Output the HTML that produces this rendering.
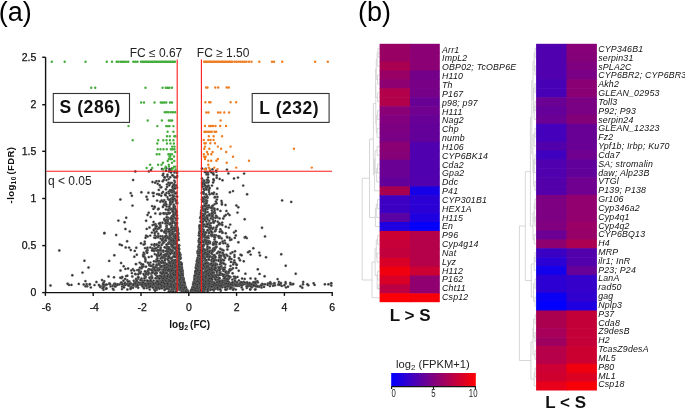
<!DOCTYPE html>
<html><head><meta charset="utf-8"><style>
html,body{margin:0;padding:0;background:#fff;}
body{width:685px;height:411px;overflow:hidden;position:relative;}
.dk circle{fill:#303030;stroke:#8a8a8a;stroke-width:0.32}
svg{position:absolute;left:0;top:0;font-family:"Liberation Sans",sans-serif;will-change:transform;filter:blur(0.3px);}
</style></head><body>
<svg width="685" height="411" viewBox="0 0 685 411">
<g stroke="#cdcdcd" stroke-width="0.8" fill="none"><path d="M379.6 48.3H378.0V57.2H379.6 M378.0 52.7H377.1V66.1H379.6 M379.6 75.0H377.6V83.9H379.6 M377.1 59.4H376.3V79.4H377.6 M379.6 92.8H377.6V101.7H379.6 M376.3 69.0H375.6V97.3H377.6 M379.6 110.6H377.6V119.5H379.6 M379.6 128.4H377.1V137.4H379.6 M377.6 115.1H376.3V132.9H377.1 M375.6 83.4H375.8V123.8H376.3 M379.6 146.3H377.1V155.2H379.6 M379.6 164.1H377.6V173.0H379.6 M377.6 168.5H376.6V181.9H379.6 M377.1 150.7H375.1V172.6H376.6 M375.1 158.7H374.6V190.8H379.6 M375.8 103.6H373.4V174.7H374.6 M379.6 199.7H377.5V208.6H379.6 M377.5 204.2H376.3V217.5H379.6 M376.3 208.5H375.4V226.5H379.6 M373.4 139.0H369.5V217.4H375.4 M379.6 235.4H377.6V244.3H379.6 M379.6 253.2H377.1V262.1H379.6 M377.6 239.8H376.3V257.6H377.1 M379.6 271.0H377.6V279.9H379.6 M376.3 248.6H375.1V275.5H377.6 M379.6 288.8H378.0V284.4H378.0 M375.1 275.3H377.2V288.8H379.6 M375.1 262.0H372.0V297.7H379.6 M369.5 178.2H362.2V280.0H372.0 "/><path d="M536.1 48.2H535.0V57.1H536.1 M536.1 66.0H535.0V74.9H536.1 M535.0 52.7H534.2V70.5H535.0 M536.1 83.8H535.0V92.7H536.1 M536.1 101.6H535.0V110.5H536.1 M535.0 106.0H534.2V119.3H536.1 M535.0 88.2H533.6V112.7H534.2 M534.2 61.5H533.0V100.0H533.6 M536.1 128.2H535.0V137.1H536.1 M535.0 132.7H534.2V146.0H536.1 M536.1 154.9H535.0V163.8H536.1 M535.0 159.3H534.2V172.7H536.1 M536.1 181.5H535.0V190.4H536.1 M534.2 160.0H533.6V186.0H535.0 M534.2 135.0H533.0V173.0H533.6 M533.0 80.8H531.8V154.0H533.0 M536.1 199.3H535.0V208.2H536.1 M536.1 217.1H535.0V226.0H536.1 M535.0 203.8H534.2V221.5H535.0 M536.1 234.9H534.2V243.8H536.1 M534.2 212.8H533.0V239.5H534.2 M531.8 117.4H530.4V226.0H533.0 M536.1 252.6H535.0V261.5H536.1 M535.0 257.1H534.2V270.4H536.1 M536.1 279.3H535.0V288.2H536.1 M536.1 297.1H535.0V306.0H536.1 M535.0 283.7H533.6V301.5H535.0 M534.2 264.0H531.3V297.0H533.6 M530.4 171.7H525.3V280.5H531.3 M536.1 314.9H535.0V323.7H536.1 M536.1 332.6H535.0V341.5H536.1 M535.0 319.3H533.6V337.1H535.0 M536.1 350.4H535.0V359.3H536.1 M533.6 328.0H533.0V354.8H535.0 M536.1 368.2H535.0V377.1H536.1 M535.0 372.6H534.2V385.9H536.1 M533.0 342.0H530.9V379.0H534.2 M525.3 226.0H519.4V360.5H530.9 "/></g>
<g font-style="italic" font-size="8.8" fill="#111" letter-spacing="0.2">
<rect x="379.60" y="43.80" width="30.90" height="9.51" fill="#990063"/>
<rect x="409.90" y="43.80" width="29.90" height="9.51" fill="#8b0074"/>
<rect x="379.60" y="52.71" width="30.90" height="9.51" fill="#990063"/>
<rect x="409.90" y="52.71" width="29.90" height="9.51" fill="#8b0074"/>
<rect x="379.60" y="61.62" width="30.90" height="9.51" fill="#aa0050"/>
<rect x="409.90" y="61.62" width="29.90" height="9.51" fill="#8b0074"/>
<rect x="379.60" y="70.53" width="30.90" height="9.51" fill="#990066"/>
<rect x="409.90" y="70.53" width="29.90" height="9.51" fill="#740089"/>
<rect x="379.60" y="79.44" width="30.90" height="9.51" fill="#8e0072"/>
<rect x="409.90" y="79.44" width="29.90" height="9.51" fill="#780086"/>
<rect x="379.60" y="88.35" width="30.90" height="9.51" fill="#b3004a"/>
<rect x="409.90" y="88.35" width="29.90" height="9.51" fill="#760088"/>
<rect x="379.60" y="97.26" width="30.90" height="9.51" fill="#b3004a"/>
<rect x="409.90" y="97.26" width="29.90" height="9.51" fill="#680096"/>
<rect x="379.60" y="106.17" width="30.90" height="9.51" fill="#8a0076"/>
<rect x="409.90" y="106.17" width="29.90" height="9.51" fill="#700090"/>
<rect x="379.60" y="115.08" width="30.90" height="9.51" fill="#820080"/>
<rect x="409.90" y="115.08" width="29.90" height="9.51" fill="#680097"/>
<rect x="379.60" y="123.99" width="30.90" height="9.51" fill="#7e0082"/>
<rect x="409.90" y="123.99" width="29.90" height="9.51" fill="#640099"/>
<rect x="379.60" y="132.90" width="30.90" height="9.51" fill="#7a0086"/>
<rect x="409.90" y="132.90" width="29.90" height="9.51" fill="#64009a"/>
<rect x="379.60" y="141.81" width="30.90" height="9.51" fill="#8a0074"/>
<rect x="409.90" y="141.81" width="29.90" height="9.51" fill="#5000ae"/>
<rect x="379.60" y="150.72" width="30.90" height="9.51" fill="#860078"/>
<rect x="409.90" y="150.72" width="29.90" height="9.51" fill="#5000ae"/>
<rect x="379.60" y="159.63" width="30.90" height="9.51" fill="#6a0094"/>
<rect x="409.90" y="159.63" width="29.90" height="9.51" fill="#5000ae"/>
<rect x="379.60" y="168.54" width="30.90" height="9.51" fill="#6a0094"/>
<rect x="409.90" y="168.54" width="29.90" height="9.51" fill="#5000ae"/>
<rect x="379.60" y="177.46" width="30.90" height="9.51" fill="#64009a"/>
<rect x="409.90" y="177.46" width="29.90" height="9.51" fill="#5200ad"/>
<rect x="379.60" y="186.37" width="30.90" height="9.51" fill="#a8004f"/>
<rect x="409.90" y="186.37" width="29.90" height="9.51" fill="#1800e6"/>
<rect x="379.60" y="195.28" width="30.90" height="9.51" fill="#3c00c2"/>
<rect x="409.90" y="195.28" width="29.90" height="9.51" fill="#2a00d4"/>
<rect x="379.60" y="204.19" width="30.90" height="9.51" fill="#3c00c2"/>
<rect x="409.90" y="204.19" width="29.90" height="9.51" fill="#2a00d4"/>
<rect x="379.60" y="213.10" width="30.90" height="9.51" fill="#5a00a4"/>
<rect x="409.90" y="213.10" width="29.90" height="9.51" fill="#1e00e0"/>
<rect x="379.60" y="222.01" width="30.90" height="9.51" fill="#1e00e0"/>
<rect x="409.90" y="222.01" width="29.90" height="9.51" fill="#0400fa"/>
<rect x="379.60" y="230.92" width="30.90" height="9.51" fill="#cc0033"/>
<rect x="409.90" y="230.92" width="29.90" height="9.51" fill="#b5004a"/>
<rect x="379.60" y="239.83" width="30.90" height="9.51" fill="#c8003a"/>
<rect x="409.90" y="239.83" width="29.90" height="9.51" fill="#b5004a"/>
<rect x="379.60" y="248.74" width="30.90" height="9.51" fill="#c2003e"/>
<rect x="409.90" y="248.74" width="29.90" height="9.51" fill="#b5004a"/>
<rect x="379.60" y="257.65" width="30.90" height="9.51" fill="#d80026"/>
<rect x="409.90" y="257.65" width="29.90" height="9.51" fill="#b5004a"/>
<rect x="379.60" y="266.56" width="30.90" height="9.51" fill="#f0000f"/>
<rect x="409.90" y="266.56" width="29.90" height="9.51" fill="#cc0032"/>
<rect x="379.60" y="275.47" width="30.90" height="9.51" fill="#d80026"/>
<rect x="409.90" y="275.47" width="29.90" height="9.51" fill="#900070"/>
<rect x="379.60" y="284.38" width="30.90" height="9.51" fill="#bc0044"/>
<rect x="409.90" y="284.38" width="29.90" height="9.51" fill="#900070"/>
<rect x="379.60" y="293.29" width="30.90" height="8.91" fill="#fb0004"/>
<rect x="409.90" y="293.29" width="29.90" height="8.91" fill="#f8000a"/>
<text x="442.0" y="52.65">Arr1</text>
<text x="442.0" y="61.49">ImpL2</text>
<text x="442.0" y="70.33">OBP02; TcOBP6E</text>
<text x="442.0" y="79.17">H110</text>
<text x="442.0" y="88.01">Th</text>
<text x="442.0" y="96.85">P167</text>
<text x="442.0" y="105.69">p98; p97</text>
<text x="442.0" y="114.53">H111</text>
<text x="442.0" y="123.37">Nag2</text>
<text x="442.0" y="132.21">Chp</text>
<text x="442.0" y="141.05">numb</text>
<text x="442.0" y="149.89">H106</text>
<text x="442.0" y="158.73">CYP6BK14</text>
<text x="442.0" y="167.57">Cda2</text>
<text x="442.0" y="176.41">Gpa2</text>
<text x="442.0" y="185.25">Ddc</text>
<text x="442.0" y="194.09">P41</text>
<text x="442.0" y="202.93">CYP301B1</text>
<text x="442.0" y="211.77">HEX1A</text>
<text x="442.0" y="220.61">H115</text>
<text x="442.0" y="229.45">En</text>
<text x="442.0" y="238.29">P96</text>
<text x="442.0" y="247.13">Cyp4g14</text>
<text x="442.0" y="255.97">Nat</text>
<text x="442.0" y="264.81">Lyz</text>
<text x="442.0" y="273.65">H112</text>
<text x="442.0" y="282.49">P162</text>
<text x="442.0" y="291.33">Cht11</text>
<text x="442.0" y="300.17">Csp12</text>
<rect x="536.10" y="43.80" width="31.00" height="9.49" fill="#5000ae"/>
<rect x="566.50" y="43.80" width="30.40" height="9.49" fill="#880078"/>
<rect x="536.10" y="52.69" width="31.00" height="9.49" fill="#5000ae"/>
<rect x="566.50" y="52.69" width="30.40" height="9.49" fill="#840079"/>
<rect x="536.10" y="61.58" width="31.00" height="9.49" fill="#5000ae"/>
<rect x="566.50" y="61.58" width="30.40" height="9.49" fill="#7e0081"/>
<rect x="536.10" y="70.47" width="31.00" height="9.49" fill="#5000ae"/>
<rect x="566.50" y="70.47" width="30.40" height="9.49" fill="#7a0086"/>
<rect x="536.10" y="79.36" width="31.00" height="9.49" fill="#4800b7"/>
<rect x="566.50" y="79.36" width="30.40" height="9.49" fill="#8a0074"/>
<rect x="536.10" y="88.25" width="31.00" height="9.49" fill="#4800b7"/>
<rect x="566.50" y="88.25" width="30.40" height="9.49" fill="#8a0074"/>
<rect x="536.10" y="97.14" width="31.00" height="9.49" fill="#6a0094"/>
<rect x="566.50" y="97.14" width="30.40" height="9.49" fill="#7c0082"/>
<rect x="536.10" y="106.03" width="31.00" height="9.49" fill="#640099"/>
<rect x="566.50" y="106.03" width="30.40" height="9.49" fill="#7a0084"/>
<rect x="536.10" y="114.92" width="31.00" height="9.49" fill="#6a0094"/>
<rect x="566.50" y="114.92" width="30.40" height="9.49" fill="#820078"/>
<rect x="536.10" y="123.81" width="31.00" height="9.49" fill="#4400ba"/>
<rect x="566.50" y="123.81" width="30.40" height="9.49" fill="#680096"/>
<rect x="536.10" y="132.70" width="31.00" height="9.49" fill="#4400ba"/>
<rect x="566.50" y="132.70" width="30.40" height="9.49" fill="#680096"/>
<rect x="536.10" y="141.59" width="31.00" height="9.49" fill="#5200ac"/>
<rect x="566.50" y="141.59" width="30.40" height="9.49" fill="#680096"/>
<rect x="536.10" y="150.48" width="31.00" height="9.49" fill="#4000bf"/>
<rect x="566.50" y="150.48" width="30.40" height="9.49" fill="#700090"/>
<rect x="536.10" y="159.37" width="31.00" height="9.49" fill="#5000ae"/>
<rect x="566.50" y="159.37" width="30.40" height="9.49" fill="#62009c"/>
<rect x="536.10" y="168.26" width="31.00" height="9.49" fill="#5000ae"/>
<rect x="566.50" y="168.26" width="30.40" height="9.49" fill="#62009c"/>
<rect x="536.10" y="177.15" width="31.00" height="9.49" fill="#5400aa"/>
<rect x="566.50" y="177.15" width="30.40" height="9.49" fill="#700090"/>
<rect x="536.10" y="186.04" width="31.00" height="9.49" fill="#5400aa"/>
<rect x="566.50" y="186.04" width="30.40" height="9.49" fill="#700090"/>
<rect x="536.10" y="194.93" width="31.00" height="9.49" fill="#7e0082"/>
<rect x="566.50" y="194.93" width="30.40" height="9.49" fill="#920070"/>
<rect x="536.10" y="203.82" width="31.00" height="9.49" fill="#7e0082"/>
<rect x="566.50" y="203.82" width="30.40" height="9.49" fill="#920070"/>
<rect x="536.10" y="212.71" width="31.00" height="9.49" fill="#7e0082"/>
<rect x="566.50" y="212.71" width="30.40" height="9.49" fill="#920070"/>
<rect x="536.10" y="221.59" width="31.00" height="9.49" fill="#800080"/>
<rect x="566.50" y="221.59" width="30.40" height="9.49" fill="#9a0066"/>
<rect x="536.10" y="230.48" width="31.00" height="9.49" fill="#6c0094"/>
<rect x="566.50" y="230.48" width="30.40" height="9.49" fill="#960068"/>
<rect x="536.10" y="239.37" width="31.00" height="9.49" fill="#8e0070"/>
<rect x="566.50" y="239.37" width="30.40" height="9.49" fill="#ac0052"/>
<rect x="536.10" y="248.26" width="31.00" height="9.49" fill="#3a00c4"/>
<rect x="566.50" y="248.26" width="30.40" height="9.49" fill="#5200ac"/>
<rect x="536.10" y="257.15" width="31.00" height="9.49" fill="#2a00d4"/>
<rect x="566.50" y="257.15" width="30.40" height="9.49" fill="#5200ac"/>
<rect x="536.10" y="266.04" width="31.00" height="9.49" fill="#1400ea"/>
<rect x="566.50" y="266.04" width="30.40" height="9.49" fill="#660098"/>
<rect x="536.10" y="274.93" width="31.00" height="9.49" fill="#2c00d2"/>
<rect x="566.50" y="274.93" width="30.40" height="9.49" fill="#3400ca"/>
<rect x="536.10" y="283.82" width="31.00" height="9.49" fill="#2c00d2"/>
<rect x="566.50" y="283.82" width="30.40" height="9.49" fill="#3400ca"/>
<rect x="536.10" y="292.71" width="31.00" height="9.49" fill="#0a00f4"/>
<rect x="566.50" y="292.71" width="30.40" height="9.49" fill="#3000ce"/>
<rect x="536.10" y="301.60" width="31.00" height="9.49" fill="#0000ff"/>
<rect x="566.50" y="301.60" width="30.40" height="9.49" fill="#1e00e0"/>
<rect x="536.10" y="310.49" width="31.00" height="9.49" fill="#aa004f"/>
<rect x="566.50" y="310.49" width="30.40" height="9.49" fill="#c40038"/>
<rect x="536.10" y="319.38" width="31.00" height="9.49" fill="#aa004f"/>
<rect x="566.50" y="319.38" width="30.40" height="9.49" fill="#c40038"/>
<rect x="536.10" y="328.27" width="31.00" height="9.49" fill="#a8005a"/>
<rect x="566.50" y="328.27" width="30.40" height="9.49" fill="#c40038"/>
<rect x="536.10" y="337.16" width="31.00" height="9.49" fill="#9e0060"/>
<rect x="566.50" y="337.16" width="30.40" height="9.49" fill="#c40038"/>
<rect x="536.10" y="346.05" width="31.00" height="9.49" fill="#b6004a"/>
<rect x="566.50" y="346.05" width="30.40" height="9.49" fill="#cc0030"/>
<rect x="536.10" y="354.94" width="31.00" height="9.49" fill="#b6004a"/>
<rect x="566.50" y="354.94" width="30.40" height="9.49" fill="#cc0030"/>
<rect x="536.10" y="363.83" width="31.00" height="9.49" fill="#cc0034"/>
<rect x="566.50" y="363.83" width="30.40" height="9.49" fill="#f0000e"/>
<rect x="536.10" y="372.72" width="31.00" height="9.49" fill="#d0002e"/>
<rect x="566.50" y="372.72" width="30.40" height="9.49" fill="#dc0022"/>
<rect x="536.10" y="381.61" width="31.00" height="8.89" fill="#e8001a"/>
<rect x="566.50" y="381.61" width="30.40" height="8.89" fill="#f80008"/>
<text x="598.2" y="52.00">CYP346B1</text>
<text x="598.2" y="60.83">serpin31</text>
<text x="598.2" y="69.65">sPLA2C</text>
<text x="598.2" y="78.48">CYP6BR2; CYP6BR3</text>
<text x="598.2" y="87.30">Akh2</text>
<text x="598.2" y="96.13">GLEAN_02953</text>
<text x="598.2" y="104.96">Toll3</text>
<text x="598.2" y="113.78">P92; P93</text>
<text x="598.2" y="122.61">serpin24</text>
<text x="598.2" y="131.43">GLEAN_12323</text>
<text x="598.2" y="140.26">Fz2</text>
<text x="598.2" y="149.09">Ypf1b; Irbp; Ku70</text>
<text x="598.2" y="157.91">Cda7</text>
<text x="598.2" y="166.74">SA; stromalin</text>
<text x="598.2" y="175.56">daw; Alp23B</text>
<text x="598.2" y="184.39">VTGl</text>
<text x="598.2" y="193.22">P139; P138</text>
<text x="598.2" y="202.04">Gr106</text>
<text x="598.2" y="210.87">Cyp346a2</text>
<text x="598.2" y="219.69">Cyp4q1</text>
<text x="598.2" y="228.52">Cyp4q2</text>
<text x="598.2" y="237.35">CYP6BQ13</text>
<text x="598.2" y="246.17">H4</text>
<text x="598.2" y="255.00">MRP</text>
<text x="598.2" y="263.82">ilr1; InR</text>
<text x="598.2" y="272.65">P23; P24</text>
<text x="598.2" y="281.48">LanA</text>
<text x="598.2" y="290.30">rad50</text>
<text x="598.2" y="299.13">gag</text>
<text x="598.2" y="307.95">Nplp3</text>
<text x="598.2" y="316.78">P37</text>
<text x="598.2" y="325.61">Cda8</text>
<text x="598.2" y="334.43">Z9desB</text>
<text x="598.2" y="343.26">H2</text>
<text x="598.2" y="352.08">TcasZ9desA</text>
<text x="598.2" y="360.91">ML5</text>
<text x="598.2" y="369.74">P80</text>
<text x="598.2" y="378.56">ML1</text>
<text x="598.2" y="387.39">Csp18</text>
</g>
<defs><linearGradient id="cb" x1="0" x2="1" y1="0" y2="0">
<stop offset="0" stop-color="#0000ff"/><stop offset="0.5" stop-color="#800080"/><stop offset="1" stop-color="#ff0000"/></linearGradient></defs>
<rect x="391.2" y="373" width="84.6" height="13.4" fill="url(#cb)"/>
<path d="M391.2 386.6H475.8 M391.6 386.6v2.5 M433.5 386.6v2.5 M475.4 386.6v2.5" stroke="#111" stroke-width="1.1" fill="none"/>
<g font-size="10" fill="#222" text-anchor="middle"><text transform="translate(393.6 397.4) scale(0.78 1)">0</text><text transform="translate(433.3 397.4) scale(0.78 1)">5</text><text transform="translate(473.2 397.4) scale(0.78 1)">10</text></g>

<g class="dk"><circle cx="202.1" cy="275.2" r="1.2"/><circle cx="160.5" cy="284.7" r="1.2"/><circle cx="203.2" cy="273.6" r="1.2"/><circle cx="168.9" cy="262.2" r="1.2"/><circle cx="218.2" cy="269.9" r="1.2"/><circle cx="180.4" cy="275.0" r="1.2"/><circle cx="87.2" cy="286.2" r="1.2"/><circle cx="224.3" cy="216.3" r="1.2"/><circle cx="163.8" cy="286.7" r="1.2"/><circle cx="159.7" cy="185.3" r="1.2"/><circle cx="180.3" cy="282.6" r="1.2"/><circle cx="234.9" cy="281.2" r="1.2"/><circle cx="165.5" cy="279.2" r="1.2"/><circle cx="208.1" cy="243.6" r="1.2"/><circle cx="179.4" cy="272.7" r="1.2"/><circle cx="170.3" cy="218.5" r="1.2"/><circle cx="220.8" cy="281.8" r="1.2"/><circle cx="179.0" cy="283.7" r="1.2"/><circle cx="170.3" cy="182.9" r="1.2"/><circle cx="152.2" cy="285.1" r="1.2"/><circle cx="175.3" cy="263.0" r="1.2"/><circle cx="144.1" cy="286.3" r="1.2"/><circle cx="225.1" cy="279.0" r="1.2"/><circle cx="199.0" cy="278.6" r="1.2"/><circle cx="182.7" cy="276.6" r="1.2"/><circle cx="141.5" cy="278.4" r="1.2"/><circle cx="198.9" cy="283.3" r="1.2"/><circle cx="247.1" cy="282.3" r="1.2"/><circle cx="171.7" cy="220.5" r="1.2"/><circle cx="211.9" cy="210.5" r="1.2"/><circle cx="193.8" cy="285.3" r="1.2"/><circle cx="225.3" cy="284.4" r="1.2"/><circle cx="196.2" cy="285.4" r="1.2"/><circle cx="156.3" cy="288.4" r="1.2"/><circle cx="303.2" cy="281.9" r="1.2"/><circle cx="169.0" cy="193.4" r="1.2"/><circle cx="163.1" cy="239.8" r="1.2"/><circle cx="208.6" cy="284.5" r="1.2"/><circle cx="195.6" cy="274.2" r="1.2"/><circle cx="158.3" cy="254.9" r="1.2"/><circle cx="197.3" cy="284.9" r="1.2"/><circle cx="176.7" cy="276.7" r="1.2"/><circle cx="205.2" cy="211.4" r="1.2"/><circle cx="220.1" cy="237.1" r="1.2"/><circle cx="162.4" cy="236.1" r="1.2"/><circle cx="201.5" cy="238.4" r="1.2"/><circle cx="184.9" cy="286.4" r="1.2"/><circle cx="200.9" cy="285.7" r="1.2"/><circle cx="179.6" cy="271.8" r="1.2"/><circle cx="216.6" cy="246.8" r="1.2"/><circle cx="167.4" cy="266.9" r="1.2"/><circle cx="203.0" cy="260.6" r="1.2"/><circle cx="169.3" cy="248.7" r="1.2"/><circle cx="198.9" cy="261.8" r="1.2"/><circle cx="172.5" cy="287.8" r="1.2"/><circle cx="177.1" cy="226.7" r="1.2"/><circle cx="175.4" cy="284.8" r="1.2"/><circle cx="207.0" cy="285.2" r="1.2"/><circle cx="163.1" cy="262.7" r="1.2"/><circle cx="170.9" cy="281.7" r="1.2"/><circle cx="197.7" cy="266.1" r="1.2"/><circle cx="205.2" cy="268.3" r="1.2"/><circle cx="186.3" cy="291.5" r="1.2"/><circle cx="221.1" cy="224.1" r="1.2"/><circle cx="167.3" cy="213.3" r="1.2"/><circle cx="201.6" cy="281.0" r="1.2"/><circle cx="181.6" cy="284.7" r="1.2"/><circle cx="221.7" cy="238.4" r="1.2"/><circle cx="204.3" cy="213.7" r="1.2"/><circle cx="203.1" cy="210.0" r="1.2"/><circle cx="162.2" cy="269.8" r="1.2"/><circle cx="216.4" cy="227.3" r="1.2"/><circle cx="198.3" cy="272.3" r="1.2"/><circle cx="136.7" cy="284.4" r="1.2"/><circle cx="203.0" cy="263.4" r="1.2"/><circle cx="177.7" cy="255.2" r="1.2"/><circle cx="167.0" cy="265.2" r="1.2"/><circle cx="152.8" cy="282.7" r="1.2"/><circle cx="140.2" cy="284.2" r="1.2"/><circle cx="192.4" cy="290.5" r="1.2"/><circle cx="174.1" cy="266.4" r="1.2"/><circle cx="204.5" cy="283.9" r="1.2"/><circle cx="197.7" cy="278.4" r="1.2"/><circle cx="166.1" cy="278.6" r="1.2"/><circle cx="171.3" cy="262.4" r="1.2"/><circle cx="196.7" cy="265.6" r="1.2"/><circle cx="203.3" cy="249.8" r="1.2"/><circle cx="209.7" cy="264.6" r="1.2"/><circle cx="137.2" cy="270.1" r="1.2"/><circle cx="214.6" cy="197.4" r="1.2"/><circle cx="203.0" cy="265.8" r="1.2"/><circle cx="195.9" cy="283.7" r="1.2"/><circle cx="214.4" cy="283.4" r="1.2"/><circle cx="198.1" cy="285.5" r="1.2"/><circle cx="215.4" cy="230.7" r="1.2"/><circle cx="202.8" cy="264.9" r="1.2"/><circle cx="256.2" cy="284.9" r="1.2"/><circle cx="176.6" cy="260.9" r="1.2"/><circle cx="85.5" cy="286.3" r="1.2"/><circle cx="164.0" cy="237.5" r="1.2"/><circle cx="197.8" cy="274.1" r="1.2"/><circle cx="176.5" cy="247.2" r="1.2"/><circle cx="162.5" cy="261.6" r="1.2"/><circle cx="149.3" cy="265.2" r="1.2"/><circle cx="192.4" cy="288.0" r="1.2"/><circle cx="209.5" cy="269.8" r="1.2"/><circle cx="158.4" cy="262.1" r="1.2"/><circle cx="164.4" cy="220.1" r="1.2"/><circle cx="220.3" cy="274.7" r="1.2"/><circle cx="229.6" cy="215.1" r="1.2"/><circle cx="175.2" cy="285.2" r="1.2"/><circle cx="207.9" cy="255.8" r="1.2"/><circle cx="207.0" cy="201.1" r="1.2"/><circle cx="206.0" cy="182.6" r="1.2"/><circle cx="152.5" cy="182.0" r="1.2"/><circle cx="146.1" cy="284.3" r="1.2"/><circle cx="157.1" cy="250.4" r="1.2"/><circle cx="177.5" cy="272.3" r="1.2"/><circle cx="204.4" cy="217.1" r="1.2"/><circle cx="208.7" cy="247.5" r="1.2"/><circle cx="153.3" cy="287.5" r="1.2"/><circle cx="280.4" cy="284.9" r="1.2"/><circle cx="195.6" cy="272.1" r="1.2"/><circle cx="200.0" cy="270.6" r="1.2"/><circle cx="184.8" cy="284.3" r="1.2"/><circle cx="203.3" cy="279.3" r="1.2"/><circle cx="206.4" cy="232.7" r="1.2"/><circle cx="206.6" cy="240.6" r="1.2"/><circle cx="224.4" cy="269.3" r="1.2"/><circle cx="168.7" cy="191.6" r="1.2"/><circle cx="197.4" cy="282.6" r="1.2"/><circle cx="234.8" cy="237.9" r="1.2"/><circle cx="206.1" cy="226.2" r="1.2"/><circle cx="179.3" cy="285.8" r="1.2"/><circle cx="168.1" cy="282.0" r="1.2"/><circle cx="229.7" cy="257.0" r="1.2"/><circle cx="163.3" cy="273.4" r="1.2"/><circle cx="237.5" cy="212.6" r="1.2"/><circle cx="50.5" cy="285.5" r="1.2"/><circle cx="240.5" cy="254.7" r="1.2"/><circle cx="215.1" cy="197.0" r="1.2"/><circle cx="162.4" cy="280.1" r="1.2"/><circle cx="161.9" cy="285.0" r="1.2"/><circle cx="181.9" cy="275.0" r="1.2"/><circle cx="176.2" cy="285.9" r="1.2"/><circle cx="155.7" cy="274.7" r="1.2"/><circle cx="202.2" cy="273.3" r="1.2"/><circle cx="213.1" cy="286.4" r="1.2"/><circle cx="139.2" cy="272.0" r="1.2"/><circle cx="178.8" cy="245.5" r="1.2"/><circle cx="171.1" cy="280.5" r="1.2"/><circle cx="151.4" cy="273.7" r="1.2"/><circle cx="235.2" cy="281.7" r="1.2"/><circle cx="172.9" cy="187.3" r="1.2"/><circle cx="169.6" cy="229.8" r="1.2"/><circle cx="183.9" cy="285.0" r="1.2"/><circle cx="231.4" cy="269.6" r="1.2"/><circle cx="198.2" cy="255.8" r="1.2"/><circle cx="197.6" cy="282.5" r="1.2"/><circle cx="152.6" cy="225.1" r="1.2"/><circle cx="226.2" cy="254.6" r="1.2"/><circle cx="202.8" cy="223.9" r="1.2"/><circle cx="197.4" cy="284.9" r="1.2"/><circle cx="154.8" cy="254.1" r="1.2"/><circle cx="193.9" cy="285.3" r="1.2"/><circle cx="198.5" cy="287.1" r="1.2"/><circle cx="136.7" cy="283.0" r="1.2"/><circle cx="206.2" cy="284.4" r="1.2"/><circle cx="194.1" cy="281.1" r="1.2"/><circle cx="220.3" cy="248.8" r="1.2"/><circle cx="174.1" cy="261.7" r="1.2"/><circle cx="151.8" cy="272.8" r="1.2"/><circle cx="183.3" cy="283.4" r="1.2"/><circle cx="171.6" cy="202.7" r="1.2"/><circle cx="171.7" cy="263.3" r="1.2"/><circle cx="207.3" cy="274.7" r="1.2"/><circle cx="154.0" cy="261.3" r="1.2"/><circle cx="206.3" cy="266.7" r="1.2"/><circle cx="192.4" cy="291.6" r="1.2"/><circle cx="158.7" cy="282.0" r="1.2"/><circle cx="220.3" cy="243.0" r="1.2"/><circle cx="203.7" cy="286.7" r="1.2"/><circle cx="173.6" cy="267.4" r="1.2"/><circle cx="179.1" cy="276.2" r="1.2"/><circle cx="197.1" cy="275.2" r="1.2"/><circle cx="235.5" cy="284.2" r="1.2"/><circle cx="155.6" cy="224.2" r="1.2"/><circle cx="178.5" cy="251.3" r="1.2"/><circle cx="184.1" cy="289.3" r="1.2"/><circle cx="117.6" cy="284.3" r="1.2"/><circle cx="201.7" cy="216.5" r="1.2"/><circle cx="172.7" cy="289.3" r="1.2"/><circle cx="220.6" cy="282.9" r="1.2"/><circle cx="164.8" cy="177.4" r="1.2"/><circle cx="179.6" cy="269.6" r="1.2"/><circle cx="234.0" cy="178.5" r="1.2"/><circle cx="215.9" cy="235.2" r="1.2"/><circle cx="183.5" cy="279.8" r="1.2"/><circle cx="204.9" cy="237.8" r="1.2"/><circle cx="204.0" cy="284.5" r="1.2"/><circle cx="249.0" cy="284.3" r="1.2"/><circle cx="207.6" cy="216.0" r="1.2"/><circle cx="203.2" cy="288.8" r="1.2"/><circle cx="170.1" cy="234.6" r="1.2"/><circle cx="155.0" cy="283.7" r="1.2"/><circle cx="175.6" cy="265.4" r="1.2"/><circle cx="169.2" cy="285.1" r="1.2"/><circle cx="125.1" cy="278.9" r="1.2"/><circle cx="158.5" cy="284.4" r="1.2"/><circle cx="199.9" cy="287.9" r="1.2"/><circle cx="214.7" cy="204.1" r="1.2"/><circle cx="168.6" cy="267.9" r="1.2"/><circle cx="165.9" cy="284.1" r="1.2"/><circle cx="169.0" cy="263.9" r="1.2"/><circle cx="152.8" cy="248.8" r="1.2"/><circle cx="213.8" cy="180.5" r="1.2"/><circle cx="175.0" cy="284.0" r="1.2"/><circle cx="197.1" cy="264.5" r="1.2"/><circle cx="144.5" cy="283.6" r="1.2"/><circle cx="212.7" cy="251.7" r="1.2"/><circle cx="181.4" cy="274.6" r="1.2"/><circle cx="159.3" cy="223.8" r="1.2"/><circle cx="215.7" cy="263.4" r="1.2"/><circle cx="170.2" cy="277.3" r="1.2"/><circle cx="181.9" cy="267.5" r="1.2"/><circle cx="172.7" cy="264.2" r="1.2"/><circle cx="166.6" cy="236.7" r="1.2"/><circle cx="223.0" cy="253.0" r="1.2"/><circle cx="161.3" cy="287.0" r="1.2"/><circle cx="204.8" cy="253.4" r="1.2"/><circle cx="184.5" cy="285.2" r="1.2"/><circle cx="178.8" cy="287.1" r="1.2"/><circle cx="222.1" cy="274.5" r="1.2"/><circle cx="212.8" cy="219.5" r="1.2"/><circle cx="182.6" cy="277.0" r="1.2"/><circle cx="176.2" cy="265.0" r="1.2"/><circle cx="235.8" cy="235.5" r="1.2"/><circle cx="176.2" cy="220.2" r="1.2"/><circle cx="169.0" cy="289.0" r="1.2"/><circle cx="149.5" cy="227.5" r="1.2"/><circle cx="237.6" cy="283.7" r="1.2"/><circle cx="178.0" cy="266.2" r="1.2"/><circle cx="174.7" cy="193.2" r="1.2"/><circle cx="157.1" cy="276.9" r="1.2"/><circle cx="199.2" cy="269.7" r="1.2"/><circle cx="215.4" cy="217.8" r="1.2"/><circle cx="199.1" cy="253.5" r="1.2"/><circle cx="198.5" cy="254.8" r="1.2"/><circle cx="176.3" cy="227.8" r="1.2"/><circle cx="210.1" cy="276.3" r="1.2"/><circle cx="176.7" cy="282.8" r="1.2"/><circle cx="151.7" cy="285.4" r="1.2"/><circle cx="216.7" cy="177.8" r="1.2"/><circle cx="215.0" cy="278.5" r="1.2"/><circle cx="184.7" cy="286.7" r="1.2"/><circle cx="207.4" cy="244.8" r="1.2"/><circle cx="202.6" cy="222.0" r="1.2"/><circle cx="180.5" cy="265.8" r="1.2"/><circle cx="115.0" cy="283.6" r="1.2"/><circle cx="179.7" cy="284.4" r="1.2"/><circle cx="202.2" cy="266.3" r="1.2"/><circle cx="170.2" cy="284.5" r="1.2"/><circle cx="205.3" cy="289.5" r="1.2"/><circle cx="213.1" cy="264.2" r="1.2"/><circle cx="211.2" cy="282.1" r="1.2"/><circle cx="182.0" cy="287.0" r="1.2"/><circle cx="195.8" cy="286.5" r="1.2"/><circle cx="165.9" cy="278.0" r="1.2"/><circle cx="230.1" cy="269.3" r="1.2"/><circle cx="179.8" cy="277.2" r="1.2"/><circle cx="205.9" cy="278.6" r="1.2"/><circle cx="201.9" cy="282.3" r="1.2"/><circle cx="168.0" cy="271.0" r="1.2"/><circle cx="158.4" cy="283.3" r="1.2"/><circle cx="203.7" cy="286.2" r="1.2"/><circle cx="211.8" cy="278.5" r="1.2"/><circle cx="201.8" cy="273.3" r="1.2"/><circle cx="163.4" cy="262.9" r="1.2"/><circle cx="183.1" cy="285.5" r="1.2"/><circle cx="195.2" cy="285.8" r="1.2"/><circle cx="166.5" cy="266.0" r="1.2"/><circle cx="105.1" cy="285.2" r="1.2"/><circle cx="165.3" cy="267.0" r="1.2"/><circle cx="170.2" cy="229.7" r="1.2"/><circle cx="175.1" cy="269.4" r="1.2"/><circle cx="174.8" cy="208.2" r="1.2"/><circle cx="196.5" cy="278.5" r="1.2"/><circle cx="166.0" cy="240.5" r="1.2"/><circle cx="170.8" cy="202.3" r="1.2"/><circle cx="180.7" cy="268.3" r="1.2"/><circle cx="145.2" cy="258.2" r="1.2"/><circle cx="199.9" cy="234.4" r="1.2"/><circle cx="145.6" cy="237.7" r="1.2"/><circle cx="206.8" cy="276.0" r="1.2"/><circle cx="177.2" cy="272.0" r="1.2"/><circle cx="207.5" cy="219.2" r="1.2"/><circle cx="200.1" cy="256.2" r="1.2"/><circle cx="223.8" cy="284.9" r="1.2"/><circle cx="169.2" cy="239.5" r="1.2"/><circle cx="182.0" cy="283.2" r="1.2"/><circle cx="237.3" cy="283.6" r="1.2"/><circle cx="148.8" cy="284.8" r="1.2"/><circle cx="197.7" cy="284.3" r="1.2"/><circle cx="157.0" cy="282.4" r="1.2"/><circle cx="148.6" cy="273.4" r="1.2"/><circle cx="171.6" cy="272.3" r="1.2"/><circle cx="207.1" cy="256.9" r="1.2"/><circle cx="281.8" cy="285.9" r="1.2"/><circle cx="204.1" cy="268.3" r="1.2"/><circle cx="176.4" cy="270.4" r="1.2"/><circle cx="175.8" cy="274.1" r="1.2"/><circle cx="204.2" cy="291.2" r="1.2"/><circle cx="204.9" cy="232.4" r="1.2"/><circle cx="215.3" cy="277.7" r="1.2"/><circle cx="135.3" cy="171.5" r="1.2"/><circle cx="210.4" cy="287.9" r="1.2"/><circle cx="177.4" cy="277.4" r="1.2"/><circle cx="196.5" cy="264.5" r="1.2"/><circle cx="175.2" cy="259.9" r="1.2"/><circle cx="163.1" cy="276.2" r="1.2"/><circle cx="153.5" cy="196.1" r="1.2"/><circle cx="228.2" cy="275.7" r="1.2"/><circle cx="208.3" cy="284.8" r="1.2"/><circle cx="204.6" cy="204.0" r="1.2"/><circle cx="203.0" cy="183.7" r="1.2"/><circle cx="218.0" cy="281.5" r="1.2"/><circle cx="59.3" cy="250.5" r="1.2"/><circle cx="199.1" cy="273.3" r="1.2"/><circle cx="202.6" cy="231.5" r="1.2"/><circle cx="137.0" cy="282.6" r="1.2"/><circle cx="145.7" cy="276.2" r="1.2"/><circle cx="163.4" cy="255.1" r="1.2"/><circle cx="150.2" cy="235.6" r="1.2"/><circle cx="169.3" cy="283.7" r="1.2"/><circle cx="181.6" cy="284.8" r="1.2"/><circle cx="171.0" cy="237.7" r="1.2"/><circle cx="163.5" cy="287.3" r="1.2"/><circle cx="169.9" cy="284.4" r="1.2"/><circle cx="176.5" cy="234.2" r="1.2"/><circle cx="163.5" cy="257.5" r="1.2"/><circle cx="220.5" cy="267.7" r="1.2"/><circle cx="216.2" cy="288.1" r="1.2"/><circle cx="177.2" cy="237.2" r="1.2"/><circle cx="214.3" cy="269.7" r="1.2"/><circle cx="131.9" cy="195.8" r="1.2"/><circle cx="270.8" cy="283.9" r="1.2"/><circle cx="168.2" cy="256.4" r="1.2"/><circle cx="175.7" cy="213.3" r="1.2"/><circle cx="199.2" cy="253.8" r="1.2"/><circle cx="172.4" cy="284.4" r="1.2"/><circle cx="170.5" cy="241.7" r="1.2"/><circle cx="166.4" cy="226.7" r="1.2"/><circle cx="230.4" cy="277.0" r="1.2"/><circle cx="174.9" cy="288.0" r="1.2"/><circle cx="165.2" cy="283.4" r="1.2"/><circle cx="179.6" cy="266.3" r="1.2"/><circle cx="211.0" cy="273.6" r="1.2"/><circle cx="198.7" cy="283.8" r="1.2"/><circle cx="240.4" cy="282.9" r="1.2"/><circle cx="162.9" cy="207.0" r="1.2"/><circle cx="195.1" cy="284.4" r="1.2"/><circle cx="180.2" cy="283.5" r="1.2"/><circle cx="194.2" cy="281.4" r="1.2"/><circle cx="200.4" cy="262.9" r="1.2"/><circle cx="184.2" cy="284.2" r="1.2"/><circle cx="98.9" cy="284.9" r="1.2"/><circle cx="181.4" cy="288.6" r="1.2"/><circle cx="183.3" cy="280.9" r="1.2"/><circle cx="215.1" cy="266.3" r="1.2"/><circle cx="249.3" cy="285.9" r="1.2"/><circle cx="203.8" cy="282.5" r="1.2"/><circle cx="175.5" cy="247.2" r="1.2"/><circle cx="141.6" cy="268.3" r="1.2"/><circle cx="211.7" cy="285.6" r="1.2"/><circle cx="204.1" cy="288.2" r="1.2"/><circle cx="164.0" cy="284.4" r="1.2"/><circle cx="168.3" cy="284.7" r="1.2"/><circle cx="200.4" cy="291.3" r="1.2"/><circle cx="148.5" cy="284.5" r="1.2"/><circle cx="197.3" cy="278.5" r="1.2"/><circle cx="175.6" cy="277.5" r="1.2"/><circle cx="205.8" cy="271.7" r="1.2"/><circle cx="235.8" cy="289.6" r="1.2"/><circle cx="202.2" cy="283.2" r="1.2"/><circle cx="143.2" cy="283.1" r="1.2"/><circle cx="196.4" cy="284.8" r="1.2"/><circle cx="166.7" cy="276.6" r="1.2"/><circle cx="209.0" cy="232.1" r="1.2"/><circle cx="168.0" cy="219.7" r="1.2"/><circle cx="257.9" cy="282.4" r="1.2"/><circle cx="196.4" cy="282.7" r="1.2"/><circle cx="185.5" cy="288.0" r="1.2"/><circle cx="172.7" cy="244.1" r="1.2"/><circle cx="171.2" cy="271.8" r="1.2"/><circle cx="165.4" cy="220.4" r="1.2"/><circle cx="270.1" cy="282.7" r="1.2"/><circle cx="181.1" cy="273.3" r="1.2"/><circle cx="220.4" cy="285.2" r="1.2"/><circle cx="195.7" cy="283.4" r="1.2"/><circle cx="146.7" cy="228.9" r="1.2"/><circle cx="230.5" cy="266.0" r="1.2"/><circle cx="147.9" cy="270.6" r="1.2"/><circle cx="227.0" cy="236.7" r="1.2"/><circle cx="215.0" cy="269.8" r="1.2"/><circle cx="197.0" cy="268.2" r="1.2"/><circle cx="171.7" cy="289.9" r="1.2"/><circle cx="184.6" cy="285.7" r="1.2"/><circle cx="220.5" cy="285.3" r="1.2"/><circle cx="182.4" cy="277.2" r="1.2"/><circle cx="197.4" cy="283.2" r="1.2"/><circle cx="263.0" cy="284.4" r="1.2"/><circle cx="208.0" cy="285.9" r="1.2"/><circle cx="199.2" cy="241.5" r="1.2"/><circle cx="182.5" cy="273.1" r="1.2"/><circle cx="194.8" cy="284.8" r="1.2"/><circle cx="138.0" cy="278.8" r="1.2"/><circle cx="197.3" cy="276.5" r="1.2"/><circle cx="195.5" cy="275.7" r="1.2"/><circle cx="170.2" cy="277.1" r="1.2"/><circle cx="182.9" cy="284.1" r="1.2"/><circle cx="161.7" cy="256.9" r="1.2"/><circle cx="206.8" cy="271.9" r="1.2"/><circle cx="181.4" cy="265.9" r="1.2"/><circle cx="169.7" cy="204.9" r="1.2"/><circle cx="212.2" cy="275.3" r="1.2"/><circle cx="195.2" cy="278.4" r="1.2"/><circle cx="177.5" cy="253.9" r="1.2"/><circle cx="171.8" cy="221.1" r="1.2"/><circle cx="180.6" cy="279.2" r="1.2"/><circle cx="194.6" cy="289.7" r="1.2"/><circle cx="168.9" cy="242.1" r="1.2"/><circle cx="195.8" cy="274.6" r="1.2"/><circle cx="166.9" cy="246.3" r="1.2"/><circle cx="213.9" cy="242.5" r="1.2"/><circle cx="179.1" cy="275.4" r="1.2"/><circle cx="157.7" cy="183.7" r="1.2"/><circle cx="182.0" cy="284.8" r="1.2"/><circle cx="207.7" cy="230.5" r="1.2"/><circle cx="174.4" cy="227.5" r="1.2"/><circle cx="194.8" cy="279.0" r="1.2"/><circle cx="177.3" cy="230.0" r="1.2"/><circle cx="250.3" cy="289.2" r="1.2"/><circle cx="206.8" cy="279.8" r="1.2"/><circle cx="213.1" cy="235.1" r="1.2"/><circle cx="200.8" cy="221.3" r="1.2"/><circle cx="211.3" cy="268.6" r="1.2"/><circle cx="211.7" cy="276.9" r="1.2"/><circle cx="183.4" cy="279.7" r="1.2"/><circle cx="182.3" cy="278.0" r="1.2"/><circle cx="172.7" cy="282.6" r="1.2"/><circle cx="195.8" cy="272.4" r="1.2"/><circle cx="197.6" cy="274.9" r="1.2"/><circle cx="175.6" cy="177.2" r="1.2"/><circle cx="196.5" cy="279.0" r="1.2"/><circle cx="172.5" cy="199.3" r="1.2"/><circle cx="177.3" cy="203.1" r="1.2"/><circle cx="160.5" cy="255.0" r="1.2"/><circle cx="196.1" cy="266.8" r="1.2"/><circle cx="167.4" cy="258.5" r="1.2"/><circle cx="214.3" cy="283.9" r="1.2"/><circle cx="178.5" cy="278.4" r="1.2"/><circle cx="161.9" cy="281.4" r="1.2"/><circle cx="173.4" cy="260.5" r="1.2"/><circle cx="180.2" cy="273.3" r="1.2"/><circle cx="151.9" cy="285.1" r="1.2"/><circle cx="148.7" cy="269.1" r="1.2"/><circle cx="220.2" cy="287.7" r="1.2"/><circle cx="172.0" cy="284.1" r="1.2"/><circle cx="206.6" cy="256.0" r="1.2"/><circle cx="197.9" cy="284.2" r="1.2"/><circle cx="292.2" cy="284.2" r="1.2"/><circle cx="181.6" cy="268.9" r="1.2"/><circle cx="173.9" cy="240.5" r="1.2"/><circle cx="197.7" cy="270.2" r="1.2"/><circle cx="252.5" cy="284.4" r="1.2"/><circle cx="165.5" cy="272.2" r="1.2"/><circle cx="200.6" cy="284.4" r="1.2"/><circle cx="166.1" cy="282.3" r="1.2"/><circle cx="152.1" cy="206.1" r="1.2"/><circle cx="177.2" cy="283.3" r="1.2"/><circle cx="204.4" cy="285.9" r="1.2"/><circle cx="199.6" cy="264.8" r="1.2"/><circle cx="208.1" cy="174.5" r="1.2"/><circle cx="166.7" cy="225.7" r="1.2"/><circle cx="211.3" cy="272.7" r="1.2"/><circle cx="201.5" cy="286.9" r="1.2"/><circle cx="143.6" cy="266.5" r="1.2"/><circle cx="103.5" cy="289.8" r="1.2"/><circle cx="203.7" cy="267.6" r="1.2"/><circle cx="140.8" cy="271.7" r="1.2"/><circle cx="178.9" cy="281.0" r="1.2"/><circle cx="149.2" cy="286.2" r="1.2"/><circle cx="163.3" cy="270.8" r="1.2"/><circle cx="331.3" cy="285.6" r="1.2"/><circle cx="200.8" cy="280.7" r="1.2"/><circle cx="176.4" cy="288.9" r="1.2"/><circle cx="182.6" cy="278.8" r="1.2"/><circle cx="202.4" cy="247.0" r="1.2"/><circle cx="143.7" cy="287.2" r="1.2"/><circle cx="223.8" cy="270.9" r="1.2"/><circle cx="200.1" cy="274.4" r="1.2"/><circle cx="177.3" cy="218.5" r="1.2"/><circle cx="225.9" cy="282.4" r="1.2"/><circle cx="199.9" cy="281.1" r="1.2"/><circle cx="199.5" cy="286.0" r="1.2"/><circle cx="199.2" cy="291.2" r="1.2"/><circle cx="178.3" cy="284.7" r="1.2"/><circle cx="157.6" cy="283.9" r="1.2"/><circle cx="149.8" cy="285.3" r="1.2"/><circle cx="141.6" cy="282.8" r="1.2"/><circle cx="175.2" cy="284.2" r="1.2"/><circle cx="215.4" cy="270.1" r="1.2"/><circle cx="179.6" cy="254.8" r="1.2"/><circle cx="109.3" cy="283.4" r="1.2"/><circle cx="208.7" cy="281.7" r="1.2"/><circle cx="207.2" cy="238.1" r="1.2"/><circle cx="204.3" cy="284.1" r="1.2"/><circle cx="228.1" cy="213.8" r="1.2"/><circle cx="207.1" cy="284.0" r="1.2"/><circle cx="171.5" cy="191.8" r="1.2"/><circle cx="148.1" cy="282.9" r="1.2"/><circle cx="213.5" cy="276.8" r="1.2"/><circle cx="178.0" cy="259.4" r="1.2"/><circle cx="194.2" cy="289.3" r="1.2"/><circle cx="178.4" cy="285.7" r="1.2"/><circle cx="213.8" cy="290.6" r="1.2"/><circle cx="200.9" cy="278.9" r="1.2"/><circle cx="195.8" cy="275.9" r="1.2"/><circle cx="206.1" cy="277.4" r="1.2"/><circle cx="202.0" cy="168.5" r="1.2"/><circle cx="163.4" cy="265.8" r="1.2"/><circle cx="171.4" cy="284.7" r="1.2"/><circle cx="164.5" cy="263.2" r="1.2"/><circle cx="234.0" cy="232.4" r="1.2"/><circle cx="159.5" cy="283.9" r="1.2"/><circle cx="172.6" cy="284.7" r="1.2"/><circle cx="193.9" cy="285.6" r="1.2"/><circle cx="208.9" cy="252.3" r="1.2"/><circle cx="200.5" cy="280.2" r="1.2"/><circle cx="205.5" cy="261.2" r="1.2"/><circle cx="183.1" cy="284.8" r="1.2"/><circle cx="200.9" cy="285.8" r="1.2"/><circle cx="210.7" cy="282.3" r="1.2"/><circle cx="155.6" cy="269.6" r="1.2"/><circle cx="182.7" cy="284.4" r="1.2"/><circle cx="204.2" cy="281.3" r="1.2"/><circle cx="155.8" cy="272.1" r="1.2"/><circle cx="160.2" cy="236.2" r="1.2"/><circle cx="195.6" cy="280.4" r="1.2"/><circle cx="180.6" cy="267.7" r="1.2"/><circle cx="222.2" cy="222.6" r="1.2"/><circle cx="174.7" cy="286.3" r="1.2"/><circle cx="171.5" cy="202.1" r="1.2"/><circle cx="262.0" cy="227.8" r="1.2"/><circle cx="200.9" cy="285.0" r="1.2"/><circle cx="215.1" cy="284.2" r="1.2"/><circle cx="179.3" cy="270.0" r="1.2"/><circle cx="202.5" cy="284.9" r="1.2"/><circle cx="182.1" cy="275.4" r="1.2"/><circle cx="200.3" cy="243.4" r="1.2"/><circle cx="106.0" cy="288.9" r="1.2"/><circle cx="206.1" cy="284.1" r="1.2"/><circle cx="229.9" cy="192.2" r="1.2"/><circle cx="195.2" cy="290.7" r="1.2"/><circle cx="182.8" cy="283.8" r="1.2"/><circle cx="217.5" cy="284.4" r="1.2"/><circle cx="223.0" cy="275.8" r="1.2"/><circle cx="203.3" cy="221.5" r="1.2"/><circle cx="219.9" cy="285.8" r="1.2"/><circle cx="172.3" cy="285.2" r="1.2"/><circle cx="205.7" cy="265.6" r="1.2"/><circle cx="175.1" cy="263.3" r="1.2"/><circle cx="187.5" cy="290.5" r="1.2"/><circle cx="165.4" cy="267.1" r="1.2"/><circle cx="170.2" cy="285.3" r="1.2"/><circle cx="193.6" cy="285.2" r="1.2"/><circle cx="175.9" cy="284.1" r="1.2"/><circle cx="176.9" cy="275.8" r="1.2"/><circle cx="130.6" cy="287.4" r="1.2"/><circle cx="199.9" cy="287.4" r="1.2"/><circle cx="197.6" cy="284.5" r="1.2"/><circle cx="207.0" cy="200.7" r="1.2"/><circle cx="209.9" cy="264.1" r="1.2"/><circle cx="175.7" cy="270.5" r="1.2"/><circle cx="170.0" cy="234.2" r="1.2"/><circle cx="197.1" cy="261.6" r="1.2"/><circle cx="204.3" cy="205.4" r="1.2"/><circle cx="208.1" cy="268.4" r="1.2"/><circle cx="152.7" cy="266.2" r="1.2"/><circle cx="150.6" cy="281.9" r="1.2"/><circle cx="150.7" cy="283.0" r="1.2"/><circle cx="153.6" cy="221.9" r="1.2"/><circle cx="199.7" cy="258.9" r="1.2"/><circle cx="204.8" cy="171.9" r="1.2"/><circle cx="203.9" cy="275.5" r="1.2"/><circle cx="197.8" cy="287.3" r="1.2"/><circle cx="207.6" cy="197.7" r="1.2"/><circle cx="200.0" cy="284.2" r="1.2"/><circle cx="217.1" cy="264.4" r="1.2"/><circle cx="203.9" cy="285.1" r="1.2"/><circle cx="180.2" cy="283.0" r="1.2"/><circle cx="204.2" cy="232.1" r="1.2"/><circle cx="191.2" cy="291.1" r="1.2"/><circle cx="273.0" cy="285.7" r="1.2"/><circle cx="180.2" cy="266.8" r="1.2"/><circle cx="201.6" cy="237.4" r="1.2"/><circle cx="221.9" cy="203.0" r="1.2"/><circle cx="213.6" cy="274.5" r="1.2"/><circle cx="157.2" cy="250.7" r="1.2"/><circle cx="228.4" cy="173.4" r="1.2"/><circle cx="171.7" cy="284.8" r="1.2"/><circle cx="183.6" cy="285.3" r="1.2"/><circle cx="255.5" cy="289.3" r="1.2"/><circle cx="157.1" cy="256.1" r="1.2"/><circle cx="198.0" cy="269.5" r="1.2"/><circle cx="155.6" cy="282.8" r="1.2"/><circle cx="182.4" cy="279.7" r="1.2"/><circle cx="222.7" cy="259.8" r="1.2"/><circle cx="182.8" cy="286.2" r="1.2"/><circle cx="167.0" cy="187.0" r="1.2"/><circle cx="199.0" cy="282.6" r="1.2"/><circle cx="200.8" cy="283.1" r="1.2"/><circle cx="150.4" cy="285.9" r="1.2"/><circle cx="237.7" cy="285.4" r="1.2"/><circle cx="224.6" cy="274.7" r="1.2"/><circle cx="203.7" cy="285.4" r="1.2"/><circle cx="141.2" cy="264.0" r="1.2"/><circle cx="199.7" cy="225.3" r="1.2"/><circle cx="181.3" cy="272.9" r="1.2"/><circle cx="235.6" cy="284.7" r="1.2"/><circle cx="178.1" cy="274.8" r="1.2"/><circle cx="171.9" cy="261.8" r="1.2"/><circle cx="213.9" cy="192.6" r="1.2"/><circle cx="215.2" cy="288.7" r="1.2"/><circle cx="185.3" cy="287.0" r="1.2"/><circle cx="133.8" cy="280.8" r="1.2"/><circle cx="181.3" cy="276.7" r="1.2"/><circle cx="163.0" cy="241.5" r="1.2"/><circle cx="208.9" cy="272.3" r="1.2"/><circle cx="170.8" cy="238.9" r="1.2"/><circle cx="204.4" cy="239.8" r="1.2"/><circle cx="253.3" cy="285.9" r="1.2"/><circle cx="230.1" cy="240.0" r="1.2"/><circle cx="169.0" cy="266.9" r="1.2"/><circle cx="201.7" cy="253.2" r="1.2"/><circle cx="131.3" cy="270.4" r="1.2"/><circle cx="202.1" cy="241.6" r="1.2"/><circle cx="147.5" cy="215.0" r="1.2"/><circle cx="223.6" cy="268.2" r="1.2"/><circle cx="225.0" cy="283.9" r="1.2"/><circle cx="167.8" cy="259.7" r="1.2"/><circle cx="154.8" cy="284.2" r="1.2"/><circle cx="196.5" cy="279.6" r="1.2"/><circle cx="211.6" cy="216.5" r="1.2"/><circle cx="173.1" cy="280.0" r="1.2"/><circle cx="200.0" cy="291.0" r="1.2"/><circle cx="208.0" cy="172.6" r="1.2"/><circle cx="159.2" cy="261.0" r="1.2"/><circle cx="184.4" cy="287.0" r="1.2"/><circle cx="183.1" cy="279.6" r="1.2"/><circle cx="177.0" cy="284.2" r="1.2"/><circle cx="195.7" cy="286.9" r="1.2"/><circle cx="223.4" cy="243.2" r="1.2"/><circle cx="207.9" cy="286.3" r="1.2"/><circle cx="165.4" cy="277.6" r="1.2"/><circle cx="199.0" cy="274.4" r="1.2"/><circle cx="173.9" cy="191.2" r="1.2"/><circle cx="157.1" cy="277.1" r="1.2"/><circle cx="174.2" cy="272.5" r="1.2"/><circle cx="200.9" cy="228.7" r="1.2"/><circle cx="234.5" cy="278.6" r="1.2"/><circle cx="224.9" cy="281.9" r="1.2"/><circle cx="202.0" cy="244.9" r="1.2"/><circle cx="155.8" cy="227.4" r="1.2"/><circle cx="174.6" cy="261.4" r="1.2"/><circle cx="194.8" cy="283.9" r="1.2"/><circle cx="159.6" cy="264.4" r="1.2"/><circle cx="200.3" cy="260.7" r="1.2"/><circle cx="241.9" cy="285.0" r="1.2"/><circle cx="179.6" cy="283.7" r="1.2"/><circle cx="202.2" cy="240.8" r="1.2"/><circle cx="143.8" cy="284.3" r="1.2"/><circle cx="178.1" cy="274.2" r="1.2"/><circle cx="180.7" cy="274.3" r="1.2"/><circle cx="168.6" cy="210.4" r="1.2"/><circle cx="208.9" cy="223.3" r="1.2"/><circle cx="132.3" cy="276.5" r="1.2"/><circle cx="213.1" cy="172.9" r="1.2"/><circle cx="220.6" cy="269.0" r="1.2"/><circle cx="201.7" cy="192.9" r="1.2"/><circle cx="222.3" cy="225.0" r="1.2"/><circle cx="223.5" cy="269.1" r="1.2"/><circle cx="165.5" cy="285.0" r="1.2"/><circle cx="213.3" cy="273.3" r="1.2"/><circle cx="184.3" cy="282.9" r="1.2"/><circle cx="261.9" cy="284.1" r="1.2"/><circle cx="175.6" cy="265.4" r="1.2"/><circle cx="278.9" cy="281.9" r="1.2"/><circle cx="162.0" cy="280.6" r="1.2"/><circle cx="207.9" cy="283.2" r="1.2"/><circle cx="175.4" cy="230.4" r="1.2"/><circle cx="211.8" cy="280.4" r="1.2"/><circle cx="205.8" cy="168.8" r="1.2"/><circle cx="208.0" cy="265.5" r="1.2"/><circle cx="213.1" cy="248.7" r="1.2"/><circle cx="209.9" cy="256.2" r="1.2"/><circle cx="145.5" cy="259.9" r="1.2"/><circle cx="196.5" cy="286.6" r="1.2"/><circle cx="147.5" cy="250.3" r="1.2"/><circle cx="205.4" cy="264.7" r="1.2"/><circle cx="206.8" cy="285.3" r="1.2"/><circle cx="212.7" cy="283.8" r="1.2"/><circle cx="202.5" cy="278.5" r="1.2"/><circle cx="200.4" cy="255.9" r="1.2"/><circle cx="206.8" cy="196.7" r="1.2"/><circle cx="177.4" cy="274.2" r="1.2"/><circle cx="211.2" cy="172.3" r="1.2"/><circle cx="161.4" cy="281.9" r="1.2"/><circle cx="195.4" cy="284.4" r="1.2"/><circle cx="199.6" cy="266.7" r="1.2"/><circle cx="153.1" cy="268.1" r="1.2"/><circle cx="183.1" cy="285.6" r="1.2"/><circle cx="198.0" cy="271.3" r="1.2"/><circle cx="182.5" cy="282.6" r="1.2"/><circle cx="158.2" cy="233.8" r="1.2"/><circle cx="153.6" cy="280.6" r="1.2"/><circle cx="212.9" cy="244.6" r="1.2"/><circle cx="174.5" cy="283.3" r="1.2"/><circle cx="207.9" cy="291.1" r="1.2"/><circle cx="255.4" cy="278.8" r="1.2"/><circle cx="185.8" cy="288.8" r="1.2"/><circle cx="187.6" cy="290.9" r="1.2"/><circle cx="180.2" cy="279.5" r="1.2"/><circle cx="209.9" cy="272.1" r="1.2"/><circle cx="148.4" cy="192.8" r="1.2"/><circle cx="144.4" cy="254.1" r="1.2"/><circle cx="166.4" cy="238.3" r="1.2"/><circle cx="203.7" cy="210.7" r="1.2"/><circle cx="250.5" cy="278.4" r="1.2"/><circle cx="167.0" cy="184.4" r="1.2"/><circle cx="202.9" cy="284.0" r="1.2"/><circle cx="198.6" cy="286.6" r="1.2"/><circle cx="219.5" cy="224.4" r="1.2"/><circle cx="169.3" cy="289.4" r="1.2"/><circle cx="191.7" cy="289.8" r="1.2"/><circle cx="172.3" cy="223.0" r="1.2"/><circle cx="243.2" cy="185.6" r="1.2"/><circle cx="153.9" cy="229.5" r="1.2"/><circle cx="173.8" cy="254.9" r="1.2"/><circle cx="168.3" cy="243.4" r="1.2"/><circle cx="191.8" cy="291.2" r="1.2"/><circle cx="200.5" cy="275.3" r="1.2"/><circle cx="183.0" cy="283.6" r="1.2"/><circle cx="181.8" cy="286.0" r="1.2"/><circle cx="89.7" cy="284.1" r="1.2"/><circle cx="201.3" cy="282.8" r="1.2"/><circle cx="214.3" cy="237.0" r="1.2"/><circle cx="207.0" cy="196.3" r="1.2"/><circle cx="135.9" cy="282.4" r="1.2"/><circle cx="144.9" cy="286.0" r="1.2"/><circle cx="179.8" cy="254.9" r="1.2"/><circle cx="156.9" cy="278.3" r="1.2"/><circle cx="205.5" cy="286.7" r="1.2"/><circle cx="201.1" cy="281.9" r="1.2"/><circle cx="225.5" cy="279.1" r="1.2"/><circle cx="202.5" cy="256.3" r="1.2"/><circle cx="145.4" cy="261.6" r="1.2"/><circle cx="149.9" cy="285.3" r="1.2"/><circle cx="203.7" cy="278.4" r="1.2"/><circle cx="200.0" cy="259.6" r="1.2"/><circle cx="215.2" cy="283.9" r="1.2"/><circle cx="177.9" cy="268.4" r="1.2"/><circle cx="199.3" cy="248.5" r="1.2"/><circle cx="177.1" cy="267.3" r="1.2"/><circle cx="184.8" cy="285.0" r="1.2"/><circle cx="203.3" cy="291.1" r="1.2"/><circle cx="208.1" cy="285.0" r="1.2"/><circle cx="254.6" cy="283.1" r="1.2"/><circle cx="170.5" cy="267.1" r="1.2"/><circle cx="206.7" cy="223.7" r="1.2"/><circle cx="193.8" cy="284.4" r="1.2"/><circle cx="281.2" cy="254.2" r="1.2"/><circle cx="178.7" cy="266.4" r="1.2"/><circle cx="214.9" cy="258.5" r="1.2"/><circle cx="218.7" cy="252.4" r="1.2"/><circle cx="216.7" cy="194.1" r="1.2"/><circle cx="181.8" cy="283.4" r="1.2"/><circle cx="211.2" cy="284.6" r="1.2"/><circle cx="160.7" cy="238.6" r="1.2"/><circle cx="182.9" cy="283.4" r="1.2"/><circle cx="170.2" cy="177.2" r="1.2"/><circle cx="167.5" cy="247.0" r="1.2"/><circle cx="178.8" cy="284.8" r="1.2"/><circle cx="203.3" cy="180.8" r="1.2"/><circle cx="169.3" cy="266.9" r="1.2"/><circle cx="126.2" cy="217.7" r="1.2"/><circle cx="194.6" cy="282.3" r="1.2"/><circle cx="170.3" cy="279.3" r="1.2"/><circle cx="237.5" cy="276.9" r="1.2"/><circle cx="197.7" cy="266.5" r="1.2"/><circle cx="203.1" cy="272.3" r="1.2"/><circle cx="204.2" cy="233.0" r="1.2"/><circle cx="197.1" cy="273.7" r="1.2"/><circle cx="178.1" cy="236.9" r="1.2"/><circle cx="149.9" cy="269.4" r="1.2"/><circle cx="139.9" cy="284.2" r="1.2"/><circle cx="181.0" cy="287.2" r="1.2"/><circle cx="202.5" cy="282.0" r="1.2"/><circle cx="197.0" cy="261.5" r="1.2"/><circle cx="195.9" cy="284.7" r="1.2"/><circle cx="180.8" cy="288.8" r="1.2"/><circle cx="196.3" cy="267.2" r="1.2"/><circle cx="201.4" cy="284.5" r="1.2"/><circle cx="206.9" cy="268.3" r="1.2"/><circle cx="210.4" cy="228.2" r="1.2"/><circle cx="166.1" cy="204.9" r="1.2"/><circle cx="174.2" cy="256.4" r="1.2"/><circle cx="285.7" cy="283.6" r="1.2"/><circle cx="177.8" cy="279.4" r="1.2"/><circle cx="172.8" cy="191.5" r="1.2"/><circle cx="177.8" cy="274.6" r="1.2"/><circle cx="162.7" cy="243.4" r="1.2"/><circle cx="174.9" cy="244.4" r="1.2"/><circle cx="158.5" cy="270.5" r="1.2"/><circle cx="182.1" cy="275.5" r="1.2"/><circle cx="204.1" cy="257.9" r="1.2"/><circle cx="204.9" cy="217.4" r="1.2"/><circle cx="167.2" cy="284.8" r="1.2"/><circle cx="177.3" cy="290.3" r="1.2"/><circle cx="183.4" cy="283.5" r="1.2"/><circle cx="181.4" cy="279.1" r="1.2"/><circle cx="180.1" cy="282.4" r="1.2"/><circle cx="178.4" cy="260.2" r="1.2"/><circle cx="199.2" cy="252.6" r="1.2"/><circle cx="173.1" cy="289.3" r="1.2"/><circle cx="227.7" cy="275.6" r="1.2"/><circle cx="164.3" cy="219.0" r="1.2"/><circle cx="167.0" cy="228.3" r="1.2"/><circle cx="206.0" cy="202.2" r="1.2"/><circle cx="171.9" cy="225.8" r="1.2"/><circle cx="201.7" cy="268.4" r="1.2"/><circle cx="201.6" cy="259.4" r="1.2"/><circle cx="169.7" cy="281.9" r="1.2"/><circle cx="177.7" cy="257.2" r="1.2"/><circle cx="136.3" cy="247.8" r="1.2"/><circle cx="209.5" cy="188.0" r="1.2"/><circle cx="184.6" cy="286.9" r="1.2"/><circle cx="166.1" cy="238.1" r="1.2"/><circle cx="203.6" cy="266.8" r="1.2"/><circle cx="179.7" cy="284.5" r="1.2"/><circle cx="229.8" cy="284.7" r="1.2"/><circle cx="165.9" cy="229.2" r="1.2"/><circle cx="177.9" cy="228.9" r="1.2"/><circle cx="224.3" cy="284.7" r="1.2"/><circle cx="209.1" cy="281.1" r="1.2"/><circle cx="160.6" cy="275.6" r="1.2"/><circle cx="201.8" cy="271.0" r="1.2"/><circle cx="178.7" cy="258.9" r="1.2"/><circle cx="168.0" cy="223.4" r="1.2"/><circle cx="200.2" cy="230.0" r="1.2"/><circle cx="201.8" cy="288.3" r="1.2"/><circle cx="205.5" cy="254.2" r="1.2"/><circle cx="148.8" cy="171.4" r="1.2"/><circle cx="171.7" cy="285.6" r="1.2"/><circle cx="167.9" cy="229.3" r="1.2"/><circle cx="179.2" cy="272.0" r="1.2"/><circle cx="194.7" cy="277.6" r="1.2"/><circle cx="203.3" cy="276.2" r="1.2"/><circle cx="170.1" cy="251.8" r="1.2"/><circle cx="230.6" cy="288.6" r="1.2"/><circle cx="217.4" cy="284.0" r="1.2"/><circle cx="207.3" cy="172.8" r="1.2"/><circle cx="200.6" cy="286.4" r="1.2"/><circle cx="173.6" cy="283.8" r="1.2"/><circle cx="158.5" cy="252.4" r="1.2"/><circle cx="202.5" cy="214.5" r="1.2"/><circle cx="175.4" cy="254.4" r="1.2"/><circle cx="203.9" cy="180.7" r="1.2"/><circle cx="175.5" cy="279.5" r="1.2"/><circle cx="178.4" cy="234.0" r="1.2"/><circle cx="205.6" cy="271.6" r="1.2"/><circle cx="224.4" cy="285.8" r="1.2"/><circle cx="210.0" cy="229.5" r="1.2"/><circle cx="132.3" cy="284.4" r="1.2"/><circle cx="162.8" cy="266.1" r="1.2"/><circle cx="177.0" cy="278.1" r="1.2"/><circle cx="182.7" cy="283.6" r="1.2"/><circle cx="163.2" cy="278.6" r="1.2"/><circle cx="221.4" cy="284.7" r="1.2"/><circle cx="184.4" cy="284.8" r="1.2"/><circle cx="182.1" cy="270.4" r="1.2"/><circle cx="186.6" cy="290.6" r="1.2"/><circle cx="215.9" cy="201.5" r="1.2"/><circle cx="207.3" cy="226.6" r="1.2"/><circle cx="175.1" cy="272.4" r="1.2"/><circle cx="179.2" cy="274.8" r="1.2"/><circle cx="195.8" cy="285.3" r="1.2"/><circle cx="104.3" cy="233.2" r="1.2"/><circle cx="229.2" cy="259.5" r="1.2"/><circle cx="172.8" cy="238.7" r="1.2"/><circle cx="213.5" cy="264.2" r="1.2"/><circle cx="131.9" cy="273.1" r="1.2"/><circle cx="200.7" cy="260.8" r="1.2"/><circle cx="274.9" cy="285.2" r="1.2"/><circle cx="203.7" cy="279.9" r="1.2"/><circle cx="211.2" cy="283.2" r="1.2"/><circle cx="166.2" cy="267.9" r="1.2"/><circle cx="134.7" cy="285.4" r="1.2"/><circle cx="226.5" cy="285.5" r="1.2"/><circle cx="146.8" cy="288.1" r="1.2"/><circle cx="156.9" cy="273.1" r="1.2"/><circle cx="202.5" cy="277.4" r="1.2"/><circle cx="204.5" cy="284.3" r="1.2"/><circle cx="233.5" cy="262.5" r="1.2"/><circle cx="205.8" cy="243.6" r="1.2"/><circle cx="163.9" cy="285.0" r="1.2"/><circle cx="174.8" cy="279.9" r="1.2"/><circle cx="208.5" cy="272.0" r="1.2"/><circle cx="206.0" cy="279.1" r="1.2"/><circle cx="201.8" cy="261.2" r="1.2"/><circle cx="208.2" cy="263.3" r="1.2"/><circle cx="198.1" cy="269.6" r="1.2"/><circle cx="164.7" cy="203.5" r="1.2"/><circle cx="193.3" cy="286.4" r="1.2"/><circle cx="169.7" cy="276.5" r="1.2"/><circle cx="176.1" cy="239.9" r="1.2"/><circle cx="170.1" cy="280.0" r="1.2"/><circle cx="217.1" cy="281.7" r="1.2"/><circle cx="198.2" cy="285.4" r="1.2"/><circle cx="214.2" cy="283.3" r="1.2"/><circle cx="174.1" cy="288.9" r="1.2"/><circle cx="192.2" cy="289.2" r="1.2"/><circle cx="215.4" cy="242.3" r="1.2"/><circle cx="178.8" cy="272.2" r="1.2"/><circle cx="179.4" cy="285.6" r="1.2"/><circle cx="193.1" cy="286.3" r="1.2"/><circle cx="209.0" cy="192.0" r="1.2"/><circle cx="147.1" cy="248.9" r="1.2"/><circle cx="173.5" cy="271.3" r="1.2"/><circle cx="197.9" cy="264.5" r="1.2"/><circle cx="209.2" cy="259.7" r="1.2"/><circle cx="204.4" cy="284.4" r="1.2"/><circle cx="196.2" cy="287.3" r="1.2"/><circle cx="155.3" cy="285.6" r="1.2"/><circle cx="178.4" cy="264.5" r="1.2"/><circle cx="192.3" cy="288.8" r="1.2"/><circle cx="160.3" cy="225.0" r="1.2"/><circle cx="177.3" cy="265.5" r="1.2"/><circle cx="206.6" cy="187.7" r="1.2"/><circle cx="200.6" cy="286.5" r="1.2"/><circle cx="165.0" cy="213.2" r="1.2"/><circle cx="146.9" cy="252.4" r="1.2"/><circle cx="210.1" cy="171.1" r="1.2"/><circle cx="169.6" cy="270.0" r="1.2"/><circle cx="112.8" cy="285.7" r="1.2"/><circle cx="158.1" cy="209.3" r="1.2"/><circle cx="222.5" cy="232.7" r="1.2"/><circle cx="174.9" cy="230.8" r="1.2"/><circle cx="159.2" cy="285.1" r="1.2"/><circle cx="102.7" cy="285.8" r="1.2"/><circle cx="218.6" cy="224.4" r="1.2"/><circle cx="167.8" cy="237.6" r="1.2"/><circle cx="172.1" cy="268.5" r="1.2"/><circle cx="102.0" cy="280.0" r="1.2"/><circle cx="181.1" cy="278.5" r="1.2"/><circle cx="231.3" cy="284.9" r="1.2"/><circle cx="78.8" cy="283.9" r="1.2"/><circle cx="177.9" cy="279.6" r="1.2"/><circle cx="145.5" cy="277.6" r="1.2"/><circle cx="201.6" cy="216.8" r="1.2"/><circle cx="144.8" cy="244.0" r="1.2"/><circle cx="225.7" cy="283.7" r="1.2"/><circle cx="180.3" cy="254.7" r="1.2"/><circle cx="102.6" cy="288.3" r="1.2"/><circle cx="204.3" cy="284.3" r="1.2"/><circle cx="202.6" cy="208.4" r="1.2"/><circle cx="221.0" cy="280.7" r="1.2"/><circle cx="195.8" cy="276.5" r="1.2"/><circle cx="155.0" cy="286.3" r="1.2"/><circle cx="153.4" cy="208.9" r="1.2"/><circle cx="227.3" cy="246.6" r="1.2"/><circle cx="224.8" cy="286.7" r="1.2"/><circle cx="227.1" cy="286.5" r="1.2"/><circle cx="176.0" cy="273.7" r="1.2"/><circle cx="211.6" cy="236.0" r="1.2"/><circle cx="199.8" cy="285.2" r="1.2"/><circle cx="213.6" cy="264.8" r="1.2"/><circle cx="184.8" cy="285.7" r="1.2"/><circle cx="176.4" cy="285.0" r="1.2"/><circle cx="208.0" cy="256.5" r="1.2"/><circle cx="227.4" cy="249.5" r="1.2"/><circle cx="200.4" cy="217.4" r="1.2"/><circle cx="144.0" cy="284.8" r="1.2"/><circle cx="166.0" cy="287.7" r="1.2"/><circle cx="222.3" cy="287.3" r="1.2"/><circle cx="201.5" cy="265.5" r="1.2"/><circle cx="204.7" cy="249.8" r="1.2"/><circle cx="195.0" cy="287.4" r="1.2"/><circle cx="167.4" cy="176.5" r="1.2"/><circle cx="181.7" cy="284.2" r="1.2"/><circle cx="71.4" cy="284.9" r="1.2"/><circle cx="198.5" cy="285.3" r="1.2"/><circle cx="206.2" cy="284.6" r="1.2"/><circle cx="205.9" cy="200.1" r="1.2"/><circle cx="293.3" cy="284.0" r="1.2"/><circle cx="195.2" cy="274.4" r="1.2"/><circle cx="165.1" cy="259.2" r="1.2"/><circle cx="213.0" cy="205.4" r="1.2"/><circle cx="195.0" cy="285.7" r="1.2"/><circle cx="72.3" cy="275.3" r="1.2"/><circle cx="103.7" cy="285.3" r="1.2"/><circle cx="208.3" cy="275.7" r="1.2"/><circle cx="151.9" cy="276.4" r="1.2"/><circle cx="182.8" cy="279.4" r="1.2"/><circle cx="163.2" cy="283.0" r="1.2"/><circle cx="178.2" cy="269.6" r="1.2"/><circle cx="204.9" cy="259.3" r="1.2"/><circle cx="155.7" cy="285.5" r="1.2"/><circle cx="220.0" cy="287.2" r="1.2"/><circle cx="195.3" cy="284.9" r="1.2"/><circle cx="179.9" cy="285.7" r="1.2"/><circle cx="163.8" cy="213.8" r="1.2"/><circle cx="163.8" cy="283.6" r="1.2"/><circle cx="203.8" cy="193.3" r="1.2"/><circle cx="179.4" cy="286.9" r="1.2"/><circle cx="157.1" cy="265.2" r="1.2"/><circle cx="177.8" cy="279.9" r="1.2"/><circle cx="239.1" cy="285.9" r="1.2"/><circle cx="196.2" cy="267.2" r="1.2"/><circle cx="202.9" cy="264.9" r="1.2"/><circle cx="210.8" cy="265.0" r="1.2"/><circle cx="136.0" cy="286.6" r="1.2"/><circle cx="164.0" cy="275.6" r="1.2"/><circle cx="130.5" cy="289.0" r="1.2"/><circle cx="156.8" cy="287.3" r="1.2"/><circle cx="221.4" cy="266.2" r="1.2"/><circle cx="210.4" cy="256.4" r="1.2"/><circle cx="185.5" cy="289.6" r="1.2"/><circle cx="212.8" cy="268.2" r="1.2"/><circle cx="166.5" cy="284.8" r="1.2"/><circle cx="257.9" cy="286.2" r="1.2"/><circle cx="169.2" cy="255.7" r="1.2"/><circle cx="209.9" cy="284.1" r="1.2"/><circle cx="171.7" cy="241.7" r="1.2"/><circle cx="209.5" cy="271.8" r="1.2"/><circle cx="208.9" cy="240.9" r="1.2"/><circle cx="165.9" cy="269.0" r="1.2"/><circle cx="176.5" cy="211.7" r="1.2"/><circle cx="147.6" cy="236.5" r="1.2"/><circle cx="226.9" cy="284.7" r="1.2"/><circle cx="243.6" cy="281.9" r="1.2"/><circle cx="285.5" cy="282.1" r="1.2"/><circle cx="172.5" cy="277.0" r="1.2"/><circle cx="127.4" cy="289.5" r="1.2"/><circle cx="206.4" cy="260.2" r="1.2"/><circle cx="104.2" cy="281.3" r="1.2"/><circle cx="201.9" cy="270.4" r="1.2"/><circle cx="184.0" cy="282.0" r="1.2"/><circle cx="215.0" cy="213.0" r="1.2"/><circle cx="163.7" cy="256.3" r="1.2"/><circle cx="231.7" cy="287.8" r="1.2"/><circle cx="199.0" cy="270.1" r="1.2"/><circle cx="171.9" cy="267.1" r="1.2"/><circle cx="214.5" cy="239.5" r="1.2"/><circle cx="206.3" cy="287.3" r="1.2"/><circle cx="181.2" cy="285.3" r="1.2"/><circle cx="169.5" cy="208.0" r="1.2"/><circle cx="166.5" cy="279.6" r="1.2"/><circle cx="177.2" cy="265.5" r="1.2"/><circle cx="123.6" cy="285.6" r="1.2"/><circle cx="194.8" cy="285.8" r="1.2"/><circle cx="148.7" cy="285.0" r="1.2"/><circle cx="113.6" cy="289.7" r="1.2"/><circle cx="230.2" cy="288.5" r="1.2"/><circle cx="230.1" cy="284.3" r="1.2"/><circle cx="197.2" cy="273.9" r="1.2"/><circle cx="183.3" cy="283.8" r="1.2"/><circle cx="211.1" cy="231.1" r="1.2"/><circle cx="224.4" cy="285.0" r="1.2"/><circle cx="176.0" cy="276.3" r="1.2"/><circle cx="166.9" cy="284.0" r="1.2"/><circle cx="152.7" cy="193.0" r="1.2"/><circle cx="201.9" cy="285.6" r="1.2"/><circle cx="223.7" cy="255.0" r="1.2"/><circle cx="164.2" cy="200.1" r="1.2"/><circle cx="172.9" cy="250.9" r="1.2"/><circle cx="206.8" cy="285.5" r="1.2"/><circle cx="165.3" cy="267.8" r="1.2"/><circle cx="178.0" cy="288.9" r="1.2"/><circle cx="173.6" cy="238.8" r="1.2"/><circle cx="207.6" cy="251.4" r="1.2"/><circle cx="173.9" cy="204.7" r="1.2"/><circle cx="230.2" cy="285.8" r="1.2"/><circle cx="174.5" cy="186.0" r="1.2"/><circle cx="122.0" cy="283.3" r="1.2"/><circle cx="211.0" cy="275.9" r="1.2"/><circle cx="148.0" cy="274.5" r="1.2"/><circle cx="181.7" cy="283.2" r="1.2"/><circle cx="179.5" cy="277.3" r="1.2"/><circle cx="175.9" cy="234.0" r="1.2"/><circle cx="202.7" cy="245.8" r="1.2"/><circle cx="202.7" cy="285.7" r="1.2"/><circle cx="245.4" cy="273.7" r="1.2"/><circle cx="146.4" cy="280.6" r="1.2"/><circle cx="175.9" cy="249.0" r="1.2"/><circle cx="205.3" cy="213.1" r="1.2"/><circle cx="172.6" cy="208.5" r="1.2"/><circle cx="198.3" cy="287.2" r="1.2"/><circle cx="196.3" cy="280.9" r="1.2"/><circle cx="256.1" cy="285.6" r="1.2"/><circle cx="204.7" cy="289.2" r="1.2"/><circle cx="213.3" cy="272.2" r="1.2"/><circle cx="165.8" cy="281.1" r="1.2"/><circle cx="150.6" cy="279.5" r="1.2"/><circle cx="201.2" cy="213.6" r="1.2"/><circle cx="141.8" cy="280.2" r="1.2"/><circle cx="215.9" cy="283.5" r="1.2"/><circle cx="220.2" cy="273.5" r="1.2"/><circle cx="159.9" cy="278.0" r="1.2"/><circle cx="206.8" cy="179.9" r="1.2"/><circle cx="180.1" cy="270.9" r="1.2"/><circle cx="162.0" cy="169.0" r="1.2"/><circle cx="161.8" cy="285.1" r="1.2"/><circle cx="121.5" cy="282.4" r="1.2"/><circle cx="300.5" cy="286.3" r="1.2"/><circle cx="181.0" cy="275.5" r="1.2"/><circle cx="216.4" cy="171.7" r="1.2"/><circle cx="186.9" cy="290.6" r="1.2"/><circle cx="161.2" cy="281.1" r="1.2"/><circle cx="211.2" cy="214.8" r="1.2"/><circle cx="182.1" cy="284.0" r="1.2"/><circle cx="166.1" cy="223.2" r="1.2"/><circle cx="224.0" cy="255.8" r="1.2"/><circle cx="199.7" cy="277.1" r="1.2"/><circle cx="201.4" cy="272.5" r="1.2"/><circle cx="171.6" cy="245.8" r="1.2"/><circle cx="218.5" cy="251.6" r="1.2"/><circle cx="205.5" cy="241.0" r="1.2"/><circle cx="160.3" cy="225.9" r="1.2"/><circle cx="132.9" cy="269.1" r="1.2"/><circle cx="193.7" cy="287.8" r="1.2"/><circle cx="175.7" cy="249.0" r="1.2"/><circle cx="125.4" cy="268.9" r="1.2"/><circle cx="270.2" cy="282.3" r="1.2"/><circle cx="212.0" cy="185.6" r="1.2"/><circle cx="223.7" cy="285.0" r="1.2"/><circle cx="213.1" cy="182.5" r="1.2"/><circle cx="179.3" cy="282.3" r="1.2"/><circle cx="198.4" cy="285.7" r="1.2"/><circle cx="183.7" cy="288.5" r="1.2"/><circle cx="184.9" cy="287.8" r="1.2"/><circle cx="157.8" cy="276.8" r="1.2"/><circle cx="182.0" cy="282.5" r="1.2"/><circle cx="202.1" cy="285.1" r="1.2"/><circle cx="205.4" cy="188.9" r="1.2"/><circle cx="232.7" cy="283.6" r="1.2"/><circle cx="170.7" cy="285.6" r="1.2"/><circle cx="219.2" cy="283.6" r="1.2"/><circle cx="194.1" cy="290.6" r="1.2"/><circle cx="177.1" cy="250.4" r="1.2"/><circle cx="204.6" cy="251.7" r="1.2"/><circle cx="200.5" cy="284.9" r="1.2"/><circle cx="195.5" cy="287.4" r="1.2"/><circle cx="213.2" cy="212.3" r="1.2"/><circle cx="205.5" cy="287.1" r="1.2"/><circle cx="154.3" cy="283.5" r="1.2"/><circle cx="216.1" cy="280.2" r="1.2"/><circle cx="153.7" cy="193.0" r="1.2"/><circle cx="206.1" cy="217.9" r="1.2"/><circle cx="173.3" cy="281.4" r="1.2"/><circle cx="176.3" cy="287.0" r="1.2"/><circle cx="177.1" cy="275.1" r="1.2"/><circle cx="177.8" cy="232.5" r="1.2"/><circle cx="219.5" cy="236.4" r="1.2"/><circle cx="183.8" cy="288.2" r="1.2"/><circle cx="171.8" cy="199.8" r="1.2"/><circle cx="106.0" cy="284.7" r="1.2"/><circle cx="201.2" cy="284.7" r="1.2"/><circle cx="177.9" cy="266.5" r="1.2"/><circle cx="151.2" cy="276.4" r="1.2"/><circle cx="156.7" cy="264.4" r="1.2"/><circle cx="215.7" cy="283.6" r="1.2"/><circle cx="172.8" cy="268.1" r="1.2"/><circle cx="209.6" cy="285.0" r="1.2"/><circle cx="183.1" cy="283.4" r="1.2"/><circle cx="197.7" cy="284.4" r="1.2"/><circle cx="196.3" cy="273.3" r="1.2"/><circle cx="181.4" cy="286.4" r="1.2"/><circle cx="176.2" cy="283.8" r="1.2"/><circle cx="220.9" cy="261.1" r="1.2"/><circle cx="209.7" cy="269.9" r="1.2"/><circle cx="171.4" cy="230.3" r="1.2"/><circle cx="207.2" cy="206.1" r="1.2"/><circle cx="185.1" cy="287.4" r="1.2"/><circle cx="172.5" cy="277.5" r="1.2"/><circle cx="201.4" cy="219.9" r="1.2"/><circle cx="161.5" cy="262.9" r="1.2"/><circle cx="206.8" cy="187.7" r="1.2"/><circle cx="173.0" cy="200.4" r="1.2"/><circle cx="160.6" cy="187.4" r="1.2"/><circle cx="231.0" cy="285.0" r="1.2"/><circle cx="206.0" cy="283.0" r="1.2"/><circle cx="195.9" cy="290.3" r="1.2"/><circle cx="250.7" cy="254.6" r="1.2"/><circle cx="176.9" cy="243.7" r="1.2"/><circle cx="202.0" cy="273.3" r="1.2"/><circle cx="181.2" cy="282.7" r="1.2"/><circle cx="178.5" cy="248.7" r="1.2"/><circle cx="199.8" cy="227.0" r="1.2"/><circle cx="173.0" cy="262.1" r="1.2"/><circle cx="130.7" cy="193.1" r="1.2"/><circle cx="198.0" cy="251.5" r="1.2"/><circle cx="206.5" cy="275.1" r="1.2"/><circle cx="157.0" cy="282.9" r="1.2"/><circle cx="166.8" cy="282.9" r="1.2"/><circle cx="205.0" cy="265.8" r="1.2"/><circle cx="195.1" cy="281.0" r="1.2"/><circle cx="206.8" cy="281.4" r="1.2"/><circle cx="199.0" cy="287.2" r="1.2"/><circle cx="141.0" cy="243.3" r="1.2"/><circle cx="200.1" cy="283.4" r="1.2"/><circle cx="210.7" cy="284.8" r="1.2"/><circle cx="197.5" cy="278.4" r="1.2"/><circle cx="203.9" cy="214.2" r="1.2"/><circle cx="148.3" cy="283.1" r="1.2"/><circle cx="193.5" cy="284.6" r="1.2"/><circle cx="168.7" cy="260.7" r="1.2"/><circle cx="324.9" cy="284.3" r="1.2"/><circle cx="176.8" cy="283.6" r="1.2"/><circle cx="203.0" cy="274.8" r="1.2"/><circle cx="198.2" cy="282.8" r="1.2"/><circle cx="218.3" cy="288.4" r="1.2"/><circle cx="233.7" cy="283.2" r="1.2"/><circle cx="194.3" cy="281.5" r="1.2"/><circle cx="214.3" cy="269.2" r="1.2"/><circle cx="167.1" cy="272.9" r="1.2"/><circle cx="198.7" cy="262.8" r="1.2"/><circle cx="202.8" cy="282.5" r="1.2"/><circle cx="209.3" cy="220.8" r="1.2"/><circle cx="214.0" cy="284.5" r="1.2"/><circle cx="165.1" cy="285.3" r="1.2"/><circle cx="176.2" cy="185.5" r="1.2"/><circle cx="212.1" cy="272.7" r="1.2"/><circle cx="162.1" cy="278.4" r="1.2"/><circle cx="203.0" cy="282.2" r="1.2"/><circle cx="164.6" cy="283.1" r="1.2"/><circle cx="161.6" cy="250.6" r="1.2"/><circle cx="167.4" cy="197.1" r="1.2"/><circle cx="204.8" cy="254.4" r="1.2"/><circle cx="222.2" cy="262.6" r="1.2"/><circle cx="214.7" cy="255.8" r="1.2"/><circle cx="177.2" cy="288.5" r="1.2"/><circle cx="269.9" cy="286.1" r="1.2"/><circle cx="206.8" cy="172.0" r="1.2"/><circle cx="195.6" cy="283.7" r="1.2"/><circle cx="170.2" cy="200.1" r="1.2"/><circle cx="229.3" cy="283.7" r="1.2"/><circle cx="156.9" cy="236.6" r="1.2"/><circle cx="161.0" cy="253.1" r="1.2"/><circle cx="228.6" cy="286.3" r="1.2"/><circle cx="181.2" cy="270.3" r="1.2"/><circle cx="201.4" cy="281.8" r="1.2"/><circle cx="178.1" cy="250.1" r="1.2"/><circle cx="176.4" cy="196.4" r="1.2"/><circle cx="172.8" cy="250.1" r="1.2"/><circle cx="176.3" cy="279.9" r="1.2"/><circle cx="199.2" cy="268.8" r="1.2"/><circle cx="204.1" cy="234.2" r="1.2"/><circle cx="170.6" cy="265.1" r="1.2"/><circle cx="199.4" cy="274.3" r="1.2"/><circle cx="201.7" cy="270.3" r="1.2"/><circle cx="225.1" cy="280.8" r="1.2"/><circle cx="225.8" cy="215.0" r="1.2"/><circle cx="156.5" cy="265.6" r="1.2"/><circle cx="206.1" cy="269.7" r="1.2"/><circle cx="141.6" cy="264.1" r="1.2"/><circle cx="197.5" cy="288.8" r="1.2"/><circle cx="201.8" cy="283.2" r="1.2"/><circle cx="210.3" cy="287.7" r="1.2"/><circle cx="208.5" cy="235.7" r="1.2"/><circle cx="174.8" cy="283.4" r="1.2"/><circle cx="217.4" cy="217.5" r="1.2"/><circle cx="209.0" cy="224.0" r="1.2"/><circle cx="162.2" cy="284.7" r="1.2"/><circle cx="242.1" cy="278.5" r="1.2"/><circle cx="204.3" cy="256.9" r="1.2"/><circle cx="167.8" cy="283.3" r="1.2"/><circle cx="180.2" cy="278.6" r="1.2"/><circle cx="167.1" cy="277.6" r="1.2"/><circle cx="168.2" cy="284.6" r="1.2"/><circle cx="209.0" cy="285.6" r="1.2"/><circle cx="177.0" cy="283.9" r="1.2"/><circle cx="278.3" cy="284.8" r="1.2"/><circle cx="208.9" cy="282.6" r="1.2"/><circle cx="148.2" cy="271.5" r="1.2"/><circle cx="264.6" cy="276.3" r="1.2"/><circle cx="194.9" cy="282.4" r="1.2"/><circle cx="195.9" cy="270.5" r="1.2"/><circle cx="290.5" cy="284.4" r="1.2"/><circle cx="173.8" cy="260.4" r="1.2"/><circle cx="203.1" cy="199.8" r="1.2"/><circle cx="204.7" cy="210.4" r="1.2"/><circle cx="164.5" cy="275.9" r="1.2"/><circle cx="165.7" cy="230.1" r="1.2"/><circle cx="175.9" cy="283.3" r="1.2"/><circle cx="201.4" cy="266.2" r="1.2"/><circle cx="179.6" cy="285.7" r="1.2"/><circle cx="159.0" cy="181.1" r="1.2"/><circle cx="228.3" cy="281.5" r="1.2"/><circle cx="206.5" cy="282.2" r="1.2"/><circle cx="176.7" cy="255.5" r="1.2"/><circle cx="295.7" cy="273.8" r="1.2"/><circle cx="202.0" cy="233.0" r="1.2"/><circle cx="167.1" cy="251.3" r="1.2"/><circle cx="183.6" cy="280.4" r="1.2"/><circle cx="162.6" cy="280.3" r="1.2"/><circle cx="199.1" cy="235.2" r="1.2"/><circle cx="199.4" cy="284.2" r="1.2"/><circle cx="183.1" cy="283.0" r="1.2"/><circle cx="158.5" cy="286.5" r="1.2"/><circle cx="225.3" cy="283.7" r="1.2"/><circle cx="181.5" cy="285.6" r="1.2"/><circle cx="182.7" cy="274.0" r="1.2"/><circle cx="193.1" cy="290.9" r="1.2"/><circle cx="181.1" cy="264.1" r="1.2"/><circle cx="198.7" cy="258.8" r="1.2"/><circle cx="177.7" cy="274.9" r="1.2"/><circle cx="200.6" cy="283.8" r="1.2"/><circle cx="154.3" cy="283.2" r="1.2"/><circle cx="235.9" cy="285.4" r="1.2"/><circle cx="196.8" cy="284.0" r="1.2"/><circle cx="222.1" cy="281.9" r="1.2"/><circle cx="273.7" cy="283.6" r="1.2"/><circle cx="201.2" cy="287.2" r="1.2"/><circle cx="182.5" cy="283.2" r="1.2"/><circle cx="313.7" cy="283.3" r="1.2"/><circle cx="165.4" cy="231.6" r="1.2"/><circle cx="156.4" cy="181.1" r="1.2"/><circle cx="199.3" cy="288.6" r="1.2"/><circle cx="217.0" cy="283.9" r="1.2"/><circle cx="176.9" cy="284.0" r="1.2"/><circle cx="204.2" cy="277.9" r="1.2"/><circle cx="284.3" cy="285.2" r="1.2"/><circle cx="198.1" cy="266.0" r="1.2"/><circle cx="206.9" cy="216.7" r="1.2"/><circle cx="177.4" cy="286.4" r="1.2"/><circle cx="231.7" cy="286.7" r="1.2"/><circle cx="209.5" cy="256.9" r="1.2"/><circle cx="210.4" cy="264.2" r="1.2"/><circle cx="197.3" cy="269.1" r="1.2"/><circle cx="148.7" cy="287.4" r="1.2"/><circle cx="169.0" cy="213.6" r="1.2"/><circle cx="178.3" cy="285.2" r="1.2"/><circle cx="213.0" cy="259.7" r="1.2"/><circle cx="178.0" cy="262.4" r="1.2"/><circle cx="130.3" cy="283.8" r="1.2"/><circle cx="129.4" cy="281.5" r="1.2"/><circle cx="203.5" cy="267.4" r="1.2"/><circle cx="203.5" cy="193.7" r="1.2"/><circle cx="169.3" cy="262.1" r="1.2"/><circle cx="196.3" cy="267.9" r="1.2"/><circle cx="168.9" cy="243.5" r="1.2"/><circle cx="123.5" cy="280.7" r="1.2"/><circle cx="201.2" cy="268.9" r="1.2"/><circle cx="148.7" cy="212.7" r="1.2"/><circle cx="207.6" cy="265.0" r="1.2"/><circle cx="208.5" cy="283.7" r="1.2"/><circle cx="202.9" cy="272.2" r="1.2"/><circle cx="136.2" cy="284.1" r="1.2"/><circle cx="199.6" cy="273.9" r="1.2"/><circle cx="193.9" cy="282.7" r="1.2"/><circle cx="193.9" cy="282.0" r="1.2"/><circle cx="114.1" cy="283.9" r="1.2"/><circle cx="166.7" cy="206.6" r="1.2"/><circle cx="217.1" cy="287.5" r="1.2"/><circle cx="122.1" cy="286.8" r="1.2"/><circle cx="179.5" cy="288.7" r="1.2"/><circle cx="181.9" cy="284.0" r="1.2"/><circle cx="206.1" cy="275.0" r="1.2"/><circle cx="168.8" cy="291.5" r="1.2"/><circle cx="192.2" cy="291.0" r="1.2"/><circle cx="169.7" cy="236.5" r="1.2"/><circle cx="220.3" cy="252.0" r="1.2"/><circle cx="183.1" cy="279.2" r="1.2"/><circle cx="205.8" cy="284.4" r="1.2"/><circle cx="223.2" cy="269.2" r="1.2"/><circle cx="171.2" cy="286.0" r="1.2"/><circle cx="209.9" cy="243.2" r="1.2"/><circle cx="180.1" cy="275.5" r="1.2"/><circle cx="167.1" cy="285.6" r="1.2"/><circle cx="182.0" cy="291.1" r="1.2"/><circle cx="166.8" cy="277.6" r="1.2"/><circle cx="122.0" cy="289.1" r="1.2"/><circle cx="233.6" cy="285.3" r="1.2"/><circle cx="200.8" cy="222.0" r="1.2"/><circle cx="158.3" cy="283.1" r="1.2"/><circle cx="199.2" cy="233.5" r="1.2"/><circle cx="160.1" cy="265.7" r="1.2"/><circle cx="217.0" cy="253.2" r="1.2"/><circle cx="160.9" cy="280.6" r="1.2"/><circle cx="243.8" cy="261.3" r="1.2"/><circle cx="179.7" cy="284.3" r="1.2"/><circle cx="233.7" cy="288.5" r="1.2"/><circle cx="193.4" cy="284.4" r="1.2"/><circle cx="121.1" cy="263.0" r="1.2"/><circle cx="183.0" cy="283.4" r="1.2"/><circle cx="173.5" cy="236.5" r="1.2"/><circle cx="197.5" cy="253.1" r="1.2"/><circle cx="220.3" cy="271.9" r="1.2"/><circle cx="157.1" cy="270.2" r="1.2"/><circle cx="204.2" cy="289.6" r="1.2"/><circle cx="176.9" cy="256.3" r="1.2"/><circle cx="136.7" cy="280.5" r="1.2"/><circle cx="183.0" cy="278.1" r="1.2"/><circle cx="159.9" cy="283.4" r="1.2"/><circle cx="175.1" cy="273.6" r="1.2"/><circle cx="172.4" cy="195.2" r="1.2"/><circle cx="195.8" cy="271.5" r="1.2"/><circle cx="176.0" cy="212.8" r="1.2"/><circle cx="179.1" cy="279.3" r="1.2"/><circle cx="249.8" cy="285.6" r="1.2"/><circle cx="176.2" cy="262.1" r="1.2"/><circle cx="175.0" cy="270.8" r="1.2"/><circle cx="174.0" cy="221.8" r="1.2"/><circle cx="215.3" cy="286.3" r="1.2"/><circle cx="214.6" cy="257.5" r="1.2"/><circle cx="178.8" cy="272.8" r="1.2"/><circle cx="181.5" cy="279.5" r="1.2"/><circle cx="216.0" cy="229.3" r="1.2"/><circle cx="212.9" cy="214.8" r="1.2"/><circle cx="213.6" cy="261.8" r="1.2"/><circle cx="266.0" cy="257.2" r="1.2"/><circle cx="150.7" cy="217.0" r="1.2"/><circle cx="171.7" cy="277.1" r="1.2"/><circle cx="224.9" cy="267.4" r="1.2"/><circle cx="178.3" cy="282.7" r="1.2"/><circle cx="182.6" cy="283.6" r="1.2"/><circle cx="235.4" cy="278.2" r="1.2"/><circle cx="236.4" cy="205.5" r="1.2"/><circle cx="201.3" cy="260.5" r="1.2"/><circle cx="177.2" cy="176.0" r="1.2"/><circle cx="146.9" cy="273.6" r="1.2"/><circle cx="255.3" cy="281.8" r="1.2"/><circle cx="166.5" cy="231.5" r="1.2"/><circle cx="201.8" cy="285.0" r="1.2"/><circle cx="255.0" cy="289.6" r="1.2"/><circle cx="235.1" cy="284.4" r="1.2"/><circle cx="245.8" cy="283.7" r="1.2"/><circle cx="139.2" cy="269.4" r="1.2"/><circle cx="161.6" cy="284.7" r="1.2"/><circle cx="182.7" cy="284.0" r="1.2"/><circle cx="204.9" cy="264.8" r="1.2"/><circle cx="148.5" cy="286.6" r="1.2"/><circle cx="103.7" cy="282.6" r="1.2"/><circle cx="184.0" cy="285.5" r="1.2"/><circle cx="204.8" cy="287.9" r="1.2"/><circle cx="216.8" cy="216.8" r="1.2"/><circle cx="174.5" cy="284.4" r="1.2"/><circle cx="203.1" cy="275.5" r="1.2"/><circle cx="177.2" cy="229.8" r="1.2"/><circle cx="247.0" cy="285.6" r="1.2"/><circle cx="151.7" cy="283.3" r="1.2"/><circle cx="253.9" cy="285.0" r="1.2"/><circle cx="224.0" cy="276.2" r="1.2"/><circle cx="217.4" cy="279.9" r="1.2"/><circle cx="119.8" cy="244.5" r="1.2"/><circle cx="183.0" cy="285.0" r="1.2"/><circle cx="169.8" cy="243.2" r="1.2"/><circle cx="195.6" cy="291.4" r="1.2"/><circle cx="206.8" cy="262.6" r="1.2"/><circle cx="179.1" cy="283.5" r="1.2"/><circle cx="102.9" cy="283.9" r="1.2"/><circle cx="228.9" cy="278.5" r="1.2"/><circle cx="166.5" cy="192.9" r="1.2"/><circle cx="224.6" cy="285.4" r="1.2"/><circle cx="209.0" cy="227.7" r="1.2"/><circle cx="206.9" cy="224.6" r="1.2"/><circle cx="162.8" cy="266.4" r="1.2"/><circle cx="131.4" cy="287.3" r="1.2"/><circle cx="195.5" cy="283.6" r="1.2"/><circle cx="222.8" cy="280.4" r="1.2"/><circle cx="173.8" cy="287.8" r="1.2"/><circle cx="170.1" cy="272.9" r="1.2"/><circle cx="196.3" cy="267.2" r="1.2"/><circle cx="252.2" cy="284.6" r="1.2"/><circle cx="174.4" cy="217.4" r="1.2"/><circle cx="207.0" cy="182.2" r="1.2"/><circle cx="208.5" cy="283.6" r="1.2"/><circle cx="204.2" cy="263.8" r="1.2"/><circle cx="89.8" cy="284.4" r="1.2"/><circle cx="173.7" cy="280.5" r="1.2"/><circle cx="195.9" cy="283.8" r="1.2"/><circle cx="178.8" cy="240.1" r="1.2"/><circle cx="168.4" cy="288.5" r="1.2"/><circle cx="157.7" cy="268.1" r="1.2"/><circle cx="179.5" cy="284.4" r="1.2"/><circle cx="202.0" cy="178.5" r="1.2"/><circle cx="195.5" cy="282.1" r="1.2"/><circle cx="203.2" cy="283.0" r="1.2"/><circle cx="197.5" cy="269.0" r="1.2"/><circle cx="172.4" cy="189.8" r="1.2"/><circle cx="184.6" cy="285.6" r="1.2"/><circle cx="201.7" cy="271.4" r="1.2"/><circle cx="218.1" cy="277.5" r="1.2"/><circle cx="170.3" cy="270.7" r="1.2"/><circle cx="185.2" cy="287.6" r="1.2"/><circle cx="205.4" cy="285.4" r="1.2"/><circle cx="196.4" cy="268.9" r="1.2"/><circle cx="174.2" cy="252.7" r="1.2"/><circle cx="68.9" cy="284.9" r="1.2"/><circle cx="171.2" cy="278.3" r="1.2"/><circle cx="157.4" cy="286.4" r="1.2"/><circle cx="174.0" cy="215.9" r="1.2"/><circle cx="162.4" cy="277.7" r="1.2"/><circle cx="220.1" cy="264.4" r="1.2"/><circle cx="178.8" cy="249.9" r="1.2"/><circle cx="202.2" cy="282.0" r="1.2"/><circle cx="180.7" cy="273.0" r="1.2"/><circle cx="168.1" cy="282.2" r="1.2"/><circle cx="181.4" cy="269.7" r="1.2"/><circle cx="178.5" cy="269.6" r="1.2"/><circle cx="167.3" cy="252.6" r="1.2"/><circle cx="222.4" cy="253.0" r="1.2"/><circle cx="167.0" cy="283.8" r="1.2"/><circle cx="175.9" cy="249.2" r="1.2"/><circle cx="207.0" cy="285.3" r="1.2"/><circle cx="130.8" cy="283.5" r="1.2"/><circle cx="163.4" cy="213.1" r="1.2"/><circle cx="207.8" cy="265.3" r="1.2"/><circle cx="171.8" cy="182.9" r="1.2"/><circle cx="179.3" cy="283.1" r="1.2"/><circle cx="177.8" cy="230.2" r="1.2"/><circle cx="179.3" cy="272.4" r="1.2"/><circle cx="200.5" cy="268.0" r="1.2"/><circle cx="194.2" cy="283.5" r="1.2"/><circle cx="171.9" cy="274.2" r="1.2"/><circle cx="184.3" cy="284.6" r="1.2"/><circle cx="195.5" cy="283.8" r="1.2"/><circle cx="195.8" cy="279.9" r="1.2"/><circle cx="204.3" cy="285.3" r="1.2"/><circle cx="193.5" cy="285.5" r="1.2"/><circle cx="201.1" cy="255.9" r="1.2"/><circle cx="170.3" cy="231.2" r="1.2"/><circle cx="181.5" cy="279.6" r="1.2"/><circle cx="225.3" cy="287.4" r="1.2"/><circle cx="202.4" cy="279.1" r="1.2"/><circle cx="175.6" cy="251.6" r="1.2"/><circle cx="142.2" cy="284.2" r="1.2"/><circle cx="211.1" cy="268.3" r="1.2"/><circle cx="170.2" cy="284.0" r="1.2"/><circle cx="222.1" cy="249.7" r="1.2"/><circle cx="167.8" cy="221.3" r="1.2"/><circle cx="141.8" cy="284.0" r="1.2"/><circle cx="213.8" cy="260.6" r="1.2"/><circle cx="130.8" cy="250.0" r="1.2"/><circle cx="172.9" cy="284.7" r="1.2"/><circle cx="157.2" cy="276.2" r="1.2"/><circle cx="199.3" cy="239.3" r="1.2"/><circle cx="103.7" cy="286.3" r="1.2"/><circle cx="170.3" cy="285.0" r="1.2"/><circle cx="155.8" cy="283.7" r="1.2"/><circle cx="153.7" cy="283.1" r="1.2"/><circle cx="180.1" cy="282.1" r="1.2"/><circle cx="207.7" cy="186.0" r="1.2"/><circle cx="216.8" cy="288.0" r="1.2"/><circle cx="204.3" cy="265.3" r="1.2"/><circle cx="196.8" cy="284.3" r="1.2"/><circle cx="167.8" cy="285.6" r="1.2"/><circle cx="216.8" cy="274.1" r="1.2"/><circle cx="194.1" cy="285.9" r="1.2"/><circle cx="213.5" cy="282.2" r="1.2"/><circle cx="168.5" cy="284.6" r="1.2"/><circle cx="204.4" cy="241.7" r="1.2"/><circle cx="172.9" cy="247.6" r="1.2"/><circle cx="205.1" cy="284.5" r="1.2"/><circle cx="179.2" cy="245.2" r="1.2"/><circle cx="177.0" cy="187.6" r="1.2"/><circle cx="156.5" cy="284.4" r="1.2"/><circle cx="173.4" cy="269.5" r="1.2"/><circle cx="157.1" cy="200.6" r="1.2"/><circle cx="177.1" cy="172.9" r="1.2"/><circle cx="198.5" cy="283.6" r="1.2"/><circle cx="168.4" cy="288.4" r="1.2"/><circle cx="225.3" cy="264.5" r="1.2"/><circle cx="175.5" cy="225.5" r="1.2"/><circle cx="213.3" cy="242.9" r="1.2"/><circle cx="197.6" cy="268.2" r="1.2"/><circle cx="181.9" cy="284.6" r="1.2"/><circle cx="196.7" cy="268.7" r="1.2"/><circle cx="226.8" cy="280.9" r="1.2"/><circle cx="169.9" cy="261.9" r="1.2"/><circle cx="162.9" cy="285.2" r="1.2"/><circle cx="159.6" cy="276.5" r="1.2"/><circle cx="206.7" cy="189.6" r="1.2"/><circle cx="121.6" cy="278.0" r="1.2"/><circle cx="200.8" cy="247.8" r="1.2"/><circle cx="152.7" cy="284.9" r="1.2"/><circle cx="191.1" cy="290.6" r="1.2"/><circle cx="176.5" cy="286.1" r="1.2"/><circle cx="203.3" cy="281.0" r="1.2"/><circle cx="218.0" cy="283.0" r="1.2"/><circle cx="205.8" cy="226.4" r="1.2"/><circle cx="150.3" cy="277.7" r="1.2"/><circle cx="178.2" cy="246.9" r="1.2"/><circle cx="199.2" cy="280.3" r="1.2"/><circle cx="201.5" cy="258.4" r="1.2"/><circle cx="229.5" cy="283.0" r="1.2"/><circle cx="213.9" cy="208.7" r="1.2"/><circle cx="202.0" cy="283.4" r="1.2"/><circle cx="174.0" cy="279.7" r="1.2"/><circle cx="202.0" cy="285.0" r="1.2"/><circle cx="201.5" cy="285.0" r="1.2"/><circle cx="205.8" cy="232.8" r="1.2"/><circle cx="228.1" cy="283.9" r="1.2"/><circle cx="167.9" cy="217.6" r="1.2"/><circle cx="146.5" cy="196.7" r="1.2"/><circle cx="181.9" cy="287.8" r="1.2"/><circle cx="178.0" cy="275.0" r="1.2"/><circle cx="170.0" cy="195.4" r="1.2"/><circle cx="205.6" cy="267.8" r="1.2"/><circle cx="158.7" cy="194.2" r="1.2"/><circle cx="201.5" cy="284.0" r="1.2"/><circle cx="198.7" cy="285.4" r="1.2"/><circle cx="199.3" cy="265.1" r="1.2"/><circle cx="197.5" cy="264.6" r="1.2"/><circle cx="206.4" cy="221.5" r="1.2"/><circle cx="213.4" cy="261.8" r="1.2"/><circle cx="125.1" cy="282.8" r="1.2"/><circle cx="185.5" cy="287.7" r="1.2"/><circle cx="162.2" cy="283.6" r="1.2"/><circle cx="156.8" cy="244.5" r="1.2"/><circle cx="208.6" cy="185.7" r="1.2"/><circle cx="162.8" cy="239.4" r="1.2"/><circle cx="206.4" cy="275.0" r="1.2"/><circle cx="202.6" cy="254.2" r="1.2"/><circle cx="237.8" cy="284.4" r="1.2"/><circle cx="154.7" cy="250.4" r="1.2"/><circle cx="208.6" cy="254.3" r="1.2"/><circle cx="161.0" cy="283.0" r="1.2"/><circle cx="192.9" cy="289.5" r="1.2"/><circle cx="214.4" cy="235.1" r="1.2"/><circle cx="165.1" cy="204.9" r="1.2"/><circle cx="164.7" cy="286.0" r="1.2"/><circle cx="152.9" cy="272.0" r="1.2"/><circle cx="166.1" cy="285.3" r="1.2"/><circle cx="194.3" cy="283.6" r="1.2"/><circle cx="214.4" cy="282.9" r="1.2"/><circle cx="166.0" cy="222.8" r="1.2"/><circle cx="88.5" cy="267.5" r="1.2"/><circle cx="199.3" cy="262.0" r="1.2"/><circle cx="237.9" cy="284.7" r="1.2"/><circle cx="206.5" cy="205.4" r="1.2"/><circle cx="208.8" cy="287.0" r="1.2"/><circle cx="213.8" cy="289.1" r="1.2"/><circle cx="178.2" cy="285.0" r="1.2"/><circle cx="180.4" cy="288.7" r="1.2"/><circle cx="180.6" cy="274.4" r="1.2"/><circle cx="200.2" cy="256.7" r="1.2"/><circle cx="197.3" cy="287.6" r="1.2"/><circle cx="154.3" cy="237.6" r="1.2"/><circle cx="203.1" cy="219.3" r="1.2"/><circle cx="199.0" cy="270.2" r="1.2"/><circle cx="164.7" cy="269.0" r="1.2"/><circle cx="204.8" cy="214.3" r="1.2"/><circle cx="179.2" cy="283.4" r="1.2"/><circle cx="177.3" cy="273.3" r="1.2"/><circle cx="176.6" cy="286.0" r="1.2"/><circle cx="206.4" cy="270.3" r="1.2"/><circle cx="120.3" cy="277.7" r="1.2"/><circle cx="197.3" cy="285.7" r="1.2"/><circle cx="195.3" cy="276.9" r="1.2"/><circle cx="203.0" cy="253.8" r="1.2"/><circle cx="168.4" cy="182.7" r="1.2"/><circle cx="208.9" cy="284.1" r="1.2"/><circle cx="134.9" cy="284.6" r="1.2"/><circle cx="203.0" cy="216.1" r="1.2"/><circle cx="209.9" cy="284.5" r="1.2"/><circle cx="212.5" cy="275.4" r="1.2"/><circle cx="156.8" cy="289.7" r="1.2"/><circle cx="199.1" cy="264.3" r="1.2"/><circle cx="257.8" cy="269.3" r="1.2"/><circle cx="222.2" cy="232.5" r="1.2"/><circle cx="204.5" cy="258.0" r="1.2"/><circle cx="181.6" cy="284.8" r="1.2"/><circle cx="183.8" cy="284.9" r="1.2"/><circle cx="155.3" cy="232.1" r="1.2"/><circle cx="164.4" cy="257.6" r="1.2"/><circle cx="175.6" cy="200.9" r="1.2"/><circle cx="182.4" cy="272.5" r="1.2"/><circle cx="196.9" cy="263.9" r="1.2"/><circle cx="167.7" cy="237.5" r="1.2"/><circle cx="176.8" cy="283.3" r="1.2"/><circle cx="202.5" cy="236.5" r="1.2"/><circle cx="220.8" cy="290.7" r="1.2"/><circle cx="167.1" cy="285.3" r="1.2"/><circle cx="170.9" cy="282.9" r="1.2"/><circle cx="195.4" cy="284.4" r="1.2"/><circle cx="159.5" cy="275.9" r="1.2"/><circle cx="171.6" cy="239.7" r="1.2"/><circle cx="202.2" cy="284.5" r="1.2"/><circle cx="181.3" cy="286.5" r="1.2"/><circle cx="209.7" cy="283.4" r="1.2"/><circle cx="180.9" cy="288.7" r="1.2"/><circle cx="159.7" cy="249.9" r="1.2"/><circle cx="212.3" cy="232.6" r="1.2"/><circle cx="173.6" cy="261.1" r="1.2"/><circle cx="201.3" cy="238.4" r="1.2"/><circle cx="200.5" cy="226.3" r="1.2"/><circle cx="124.6" cy="222.3" r="1.2"/><circle cx="214.6" cy="267.6" r="1.2"/><circle cx="116.6" cy="284.6" r="1.2"/><circle cx="214.1" cy="250.5" r="1.2"/><circle cx="196.0" cy="275.9" r="1.2"/><circle cx="195.2" cy="286.6" r="1.2"/><circle cx="204.1" cy="250.9" r="1.2"/><circle cx="172.6" cy="221.4" r="1.2"/><circle cx="236.8" cy="264.9" r="1.2"/><circle cx="136.6" cy="285.1" r="1.2"/><circle cx="207.4" cy="262.6" r="1.2"/><circle cx="171.9" cy="218.4" r="1.2"/><circle cx="174.9" cy="265.2" r="1.2"/><circle cx="178.5" cy="269.6" r="1.2"/><circle cx="148.0" cy="270.9" r="1.2"/><circle cx="178.4" cy="265.2" r="1.2"/><circle cx="165.5" cy="223.4" r="1.2"/><circle cx="175.1" cy="262.3" r="1.2"/><circle cx="163.3" cy="286.6" r="1.2"/><circle cx="200.2" cy="228.9" r="1.2"/><circle cx="261.5" cy="287.6" r="1.2"/><circle cx="267.9" cy="283.5" r="1.2"/><circle cx="172.5" cy="242.8" r="1.2"/><circle cx="178.0" cy="286.8" r="1.2"/><circle cx="211.0" cy="223.1" r="1.2"/><circle cx="160.8" cy="262.3" r="1.2"/><circle cx="152.5" cy="248.5" r="1.2"/><circle cx="182.2" cy="280.6" r="1.2"/><circle cx="225.3" cy="243.1" r="1.2"/><circle cx="195.5" cy="288.6" r="1.2"/><circle cx="123.7" cy="266.2" r="1.2"/><circle cx="178.4" cy="276.8" r="1.2"/><circle cx="167.7" cy="267.6" r="1.2"/><circle cx="155.4" cy="237.9" r="1.2"/><circle cx="204.1" cy="180.9" r="1.2"/><circle cx="177.4" cy="246.8" r="1.2"/><circle cx="168.7" cy="284.2" r="1.2"/><circle cx="174.8" cy="270.3" r="1.2"/><circle cx="180.1" cy="269.2" r="1.2"/><circle cx="165.9" cy="189.2" r="1.2"/><circle cx="173.8" cy="205.0" r="1.2"/><circle cx="183.9" cy="281.9" r="1.2"/><circle cx="204.0" cy="283.1" r="1.2"/><circle cx="200.1" cy="225.3" r="1.2"/><circle cx="168.2" cy="282.7" r="1.2"/><circle cx="173.6" cy="242.3" r="1.2"/><circle cx="175.1" cy="277.3" r="1.2"/><circle cx="227.9" cy="283.6" r="1.2"/><circle cx="235.4" cy="285.7" r="1.2"/><circle cx="109.2" cy="260.9" r="1.2"/><circle cx="177.7" cy="266.9" r="1.2"/><circle cx="173.9" cy="261.3" r="1.2"/><circle cx="144.1" cy="285.1" r="1.2"/><circle cx="168.1" cy="274.6" r="1.2"/><circle cx="195.9" cy="284.8" r="1.2"/><circle cx="166.0" cy="233.3" r="1.2"/><circle cx="158.1" cy="254.2" r="1.2"/><circle cx="170.2" cy="235.7" r="1.2"/><circle cx="197.3" cy="269.7" r="1.2"/><circle cx="169.4" cy="250.2" r="1.2"/><circle cx="143.7" cy="252.8" r="1.2"/><circle cx="220.7" cy="263.0" r="1.2"/><circle cx="199.5" cy="284.0" r="1.2"/><circle cx="201.0" cy="214.9" r="1.2"/><circle cx="179.0" cy="258.9" r="1.2"/><circle cx="215.8" cy="284.8" r="1.2"/><circle cx="206.2" cy="236.7" r="1.2"/><circle cx="202.3" cy="184.8" r="1.2"/><circle cx="225.4" cy="289.5" r="1.2"/><circle cx="195.8" cy="276.9" r="1.2"/><circle cx="163.6" cy="285.5" r="1.2"/><circle cx="161.3" cy="230.8" r="1.2"/><circle cx="214.8" cy="284.2" r="1.2"/><circle cx="182.1" cy="273.2" r="1.2"/><circle cx="149.8" cy="289.6" r="1.2"/><circle cx="143.7" cy="283.6" r="1.2"/><circle cx="161.2" cy="195.7" r="1.2"/><circle cx="196.3" cy="286.2" r="1.2"/><circle cx="221.5" cy="231.3" r="1.2"/><circle cx="140.6" cy="283.0" r="1.2"/><circle cx="331.1" cy="283.6" r="1.2"/><circle cx="201.4" cy="262.8" r="1.2"/><circle cx="178.2" cy="237.6" r="1.2"/><circle cx="218.7" cy="288.8" r="1.2"/><circle cx="176.9" cy="215.7" r="1.2"/><circle cx="217.5" cy="283.5" r="1.2"/><circle cx="197.3" cy="271.0" r="1.2"/><circle cx="198.0" cy="290.4" r="1.2"/><circle cx="86.6" cy="284.1" r="1.2"/><circle cx="216.0" cy="247.5" r="1.2"/><circle cx="202.7" cy="236.4" r="1.2"/><circle cx="100.3" cy="287.1" r="1.2"/><circle cx="202.6" cy="254.8" r="1.2"/><circle cx="163.6" cy="285.1" r="1.2"/><circle cx="182.3" cy="273.7" r="1.2"/><circle cx="172.0" cy="286.7" r="1.2"/><circle cx="235.5" cy="276.9" r="1.2"/><circle cx="166.3" cy="284.3" r="1.2"/><circle cx="199.7" cy="259.1" r="1.2"/><circle cx="200.2" cy="286.6" r="1.2"/><circle cx="178.1" cy="233.0" r="1.2"/><circle cx="171.3" cy="285.1" r="1.2"/><circle cx="166.3" cy="168.3" r="1.2"/><circle cx="236.5" cy="283.5" r="1.2"/><circle cx="215.0" cy="231.3" r="1.2"/><circle cx="168.6" cy="288.3" r="1.2"/><circle cx="168.7" cy="179.1" r="1.2"/><circle cx="211.3" cy="251.0" r="1.2"/><circle cx="171.7" cy="246.6" r="1.2"/><circle cx="160.8" cy="281.5" r="1.2"/><circle cx="195.4" cy="275.0" r="1.2"/><circle cx="176.8" cy="269.4" r="1.2"/><circle cx="143.6" cy="285.0" r="1.2"/><circle cx="164.4" cy="276.6" r="1.2"/><circle cx="138.1" cy="276.9" r="1.2"/><circle cx="221.8" cy="263.2" r="1.2"/><circle cx="174.4" cy="253.9" r="1.2"/><circle cx="172.4" cy="272.1" r="1.2"/><circle cx="169.1" cy="208.6" r="1.2"/><circle cx="213.5" cy="194.0" r="1.2"/><circle cx="167.1" cy="270.0" r="1.2"/><circle cx="157.1" cy="282.6" r="1.2"/><circle cx="177.1" cy="227.8" r="1.2"/><circle cx="146.1" cy="235.7" r="1.2"/><circle cx="202.5" cy="234.0" r="1.2"/><circle cx="199.0" cy="245.0" r="1.2"/><circle cx="169.9" cy="232.1" r="1.2"/><circle cx="206.5" cy="252.8" r="1.2"/><circle cx="226.2" cy="271.9" r="1.2"/><circle cx="225.7" cy="283.8" r="1.2"/><circle cx="158.1" cy="246.9" r="1.2"/><circle cx="179.7" cy="263.7" r="1.2"/><circle cx="204.4" cy="237.0" r="1.2"/><circle cx="208.9" cy="283.7" r="1.2"/><circle cx="168.7" cy="287.9" r="1.2"/><circle cx="201.9" cy="252.5" r="1.2"/><circle cx="175.9" cy="288.6" r="1.2"/><circle cx="203.8" cy="283.9" r="1.2"/><circle cx="196.2" cy="268.1" r="1.2"/><circle cx="176.4" cy="288.0" r="1.2"/><circle cx="194.3" cy="286.5" r="1.2"/><circle cx="137.1" cy="282.9" r="1.2"/><circle cx="211.3" cy="231.8" r="1.2"/><circle cx="180.8" cy="271.9" r="1.2"/><circle cx="182.4" cy="285.6" r="1.2"/><circle cx="185.2" cy="289.3" r="1.2"/><circle cx="210.2" cy="290.0" r="1.2"/><circle cx="201.6" cy="213.6" r="1.2"/><circle cx="159.4" cy="278.5" r="1.2"/><circle cx="167.1" cy="219.8" r="1.2"/><circle cx="183.7" cy="281.4" r="1.2"/><circle cx="201.5" cy="276.3" r="1.2"/><circle cx="207.1" cy="215.7" r="1.2"/><circle cx="172.1" cy="229.0" r="1.2"/><circle cx="194.9" cy="288.4" r="1.2"/><circle cx="154.6" cy="207.6" r="1.2"/><circle cx="182.0" cy="283.2" r="1.2"/><circle cx="198.3" cy="255.5" r="1.2"/><circle cx="244.7" cy="237.5" r="1.2"/><circle cx="151.6" cy="269.6" r="1.2"/><circle cx="202.1" cy="274.5" r="1.2"/><circle cx="198.1" cy="285.8" r="1.2"/><circle cx="218.3" cy="283.6" r="1.2"/><circle cx="217.5" cy="209.2" r="1.2"/><circle cx="180.7" cy="267.6" r="1.2"/><circle cx="197.4" cy="266.1" r="1.2"/><circle cx="198.1" cy="283.6" r="1.2"/><circle cx="169.9" cy="285.5" r="1.2"/><circle cx="174.0" cy="278.8" r="1.2"/><circle cx="145.8" cy="272.1" r="1.2"/><circle cx="234.5" cy="256.9" r="1.2"/><circle cx="180.9" cy="284.1" r="1.2"/><circle cx="214.0" cy="255.7" r="1.2"/><circle cx="201.5" cy="267.4" r="1.2"/><circle cx="198.5" cy="288.2" r="1.2"/><circle cx="236.6" cy="285.7" r="1.2"/><circle cx="180.5" cy="286.3" r="1.2"/><circle cx="179.5" cy="284.0" r="1.2"/><circle cx="253.3" cy="248.3" r="1.2"/><circle cx="177.3" cy="250.1" r="1.2"/><circle cx="138.6" cy="270.1" r="1.2"/><circle cx="176.8" cy="283.8" r="1.2"/><circle cx="179.7" cy="274.6" r="1.2"/><circle cx="174.4" cy="272.3" r="1.2"/><circle cx="164.9" cy="268.5" r="1.2"/><circle cx="194.9" cy="283.4" r="1.2"/><circle cx="196.7" cy="271.3" r="1.2"/><circle cx="205.5" cy="286.2" r="1.2"/><circle cx="208.5" cy="238.1" r="1.2"/><circle cx="171.9" cy="209.3" r="1.2"/><circle cx="170.1" cy="250.1" r="1.2"/><circle cx="142.7" cy="282.7" r="1.2"/><circle cx="224.5" cy="283.9" r="1.2"/><circle cx="170.1" cy="267.0" r="1.2"/><circle cx="167.1" cy="285.2" r="1.2"/><circle cx="206.4" cy="279.5" r="1.2"/><circle cx="177.3" cy="257.9" r="1.2"/><circle cx="221.9" cy="204.5" r="1.2"/><circle cx="197.2" cy="272.0" r="1.2"/><circle cx="232.7" cy="284.3" r="1.2"/><circle cx="156.6" cy="244.8" r="1.2"/><circle cx="220.6" cy="258.0" r="1.2"/><circle cx="195.8" cy="287.0" r="1.2"/><circle cx="166.4" cy="180.1" r="1.2"/><circle cx="196.2" cy="291.5" r="1.2"/><circle cx="175.0" cy="238.1" r="1.2"/><circle cx="216.0" cy="215.8" r="1.2"/><circle cx="204.1" cy="281.0" r="1.2"/><circle cx="175.6" cy="276.4" r="1.2"/><circle cx="193.9" cy="287.5" r="1.2"/><circle cx="154.0" cy="224.6" r="1.2"/><circle cx="201.6" cy="274.6" r="1.2"/><circle cx="146.4" cy="251.1" r="1.2"/><circle cx="203.0" cy="226.3" r="1.2"/><circle cx="176.1" cy="287.5" r="1.2"/><circle cx="211.1" cy="270.0" r="1.2"/><circle cx="179.6" cy="282.3" r="1.2"/><circle cx="168.5" cy="209.7" r="1.2"/><circle cx="175.5" cy="284.6" r="1.2"/><circle cx="180.6" cy="281.1" r="1.2"/><circle cx="169.9" cy="286.4" r="1.2"/><circle cx="197.6" cy="291.5" r="1.2"/><circle cx="160.9" cy="287.5" r="1.2"/><circle cx="200.7" cy="252.5" r="1.2"/><circle cx="217.8" cy="221.8" r="1.2"/><circle cx="230.2" cy="224.6" r="1.2"/><circle cx="168.0" cy="287.5" r="1.2"/><circle cx="171.0" cy="270.8" r="1.2"/><circle cx="160.9" cy="284.9" r="1.2"/><circle cx="161.4" cy="277.4" r="1.2"/><circle cx="199.8" cy="251.9" r="1.2"/><circle cx="198.7" cy="240.6" r="1.2"/><circle cx="176.6" cy="250.9" r="1.2"/><circle cx="223.3" cy="263.0" r="1.2"/><circle cx="142.0" cy="283.5" r="1.2"/><circle cx="177.7" cy="237.6" r="1.2"/><circle cx="96.4" cy="282.0" r="1.2"/><circle cx="150.7" cy="281.4" r="1.2"/><circle cx="219.4" cy="255.3" r="1.2"/><circle cx="199.2" cy="285.6" r="1.2"/><circle cx="167.0" cy="283.9" r="1.2"/><circle cx="214.9" cy="277.5" r="1.2"/><circle cx="185.2" cy="290.1" r="1.2"/><circle cx="197.7" cy="274.5" r="1.2"/><circle cx="128.2" cy="283.7" r="1.2"/><circle cx="147.9" cy="262.7" r="1.2"/><circle cx="212.2" cy="289.4" r="1.2"/><circle cx="208.6" cy="259.3" r="1.2"/><circle cx="220.6" cy="262.0" r="1.2"/><circle cx="173.2" cy="199.7" r="1.2"/><circle cx="228.8" cy="227.6" r="1.2"/><circle cx="164.5" cy="290.0" r="1.2"/><circle cx="160.5" cy="213.4" r="1.2"/><circle cx="177.7" cy="278.5" r="1.2"/><circle cx="179.6" cy="283.2" r="1.2"/><circle cx="167.2" cy="283.6" r="1.2"/><circle cx="200.0" cy="259.0" r="1.2"/><circle cx="120.5" cy="270.5" r="1.2"/><circle cx="156.2" cy="284.4" r="1.2"/><circle cx="151.8" cy="276.9" r="1.2"/><circle cx="224.5" cy="256.7" r="1.2"/><circle cx="217.8" cy="289.2" r="1.2"/><circle cx="158.5" cy="281.4" r="1.2"/><circle cx="255.5" cy="286.3" r="1.2"/><circle cx="171.8" cy="283.2" r="1.2"/><circle cx="154.6" cy="270.3" r="1.2"/><circle cx="201.0" cy="286.0" r="1.2"/><circle cx="182.7" cy="288.5" r="1.2"/><circle cx="200.6" cy="260.9" r="1.2"/><circle cx="144.4" cy="278.2" r="1.2"/><circle cx="175.3" cy="208.7" r="1.2"/><circle cx="217.9" cy="274.9" r="1.2"/><circle cx="194.6" cy="278.4" r="1.2"/><circle cx="142.3" cy="285.2" r="1.2"/><circle cx="170.3" cy="265.0" r="1.2"/><circle cx="144.4" cy="275.5" r="1.2"/><circle cx="331.3" cy="283.1" r="1.2"/><circle cx="200.0" cy="283.2" r="1.2"/><circle cx="181.7" cy="285.0" r="1.2"/><circle cx="163.0" cy="282.3" r="1.2"/><circle cx="172.6" cy="272.5" r="1.2"/><circle cx="197.8" cy="273.1" r="1.2"/><circle cx="180.9" cy="287.0" r="1.2"/><circle cx="172.5" cy="229.4" r="1.2"/><circle cx="226.7" cy="273.3" r="1.2"/><circle cx="192.8" cy="287.4" r="1.2"/><circle cx="204.1" cy="283.0" r="1.2"/><circle cx="160.0" cy="214.0" r="1.2"/><circle cx="213.0" cy="249.4" r="1.2"/><circle cx="218.2" cy="283.1" r="1.2"/><circle cx="185.1" cy="286.9" r="1.2"/><circle cx="217.2" cy="271.1" r="1.2"/><circle cx="233.0" cy="191.1" r="1.2"/><circle cx="230.6" cy="283.5" r="1.2"/><circle cx="177.2" cy="284.7" r="1.2"/><circle cx="207.8" cy="283.6" r="1.2"/><circle cx="210.3" cy="286.5" r="1.2"/><circle cx="172.0" cy="233.6" r="1.2"/><circle cx="206.4" cy="265.8" r="1.2"/><circle cx="178.7" cy="288.4" r="1.2"/><circle cx="214.5" cy="255.2" r="1.2"/><circle cx="200.2" cy="266.7" r="1.2"/><circle cx="163.3" cy="251.8" r="1.2"/><circle cx="235.0" cy="251.2" r="1.2"/><circle cx="197.1" cy="262.9" r="1.2"/><circle cx="164.4" cy="275.2" r="1.2"/><circle cx="247.6" cy="284.2" r="1.2"/><circle cx="242.1" cy="285.6" r="1.2"/><circle cx="166.5" cy="282.3" r="1.2"/><circle cx="182.1" cy="286.5" r="1.2"/><circle cx="205.4" cy="285.1" r="1.2"/><circle cx="169.4" cy="281.1" r="1.2"/><circle cx="127.5" cy="283.9" r="1.2"/><circle cx="223.8" cy="278.4" r="1.2"/><circle cx="201.0" cy="235.2" r="1.2"/><circle cx="225.1" cy="284.0" r="1.2"/><circle cx="207.5" cy="283.7" r="1.2"/><circle cx="216.8" cy="286.6" r="1.2"/><circle cx="204.3" cy="257.2" r="1.2"/><circle cx="200.2" cy="270.5" r="1.2"/><circle cx="224.0" cy="282.2" r="1.2"/><circle cx="199.2" cy="247.5" r="1.2"/><circle cx="177.1" cy="280.3" r="1.2"/><circle cx="198.6" cy="291.2" r="1.2"/><circle cx="114.0" cy="277.3" r="1.2"/><circle cx="204.0" cy="244.9" r="1.2"/><circle cx="175.5" cy="284.1" r="1.2"/><circle cx="168.5" cy="253.8" r="1.2"/><circle cx="176.9" cy="284.1" r="1.2"/><circle cx="199.4" cy="265.5" r="1.2"/><circle cx="212.2" cy="266.4" r="1.2"/><circle cx="183.9" cy="283.8" r="1.2"/><circle cx="195.8" cy="289.9" r="1.2"/><circle cx="180.3" cy="282.7" r="1.2"/><circle cx="199.8" cy="280.4" r="1.2"/><circle cx="173.3" cy="209.2" r="1.2"/><circle cx="169.6" cy="253.3" r="1.2"/><circle cx="160.3" cy="201.7" r="1.2"/><circle cx="197.7" cy="272.6" r="1.2"/><circle cx="144.3" cy="256.5" r="1.2"/><circle cx="164.8" cy="256.5" r="1.2"/><circle cx="160.2" cy="284.9" r="1.2"/><circle cx="195.3" cy="283.7" r="1.2"/><circle cx="210.0" cy="241.9" r="1.2"/><circle cx="140.4" cy="279.9" r="1.2"/><circle cx="202.4" cy="272.7" r="1.2"/><circle cx="204.6" cy="284.1" r="1.2"/><circle cx="180.7" cy="276.0" r="1.2"/><circle cx="170.8" cy="203.1" r="1.2"/><circle cx="202.7" cy="241.2" r="1.2"/><circle cx="169.5" cy="223.5" r="1.2"/><circle cx="247.6" cy="283.3" r="1.2"/><circle cx="209.0" cy="189.9" r="1.2"/><circle cx="165.0" cy="281.6" r="1.2"/><circle cx="142.5" cy="265.3" r="1.2"/><circle cx="178.1" cy="286.1" r="1.2"/><circle cx="179.4" cy="280.6" r="1.2"/><circle cx="197.2" cy="260.3" r="1.2"/><circle cx="206.4" cy="285.9" r="1.2"/><circle cx="156.3" cy="288.1" r="1.2"/><circle cx="171.9" cy="168.5" r="1.2"/><circle cx="178.5" cy="246.1" r="1.2"/><circle cx="198.3" cy="277.2" r="1.2"/><circle cx="218.7" cy="236.6" r="1.2"/><circle cx="170.9" cy="291.3" r="1.2"/><circle cx="215.4" cy="265.3" r="1.2"/><circle cx="182.6" cy="281.6" r="1.2"/><circle cx="177.3" cy="271.7" r="1.2"/><circle cx="196.0" cy="283.4" r="1.2"/><circle cx="157.3" cy="229.0" r="1.2"/><circle cx="196.3" cy="286.3" r="1.2"/><circle cx="236.3" cy="285.5" r="1.2"/><circle cx="155.3" cy="213.4" r="1.2"/><circle cx="161.8" cy="282.8" r="1.2"/><circle cx="218.3" cy="286.2" r="1.2"/><circle cx="195.2" cy="284.3" r="1.2"/><circle cx="172.6" cy="277.6" r="1.2"/><circle cx="198.2" cy="280.8" r="1.2"/><circle cx="211.8" cy="213.3" r="1.2"/><circle cx="140.0" cy="267.6" r="1.2"/><circle cx="168.9" cy="229.8" r="1.2"/><circle cx="197.7" cy="257.7" r="1.2"/><circle cx="208.3" cy="288.7" r="1.2"/><circle cx="182.4" cy="282.5" r="1.2"/><circle cx="181.2" cy="283.4" r="1.2"/><circle cx="221.1" cy="285.6" r="1.2"/><circle cx="180.6" cy="288.2" r="1.2"/><circle cx="196.2" cy="268.0" r="1.2"/><circle cx="176.8" cy="227.2" r="1.2"/><circle cx="202.0" cy="262.1" r="1.2"/><circle cx="183.8" cy="285.2" r="1.2"/><circle cx="183.5" cy="288.7" r="1.2"/><circle cx="204.1" cy="266.0" r="1.2"/><circle cx="211.6" cy="279.0" r="1.2"/><circle cx="210.9" cy="283.8" r="1.2"/><circle cx="156.0" cy="286.7" r="1.2"/><circle cx="169.6" cy="287.6" r="1.2"/><circle cx="168.8" cy="258.0" r="1.2"/><circle cx="144.9" cy="283.9" r="1.2"/><circle cx="234.8" cy="284.3" r="1.2"/><circle cx="172.3" cy="277.1" r="1.2"/><circle cx="143.4" cy="284.1" r="1.2"/><circle cx="199.1" cy="289.3" r="1.2"/><circle cx="214.1" cy="243.3" r="1.2"/><circle cx="219.0" cy="237.8" r="1.2"/><circle cx="144.7" cy="241.7" r="1.2"/><circle cx="176.2" cy="234.8" r="1.2"/><circle cx="203.8" cy="206.3" r="1.2"/><circle cx="167.9" cy="243.8" r="1.2"/><circle cx="148.0" cy="281.4" r="1.2"/><circle cx="212.4" cy="269.6" r="1.2"/><circle cx="206.7" cy="241.7" r="1.2"/><circle cx="180.7" cy="265.0" r="1.2"/><circle cx="238.4" cy="242.2" r="1.2"/><circle cx="247.1" cy="286.2" r="1.2"/><circle cx="171.9" cy="271.6" r="1.2"/><circle cx="183.6" cy="286.6" r="1.2"/><circle cx="230.8" cy="285.7" r="1.2"/><circle cx="175.0" cy="267.5" r="1.2"/><circle cx="207.8" cy="285.1" r="1.2"/><circle cx="223.2" cy="218.5" r="1.2"/><circle cx="202.2" cy="283.3" r="1.2"/><circle cx="237.5" cy="285.8" r="1.2"/><circle cx="219.3" cy="223.2" r="1.2"/><circle cx="194.9" cy="289.4" r="1.2"/><circle cx="179.9" cy="274.8" r="1.2"/><circle cx="199.8" cy="288.2" r="1.2"/><circle cx="203.4" cy="257.4" r="1.2"/><circle cx="172.0" cy="216.2" r="1.2"/><circle cx="133.0" cy="287.7" r="1.2"/><circle cx="209.9" cy="284.4" r="1.2"/><circle cx="183.3" cy="287.2" r="1.2"/><circle cx="185.7" cy="287.8" r="1.2"/><circle cx="201.0" cy="235.4" r="1.2"/><circle cx="177.2" cy="256.6" r="1.2"/><circle cx="168.8" cy="286.6" r="1.2"/><circle cx="210.1" cy="278.7" r="1.2"/><circle cx="94.5" cy="285.1" r="1.2"/><circle cx="212.2" cy="250.9" r="1.2"/><circle cx="195.2" cy="290.9" r="1.2"/><circle cx="200.3" cy="218.1" r="1.2"/><circle cx="175.5" cy="283.5" r="1.2"/><circle cx="173.0" cy="185.5" r="1.2"/><circle cx="178.9" cy="288.4" r="1.2"/><circle cx="198.5" cy="261.8" r="1.2"/><circle cx="254.4" cy="284.6" r="1.2"/><circle cx="246.8" cy="238.1" r="1.2"/><circle cx="230.4" cy="283.1" r="1.2"/><circle cx="214.0" cy="282.7" r="1.2"/><circle cx="210.3" cy="280.0" r="1.2"/><circle cx="178.6" cy="282.5" r="1.2"/><circle cx="242.7" cy="289.5" r="1.2"/><circle cx="219.7" cy="178.9" r="1.2"/><circle cx="181.9" cy="289.3" r="1.2"/><circle cx="180.8" cy="284.4" r="1.2"/><circle cx="151.0" cy="170.0" r="1.2"/><circle cx="182.6" cy="278.7" r="1.2"/><circle cx="224.6" cy="285.2" r="1.2"/><circle cx="212.2" cy="235.7" r="1.2"/><circle cx="206.3" cy="278.3" r="1.2"/><circle cx="165.6" cy="281.3" r="1.2"/><circle cx="204.6" cy="196.8" r="1.2"/><circle cx="171.7" cy="275.9" r="1.2"/><circle cx="172.0" cy="192.3" r="1.2"/><circle cx="161.7" cy="200.4" r="1.2"/><circle cx="199.7" cy="239.5" r="1.2"/><circle cx="132.5" cy="205.6" r="1.2"/><circle cx="159.9" cy="283.0" r="1.2"/><circle cx="234.5" cy="284.0" r="1.2"/><circle cx="225.2" cy="276.7" r="1.2"/><circle cx="167.7" cy="277.6" r="1.2"/><circle cx="171.9" cy="283.2" r="1.2"/><circle cx="175.4" cy="278.9" r="1.2"/><circle cx="232.9" cy="268.2" r="1.2"/><circle cx="179.3" cy="261.8" r="1.2"/><circle cx="207.6" cy="291.2" r="1.2"/><circle cx="217.0" cy="285.0" r="1.2"/><circle cx="178.0" cy="266.5" r="1.2"/><circle cx="202.2" cy="206.2" r="1.2"/><circle cx="165.6" cy="270.7" r="1.2"/><circle cx="151.7" cy="244.6" r="1.2"/><circle cx="214.7" cy="210.8" r="1.2"/><circle cx="180.7" cy="267.9" r="1.2"/><circle cx="175.0" cy="283.5" r="1.2"/><circle cx="197.8" cy="283.1" r="1.2"/><circle cx="178.8" cy="253.6" r="1.2"/><circle cx="133.5" cy="284.8" r="1.2"/><circle cx="200.6" cy="283.5" r="1.2"/><circle cx="207.6" cy="266.4" r="1.2"/><circle cx="205.8" cy="280.3" r="1.2"/><circle cx="158.8" cy="189.9" r="1.2"/><circle cx="175.6" cy="212.0" r="1.2"/><circle cx="169.0" cy="238.5" r="1.2"/><circle cx="228.5" cy="277.2" r="1.2"/><circle cx="161.6" cy="244.9" r="1.2"/><circle cx="207.8" cy="283.1" r="1.2"/><circle cx="225.2" cy="258.0" r="1.2"/><circle cx="177.7" cy="267.5" r="1.2"/><circle cx="157.9" cy="287.9" r="1.2"/><circle cx="178.2" cy="264.3" r="1.2"/><circle cx="193.7" cy="286.3" r="1.2"/><circle cx="195.6" cy="281.8" r="1.2"/><circle cx="202.0" cy="257.2" r="1.2"/><circle cx="162.2" cy="240.3" r="1.2"/><circle cx="174.9" cy="198.9" r="1.2"/><circle cx="199.1" cy="255.6" r="1.2"/><circle cx="202.1" cy="283.6" r="1.2"/><circle cx="177.1" cy="196.7" r="1.2"/><circle cx="138.2" cy="277.3" r="1.2"/><circle cx="161.8" cy="283.5" r="1.2"/><circle cx="185.2" cy="287.1" r="1.2"/><circle cx="196.9" cy="269.4" r="1.2"/><circle cx="172.8" cy="219.8" r="1.2"/><circle cx="170.4" cy="269.2" r="1.2"/><circle cx="179.9" cy="264.9" r="1.2"/><circle cx="203.3" cy="284.4" r="1.2"/><circle cx="178.6" cy="281.1" r="1.2"/><circle cx="160.8" cy="272.6" r="1.2"/><circle cx="171.9" cy="226.1" r="1.2"/><circle cx="229.6" cy="237.8" r="1.2"/><circle cx="199.7" cy="261.3" r="1.2"/><circle cx="229.3" cy="284.1" r="1.2"/><circle cx="286.0" cy="287.4" r="1.2"/><circle cx="246.8" cy="287.9" r="1.2"/><circle cx="157.0" cy="194.1" r="1.2"/><circle cx="206.2" cy="280.7" r="1.2"/><circle cx="194.3" cy="286.3" r="1.2"/><circle cx="182.8" cy="284.5" r="1.2"/><circle cx="170.0" cy="212.9" r="1.2"/><circle cx="200.7" cy="286.6" r="1.2"/><circle cx="253.7" cy="285.3" r="1.2"/><circle cx="174.9" cy="182.1" r="1.2"/><circle cx="171.9" cy="281.1" r="1.2"/><circle cx="165.7" cy="251.1" r="1.2"/><circle cx="164.5" cy="284.6" r="1.2"/><circle cx="262.3" cy="284.0" r="1.2"/><circle cx="158.6" cy="208.7" r="1.2"/><circle cx="170.6" cy="249.4" r="1.2"/><circle cx="174.6" cy="253.1" r="1.2"/><circle cx="193.3" cy="290.2" r="1.2"/><circle cx="181.7" cy="270.4" r="1.2"/><circle cx="203.5" cy="264.2" r="1.2"/><circle cx="176.3" cy="203.1" r="1.2"/><circle cx="193.5" cy="284.1" r="1.2"/><circle cx="217.4" cy="287.2" r="1.2"/><circle cx="206.2" cy="284.4" r="1.2"/><circle cx="202.0" cy="256.0" r="1.2"/><circle cx="206.4" cy="272.8" r="1.2"/><circle cx="167.0" cy="285.8" r="1.2"/><circle cx="219.6" cy="218.4" r="1.2"/><circle cx="173.3" cy="246.9" r="1.2"/><circle cx="168.3" cy="231.6" r="1.2"/><circle cx="198.6" cy="268.0" r="1.2"/><circle cx="195.5" cy="280.7" r="1.2"/><circle cx="196.0" cy="268.1" r="1.2"/><circle cx="171.6" cy="280.5" r="1.2"/><circle cx="136.1" cy="283.5" r="1.2"/><circle cx="173.8" cy="247.4" r="1.2"/><circle cx="165.0" cy="285.2" r="1.2"/><circle cx="196.8" cy="282.1" r="1.2"/><circle cx="170.6" cy="267.0" r="1.2"/><circle cx="199.1" cy="260.3" r="1.2"/><circle cx="203.6" cy="219.4" r="1.2"/><circle cx="203.7" cy="201.6" r="1.2"/><circle cx="212.1" cy="254.1" r="1.2"/><circle cx="208.5" cy="278.0" r="1.2"/><circle cx="223.6" cy="268.2" r="1.2"/><circle cx="184.1" cy="291.1" r="1.2"/><circle cx="237.9" cy="284.6" r="1.2"/><circle cx="172.2" cy="216.1" r="1.2"/><circle cx="198.0" cy="284.3" r="1.2"/><circle cx="209.6" cy="285.9" r="1.2"/><circle cx="167.5" cy="237.5" r="1.2"/><circle cx="173.7" cy="212.9" r="1.2"/><circle cx="216.7" cy="271.9" r="1.2"/><circle cx="197.9" cy="259.5" r="1.2"/><circle cx="224.9" cy="283.9" r="1.2"/><circle cx="176.0" cy="229.9" r="1.2"/><circle cx="159.7" cy="281.7" r="1.2"/><circle cx="180.1" cy="283.2" r="1.2"/><circle cx="174.9" cy="243.1" r="1.2"/><circle cx="182.2" cy="285.5" r="1.2"/><circle cx="123.7" cy="286.8" r="1.2"/><circle cx="167.4" cy="250.2" r="1.2"/><circle cx="168.1" cy="265.8" r="1.2"/><circle cx="114.3" cy="255.3" r="1.2"/><circle cx="198.3" cy="246.6" r="1.2"/><circle cx="172.5" cy="202.1" r="1.2"/><circle cx="136.2" cy="264.1" r="1.2"/><circle cx="163.0" cy="191.9" r="1.2"/><circle cx="218.2" cy="283.6" r="1.2"/><circle cx="198.9" cy="264.8" r="1.2"/><circle cx="203.7" cy="286.1" r="1.2"/><circle cx="178.3" cy="268.4" r="1.2"/><circle cx="220.8" cy="260.2" r="1.2"/><circle cx="140.3" cy="282.9" r="1.2"/><circle cx="172.9" cy="285.3" r="1.2"/><circle cx="222.4" cy="282.2" r="1.2"/><circle cx="193.8" cy="290.8" r="1.2"/><circle cx="205.6" cy="172.3" r="1.2"/><circle cx="226.5" cy="272.2" r="1.2"/><circle cx="177.5" cy="234.1" r="1.2"/><circle cx="143.5" cy="274.0" r="1.2"/><circle cx="288.0" cy="286.7" r="1.2"/><circle cx="184.7" cy="290.0" r="1.2"/><circle cx="199.1" cy="282.3" r="1.2"/><circle cx="195.5" cy="272.6" r="1.2"/><circle cx="183.8" cy="283.6" r="1.2"/><circle cx="196.6" cy="280.8" r="1.2"/><circle cx="209.9" cy="283.0" r="1.2"/><circle cx="177.2" cy="244.7" r="1.2"/><circle cx="175.5" cy="218.8" r="1.2"/><circle cx="201.0" cy="283.4" r="1.2"/><circle cx="251.3" cy="283.9" r="1.2"/><circle cx="213.2" cy="217.4" r="1.2"/><circle cx="202.4" cy="186.7" r="1.2"/><circle cx="173.5" cy="281.3" r="1.2"/><circle cx="178.7" cy="260.3" r="1.2"/><circle cx="160.8" cy="282.7" r="1.2"/><circle cx="176.4" cy="287.5" r="1.2"/><circle cx="210.2" cy="281.2" r="1.2"/><circle cx="218.8" cy="284.0" r="1.2"/><circle cx="226.4" cy="210.9" r="1.2"/><circle cx="208.1" cy="237.1" r="1.2"/><circle cx="233.9" cy="276.6" r="1.2"/><circle cx="265.0" cy="236.4" r="1.2"/><circle cx="207.3" cy="217.7" r="1.2"/><circle cx="196.3" cy="282.0" r="1.2"/><circle cx="126.8" cy="284.2" r="1.2"/><circle cx="166.0" cy="247.9" r="1.2"/><circle cx="182.7" cy="282.7" r="1.2"/><circle cx="174.0" cy="284.3" r="1.2"/><circle cx="157.4" cy="283.7" r="1.2"/><circle cx="180.5" cy="264.7" r="1.2"/><circle cx="168.1" cy="243.9" r="1.2"/><circle cx="218.1" cy="287.3" r="1.2"/><circle cx="201.8" cy="252.7" r="1.2"/><circle cx="328.4" cy="284.3" r="1.2"/><circle cx="213.4" cy="261.6" r="1.2"/><circle cx="147.2" cy="252.7" r="1.2"/><circle cx="208.7" cy="285.2" r="1.2"/><circle cx="172.8" cy="244.9" r="1.2"/><circle cx="106.5" cy="288.3" r="1.2"/><circle cx="160.8" cy="276.0" r="1.2"/><circle cx="195.7" cy="286.3" r="1.2"/><circle cx="205.9" cy="274.4" r="1.2"/><circle cx="201.2" cy="271.3" r="1.2"/><circle cx="207.7" cy="281.5" r="1.2"/><circle cx="120.9" cy="282.9" r="1.2"/><circle cx="161.7" cy="287.5" r="1.2"/><circle cx="138.6" cy="282.4" r="1.2"/><circle cx="260.7" cy="285.4" r="1.2"/><circle cx="184.7" cy="283.7" r="1.2"/><circle cx="161.9" cy="266.1" r="1.2"/><circle cx="166.8" cy="267.6" r="1.2"/><circle cx="198.3" cy="277.7" r="1.2"/><circle cx="182.7" cy="287.6" r="1.2"/><circle cx="199.9" cy="284.2" r="1.2"/><circle cx="177.3" cy="279.3" r="1.2"/><circle cx="202.7" cy="275.4" r="1.2"/><circle cx="199.1" cy="260.4" r="1.2"/><circle cx="198.8" cy="274.0" r="1.2"/><circle cx="163.2" cy="285.6" r="1.2"/><circle cx="203.6" cy="245.2" r="1.2"/><circle cx="235.1" cy="262.7" r="1.2"/><circle cx="166.8" cy="214.4" r="1.2"/><circle cx="237.6" cy="284.6" r="1.2"/><circle cx="181.7" cy="270.4" r="1.2"/><circle cx="207.3" cy="263.3" r="1.2"/><circle cx="160.2" cy="282.6" r="1.2"/><circle cx="228.4" cy="281.8" r="1.2"/><circle cx="200.4" cy="280.9" r="1.2"/><circle cx="150.3" cy="247.4" r="1.2"/><circle cx="177.9" cy="248.7" r="1.2"/><circle cx="165.1" cy="262.9" r="1.2"/><circle cx="177.5" cy="266.9" r="1.2"/><circle cx="173.1" cy="216.5" r="1.2"/><circle cx="152.8" cy="250.1" r="1.2"/><circle cx="204.1" cy="206.2" r="1.2"/><circle cx="205.9" cy="262.9" r="1.2"/><circle cx="207.8" cy="247.8" r="1.2"/><circle cx="213.0" cy="173.5" r="1.2"/><circle cx="248.0" cy="286.2" r="1.2"/><circle cx="152.6" cy="282.3" r="1.2"/><circle cx="232.4" cy="252.3" r="1.2"/><circle cx="173.4" cy="284.0" r="1.2"/><circle cx="164.5" cy="265.5" r="1.2"/><circle cx="103.8" cy="285.8" r="1.2"/><circle cx="176.3" cy="239.6" r="1.2"/><circle cx="194.8" cy="285.6" r="1.2"/><circle cx="173.0" cy="189.0" r="1.2"/><circle cx="265.0" cy="284.3" r="1.2"/><circle cx="193.7" cy="285.7" r="1.2"/><circle cx="115.7" cy="286.2" r="1.2"/><circle cx="174.6" cy="282.7" r="1.2"/><circle cx="106.8" cy="284.6" r="1.2"/><circle cx="213.1" cy="275.6" r="1.2"/><circle cx="213.7" cy="275.7" r="1.2"/><circle cx="176.7" cy="236.2" r="1.2"/><circle cx="197.9" cy="269.9" r="1.2"/><circle cx="175.9" cy="212.2" r="1.2"/><circle cx="181.8" cy="271.8" r="1.2"/><circle cx="180.3" cy="290.2" r="1.2"/><circle cx="195.6" cy="284.6" r="1.2"/><circle cx="173.0" cy="261.3" r="1.2"/><circle cx="172.7" cy="267.0" r="1.2"/><circle cx="194.1" cy="282.1" r="1.2"/><circle cx="174.7" cy="260.8" r="1.2"/><circle cx="213.5" cy="227.7" r="1.2"/><circle cx="148.9" cy="281.2" r="1.2"/><circle cx="225.5" cy="205.0" r="1.2"/><circle cx="202.7" cy="278.7" r="1.2"/><circle cx="112.9" cy="288.8" r="1.2"/><circle cx="201.9" cy="278.5" r="1.2"/><circle cx="146.5" cy="284.0" r="1.2"/><circle cx="203.4" cy="268.8" r="1.2"/><circle cx="173.0" cy="281.9" r="1.2"/><circle cx="202.9" cy="248.8" r="1.2"/><circle cx="181.8" cy="267.3" r="1.2"/><circle cx="174.0" cy="285.6" r="1.2"/><circle cx="238.3" cy="207.3" r="1.2"/><circle cx="181.9" cy="272.9" r="1.2"/><circle cx="234.2" cy="284.1" r="1.2"/><circle cx="182.4" cy="271.2" r="1.2"/><circle cx="171.2" cy="233.0" r="1.2"/><circle cx="210.7" cy="226.0" r="1.2"/><circle cx="162.2" cy="273.7" r="1.2"/><circle cx="153.0" cy="282.5" r="1.2"/><circle cx="155.8" cy="267.2" r="1.2"/><circle cx="154.7" cy="273.6" r="1.2"/><circle cx="172.9" cy="195.3" r="1.2"/><circle cx="227.3" cy="281.2" r="1.2"/><circle cx="176.4" cy="227.6" r="1.2"/><circle cx="203.1" cy="282.9" r="1.2"/><circle cx="226.9" cy="275.4" r="1.2"/><circle cx="198.6" cy="266.7" r="1.2"/><circle cx="204.1" cy="284.2" r="1.2"/><circle cx="178.4" cy="283.1" r="1.2"/><circle cx="175.4" cy="277.5" r="1.2"/><circle cx="176.7" cy="212.8" r="1.2"/><circle cx="182.1" cy="279.6" r="1.2"/><circle cx="142.0" cy="267.0" r="1.2"/><circle cx="203.3" cy="226.6" r="1.2"/><circle cx="241.2" cy="285.3" r="1.2"/><circle cx="181.7" cy="275.8" r="1.2"/><circle cx="210.2" cy="274.5" r="1.2"/><circle cx="290.3" cy="282.9" r="1.2"/><circle cx="200.7" cy="239.0" r="1.2"/><circle cx="201.8" cy="248.3" r="1.2"/><circle cx="180.7" cy="285.2" r="1.2"/><circle cx="183.6" cy="283.1" r="1.2"/><circle cx="170.1" cy="263.5" r="1.2"/><circle cx="195.2" cy="282.0" r="1.2"/><circle cx="166.1" cy="284.7" r="1.2"/><circle cx="173.7" cy="198.6" r="1.2"/><circle cx="147.3" cy="284.8" r="1.2"/><circle cx="156.6" cy="231.4" r="1.2"/><circle cx="208.6" cy="181.5" r="1.2"/><circle cx="211.2" cy="284.2" r="1.2"/><circle cx="212.3" cy="279.5" r="1.2"/><circle cx="172.2" cy="251.0" r="1.2"/><circle cx="165.5" cy="284.5" r="1.2"/><circle cx="174.0" cy="196.1" r="1.2"/><circle cx="205.6" cy="250.0" r="1.2"/><circle cx="180.7" cy="283.5" r="1.2"/><circle cx="203.3" cy="231.6" r="1.2"/><circle cx="167.8" cy="283.2" r="1.2"/><circle cx="177.4" cy="270.8" r="1.2"/><circle cx="161.7" cy="230.5" r="1.2"/><circle cx="148.0" cy="281.1" r="1.2"/><circle cx="175.3" cy="188.0" r="1.2"/><circle cx="178.3" cy="287.5" r="1.2"/><circle cx="207.6" cy="282.5" r="1.2"/><circle cx="171.6" cy="251.9" r="1.2"/><circle cx="169.6" cy="270.8" r="1.2"/><circle cx="175.9" cy="240.0" r="1.2"/><circle cx="144.0" cy="288.2" r="1.2"/><circle cx="209.9" cy="284.6" r="1.2"/><circle cx="203.6" cy="231.8" r="1.2"/><circle cx="171.8" cy="250.9" r="1.2"/><circle cx="109.5" cy="283.7" r="1.2"/><circle cx="211.6" cy="235.0" r="1.2"/><circle cx="198.9" cy="270.6" r="1.2"/><circle cx="208.7" cy="242.0" r="1.2"/><circle cx="236.9" cy="285.3" r="1.2"/><circle cx="259.2" cy="286.8" r="1.2"/><circle cx="158.9" cy="245.5" r="1.2"/><circle cx="163.6" cy="269.4" r="1.2"/><circle cx="159.5" cy="288.8" r="1.2"/><circle cx="159.8" cy="242.4" r="1.2"/><circle cx="198.3" cy="279.1" r="1.2"/><circle cx="220.2" cy="289.4" r="1.2"/><circle cx="196.4" cy="273.7" r="1.2"/><circle cx="174.1" cy="234.4" r="1.2"/><circle cx="150.6" cy="284.1" r="1.2"/><circle cx="201.3" cy="210.4" r="1.2"/><circle cx="235.8" cy="231.0" r="1.2"/><circle cx="208.3" cy="242.2" r="1.2"/><circle cx="145.0" cy="248.1" r="1.2"/><circle cx="203.2" cy="226.2" r="1.2"/><circle cx="232.2" cy="283.0" r="1.2"/><circle cx="158.8" cy="264.0" r="1.2"/><circle cx="156.9" cy="285.6" r="1.2"/><circle cx="165.9" cy="209.4" r="1.2"/><circle cx="219.3" cy="257.2" r="1.2"/><circle cx="177.0" cy="269.3" r="1.2"/><circle cx="160.4" cy="283.1" r="1.2"/><circle cx="214.3" cy="286.8" r="1.2"/><circle cx="143.1" cy="264.5" r="1.2"/><circle cx="162.9" cy="201.5" r="1.2"/><circle cx="171.6" cy="225.7" r="1.2"/><circle cx="209.4" cy="267.5" r="1.2"/><circle cx="177.4" cy="279.0" r="1.2"/><circle cx="201.5" cy="273.7" r="1.2"/><circle cx="161.4" cy="276.8" r="1.2"/><circle cx="231.4" cy="239.5" r="1.2"/><circle cx="191.0" cy="290.8" r="1.2"/><circle cx="178.8" cy="249.9" r="1.2"/><circle cx="129.1" cy="285.2" r="1.2"/><circle cx="176.8" cy="224.3" r="1.2"/><circle cx="177.1" cy="290.0" r="1.2"/><circle cx="172.1" cy="245.2" r="1.2"/><circle cx="184.3" cy="287.0" r="1.2"/><circle cx="195.4" cy="275.3" r="1.2"/><circle cx="196.3" cy="274.8" r="1.2"/><circle cx="183.6" cy="290.1" r="1.2"/><circle cx="207.2" cy="275.4" r="1.2"/><circle cx="159.4" cy="268.4" r="1.2"/><circle cx="229.3" cy="285.3" r="1.2"/><circle cx="212.8" cy="286.6" r="1.2"/><circle cx="172.4" cy="201.8" r="1.2"/><circle cx="167.1" cy="264.2" r="1.2"/><circle cx="238.0" cy="177.6" r="1.2"/><circle cx="202.1" cy="199.6" r="1.2"/><circle cx="165.7" cy="202.0" r="1.2"/><circle cx="174.6" cy="172.6" r="1.2"/><circle cx="203.3" cy="191.9" r="1.2"/><circle cx="125.2" cy="285.0" r="1.2"/><circle cx="202.1" cy="199.5" r="1.2"/><circle cx="211.4" cy="263.5" r="1.2"/><circle cx="193.5" cy="284.8" r="1.2"/><circle cx="173.3" cy="274.3" r="1.2"/><circle cx="209.2" cy="286.6" r="1.2"/><circle cx="175.0" cy="288.0" r="1.2"/><circle cx="198.0" cy="283.8" r="1.2"/><circle cx="172.5" cy="282.0" r="1.2"/><circle cx="201.4" cy="270.3" r="1.2"/><circle cx="227.3" cy="237.4" r="1.2"/><circle cx="211.3" cy="253.1" r="1.2"/><circle cx="173.1" cy="241.9" r="1.2"/><circle cx="173.8" cy="213.7" r="1.2"/><circle cx="170.5" cy="223.2" r="1.2"/><circle cx="173.1" cy="210.8" r="1.2"/><circle cx="308.3" cy="285.2" r="1.2"/><circle cx="193.4" cy="290.4" r="1.2"/><circle cx="199.4" cy="253.4" r="1.2"/><circle cx="205.3" cy="240.3" r="1.2"/><circle cx="182.1" cy="285.3" r="1.2"/><circle cx="218.2" cy="236.1" r="1.2"/><circle cx="221.2" cy="282.2" r="1.2"/><circle cx="171.7" cy="287.5" r="1.2"/><circle cx="129.2" cy="284.7" r="1.2"/><circle cx="159.5" cy="283.0" r="1.2"/><circle cx="166.0" cy="284.6" r="1.2"/><circle cx="152.6" cy="287.4" r="1.2"/><circle cx="203.9" cy="257.8" r="1.2"/><circle cx="192.3" cy="288.6" r="1.2"/><circle cx="175.8" cy="223.2" r="1.2"/><circle cx="169.8" cy="262.2" r="1.2"/><circle cx="160.1" cy="222.9" r="1.2"/><circle cx="175.6" cy="286.7" r="1.2"/><circle cx="178.1" cy="258.4" r="1.2"/><circle cx="199.0" cy="284.9" r="1.2"/><circle cx="180.2" cy="269.4" r="1.2"/><circle cx="180.4" cy="288.0" r="1.2"/><circle cx="182.4" cy="282.1" r="1.2"/><circle cx="227.9" cy="285.4" r="1.2"/><circle cx="205.3" cy="270.3" r="1.2"/><circle cx="135.6" cy="274.2" r="1.2"/><circle cx="185.2" cy="289.2" r="1.2"/><circle cx="184.0" cy="284.2" r="1.2"/><circle cx="180.5" cy="278.2" r="1.2"/><circle cx="215.1" cy="220.9" r="1.2"/><circle cx="195.6" cy="284.1" r="1.2"/><circle cx="183.9" cy="283.8" r="1.2"/><circle cx="194.7" cy="281.1" r="1.2"/><circle cx="124.0" cy="287.4" r="1.2"/><circle cx="175.2" cy="273.5" r="1.2"/><circle cx="182.3" cy="270.2" r="1.2"/><circle cx="199.5" cy="266.3" r="1.2"/><circle cx="176.3" cy="192.7" r="1.2"/><circle cx="164.4" cy="283.2" r="1.2"/><circle cx="227.3" cy="289.1" r="1.2"/><circle cx="169.8" cy="169.9" r="1.2"/><circle cx="199.0" cy="242.4" r="1.2"/><circle cx="209.7" cy="250.6" r="1.2"/><circle cx="180.7" cy="289.3" r="1.2"/><circle cx="233.1" cy="289.8" r="1.2"/><circle cx="152.8" cy="249.3" r="1.2"/><circle cx="172.6" cy="260.1" r="1.2"/><circle cx="210.7" cy="269.7" r="1.2"/><circle cx="181.3" cy="263.1" r="1.2"/><circle cx="156.7" cy="259.5" r="1.2"/><circle cx="236.3" cy="267.9" r="1.2"/><circle cx="219.3" cy="278.3" r="1.2"/><circle cx="168.4" cy="288.5" r="1.2"/><circle cx="179.7" cy="271.1" r="1.2"/><circle cx="167.9" cy="251.4" r="1.2"/><circle cx="166.0" cy="288.6" r="1.2"/><circle cx="212.5" cy="265.5" r="1.2"/><circle cx="232.2" cy="284.7" r="1.2"/><circle cx="200.7" cy="284.4" r="1.2"/><circle cx="213.7" cy="244.8" r="1.2"/><circle cx="202.3" cy="281.0" r="1.2"/><circle cx="226.9" cy="169.6" r="1.2"/><circle cx="153.9" cy="230.5" r="1.2"/><circle cx="183.8" cy="283.7" r="1.2"/><circle cx="160.7" cy="272.5" r="1.2"/><circle cx="177.6" cy="264.9" r="1.2"/><circle cx="151.6" cy="256.5" r="1.2"/><circle cx="230.9" cy="261.9" r="1.2"/><circle cx="149.0" cy="285.4" r="1.2"/><circle cx="128.1" cy="268.5" r="1.2"/><circle cx="171.0" cy="209.3" r="1.2"/><circle cx="167.9" cy="270.4" r="1.2"/><circle cx="142.5" cy="286.4" r="1.2"/><circle cx="207.4" cy="246.9" r="1.2"/><circle cx="162.7" cy="181.2" r="1.2"/><circle cx="170.1" cy="169.3" r="1.2"/><circle cx="180.1" cy="284.9" r="1.2"/><circle cx="193.9" cy="286.8" r="1.2"/><circle cx="209.7" cy="283.7" r="1.2"/><circle cx="180.3" cy="285.1" r="1.2"/><circle cx="172.5" cy="283.8" r="1.2"/><circle cx="168.1" cy="210.0" r="1.2"/><circle cx="197.3" cy="289.6" r="1.2"/><circle cx="169.8" cy="224.4" r="1.2"/><circle cx="199.3" cy="288.3" r="1.2"/><circle cx="172.7" cy="273.4" r="1.2"/><circle cx="247.1" cy="194.3" r="1.2"/><circle cx="225.9" cy="289.7" r="1.2"/><circle cx="151.0" cy="283.4" r="1.2"/><circle cx="232.3" cy="279.6" r="1.2"/><circle cx="218.6" cy="259.7" r="1.2"/><circle cx="209.7" cy="207.4" r="1.2"/><circle cx="198.1" cy="280.8" r="1.2"/><circle cx="219.7" cy="231.7" r="1.2"/><circle cx="182.4" cy="286.1" r="1.2"/><circle cx="134.3" cy="283.5" r="1.2"/><circle cx="165.8" cy="231.1" r="1.2"/><circle cx="82.5" cy="272.6" r="1.2"/><circle cx="162.3" cy="283.0" r="1.2"/><circle cx="226.1" cy="271.6" r="1.2"/><circle cx="196.2" cy="284.3" r="1.2"/><circle cx="175.6" cy="284.3" r="1.2"/><circle cx="216.1" cy="170.8" r="1.2"/><circle cx="207.4" cy="236.6" r="1.2"/><circle cx="196.1" cy="284.7" r="1.2"/><circle cx="160.8" cy="254.3" r="1.2"/><circle cx="212.1" cy="285.2" r="1.2"/><circle cx="178.0" cy="282.9" r="1.2"/><circle cx="199.5" cy="248.1" r="1.2"/><circle cx="206.3" cy="253.9" r="1.2"/><circle cx="211.5" cy="261.1" r="1.2"/><circle cx="227.4" cy="255.7" r="1.2"/><circle cx="163.6" cy="270.9" r="1.2"/><circle cx="229.3" cy="276.7" r="1.2"/><circle cx="162.0" cy="281.6" r="1.2"/><circle cx="164.1" cy="280.2" r="1.2"/><circle cx="214.8" cy="249.3" r="1.2"/><circle cx="173.6" cy="228.0" r="1.2"/><circle cx="207.0" cy="267.7" r="1.2"/><circle cx="208.8" cy="205.5" r="1.2"/><circle cx="202.8" cy="284.6" r="1.2"/><circle cx="198.9" cy="270.5" r="1.2"/><circle cx="188.0" cy="291.4" r="1.2"/><circle cx="195.5" cy="284.0" r="1.2"/><circle cx="85.4" cy="281.1" r="1.2"/><circle cx="195.0" cy="285.3" r="1.2"/><circle cx="222.9" cy="282.8" r="1.2"/><circle cx="193.9" cy="291.4" r="1.2"/><circle cx="211.7" cy="259.7" r="1.2"/><circle cx="208.9" cy="268.1" r="1.2"/><circle cx="314.6" cy="284.9" r="1.2"/><circle cx="203.5" cy="284.6" r="1.2"/><circle cx="146.1" cy="272.5" r="1.2"/><circle cx="171.0" cy="233.5" r="1.2"/><circle cx="148.9" cy="283.6" r="1.2"/><circle cx="161.0" cy="267.3" r="1.2"/><circle cx="156.0" cy="261.5" r="1.2"/><circle cx="166.7" cy="283.6" r="1.2"/><circle cx="163.5" cy="280.9" r="1.2"/><circle cx="199.2" cy="232.2" r="1.2"/><circle cx="207.2" cy="224.3" r="1.2"/><circle cx="198.3" cy="284.5" r="1.2"/><circle cx="172.7" cy="218.6" r="1.2"/><circle cx="127.2" cy="280.1" r="1.2"/><circle cx="175.8" cy="224.5" r="1.2"/><circle cx="180.9" cy="265.7" r="1.2"/><circle cx="204.8" cy="205.9" r="1.2"/><circle cx="200.9" cy="238.1" r="1.2"/><circle cx="180.1" cy="254.3" r="1.2"/><circle cx="182.0" cy="276.5" r="1.2"/><circle cx="220.2" cy="286.3" r="1.2"/><circle cx="208.2" cy="270.4" r="1.2"/><circle cx="172.3" cy="280.7" r="1.2"/><circle cx="177.9" cy="236.1" r="1.2"/><circle cx="223.5" cy="270.8" r="1.2"/><circle cx="157.2" cy="285.2" r="1.2"/><circle cx="173.6" cy="262.7" r="1.2"/><circle cx="215.7" cy="275.5" r="1.2"/><circle cx="164.8" cy="260.5" r="1.2"/><circle cx="151.9" cy="232.6" r="1.2"/><circle cx="202.8" cy="280.0" r="1.2"/><circle cx="177.8" cy="283.7" r="1.2"/><circle cx="171.7" cy="234.6" r="1.2"/><circle cx="193.1" cy="286.5" r="1.2"/><circle cx="196.0" cy="283.0" r="1.2"/><circle cx="171.6" cy="226.7" r="1.2"/><circle cx="202.4" cy="254.8" r="1.2"/><circle cx="181.1" cy="270.6" r="1.2"/><circle cx="174.8" cy="228.0" r="1.2"/><circle cx="197.2" cy="279.7" r="1.2"/><circle cx="216.0" cy="244.2" r="1.2"/><circle cx="193.6" cy="285.2" r="1.2"/><circle cx="291.2" cy="201.9" r="1.2"/><circle cx="244.7" cy="219.2" r="1.2"/><circle cx="104.4" cy="233.0" r="1.2"/><circle cx="209.6" cy="286.0" r="1.2"/><circle cx="174.4" cy="177.3" r="1.2"/><circle cx="151.5" cy="277.7" r="1.2"/><circle cx="200.0" cy="238.3" r="1.2"/><circle cx="163.3" cy="271.5" r="1.2"/><circle cx="203.6" cy="254.1" r="1.2"/><circle cx="230.7" cy="287.4" r="1.2"/><circle cx="177.7" cy="260.4" r="1.2"/><circle cx="213.6" cy="222.7" r="1.2"/><circle cx="161.9" cy="288.3" r="1.2"/><circle cx="176.0" cy="291.3" r="1.2"/><circle cx="223.5" cy="276.0" r="1.2"/><circle cx="257.1" cy="286.5" r="1.2"/><circle cx="220.2" cy="285.4" r="1.2"/><circle cx="200.7" cy="287.8" r="1.2"/><circle cx="161.4" cy="187.1" r="1.2"/><circle cx="199.4" cy="274.3" r="1.2"/><circle cx="203.2" cy="225.1" r="1.2"/><circle cx="232.6" cy="273.3" r="1.2"/><circle cx="167.4" cy="174.8" r="1.2"/><circle cx="282.1" cy="200.4" r="1.2"/><circle cx="120.4" cy="199.5" r="1.2"/><circle cx="217.7" cy="287.3" r="1.2"/><circle cx="223.9" cy="260.3" r="1.2"/><circle cx="171.0" cy="241.0" r="1.2"/><circle cx="207.5" cy="209.1" r="1.2"/><circle cx="124.5" cy="283.6" r="1.2"/><circle cx="172.0" cy="281.7" r="1.2"/><circle cx="175.7" cy="285.3" r="1.2"/><circle cx="218.7" cy="280.3" r="1.2"/><circle cx="175.4" cy="242.9" r="1.2"/><circle cx="214.3" cy="285.2" r="1.2"/><circle cx="202.1" cy="229.1" r="1.2"/><circle cx="172.4" cy="197.8" r="1.2"/><circle cx="162.7" cy="280.5" r="1.2"/><circle cx="178.2" cy="285.1" r="1.2"/><circle cx="170.9" cy="283.4" r="1.2"/><circle cx="156.4" cy="248.1" r="1.2"/><circle cx="197.5" cy="284.1" r="1.2"/><circle cx="201.2" cy="226.1" r="1.2"/><circle cx="154.2" cy="289.6" r="1.2"/><circle cx="163.3" cy="173.8" r="1.2"/><circle cx="146.2" cy="285.1" r="1.2"/><circle cx="216.3" cy="277.1" r="1.2"/><circle cx="194.7" cy="284.5" r="1.2"/><circle cx="171.2" cy="286.3" r="1.2"/><circle cx="165.5" cy="254.1" r="1.2"/><circle cx="165.3" cy="269.8" r="1.2"/><circle cx="160.8" cy="282.6" r="1.2"/><circle cx="201.0" cy="284.2" r="1.2"/><circle cx="141.4" cy="192.2" r="1.2"/><circle cx="168.6" cy="277.0" r="1.2"/><circle cx="83.7" cy="284.5" r="1.2"/><circle cx="228.0" cy="279.2" r="1.2"/><circle cx="199.8" cy="230.2" r="1.2"/><circle cx="167.3" cy="269.9" r="1.2"/><circle cx="160.8" cy="272.6" r="1.2"/><circle cx="146.0" cy="266.7" r="1.2"/><circle cx="208.3" cy="283.6" r="1.2"/><circle cx="208.3" cy="280.6" r="1.2"/><circle cx="178.0" cy="286.7" r="1.2"/><circle cx="214.0" cy="255.8" r="1.2"/><circle cx="156.6" cy="255.0" r="1.2"/><circle cx="248.3" cy="284.8" r="1.2"/><circle cx="212.6" cy="208.0" r="1.2"/><circle cx="149.2" cy="264.3" r="1.2"/><circle cx="197.8" cy="263.7" r="1.2"/><circle cx="212.8" cy="285.0" r="1.2"/><circle cx="221.0" cy="285.2" r="1.2"/><circle cx="149.4" cy="287.2" r="1.2"/><circle cx="139.8" cy="272.6" r="1.2"/><circle cx="217.1" cy="225.9" r="1.2"/><circle cx="126.1" cy="276.1" r="1.2"/><circle cx="239.5" cy="283.9" r="1.2"/><circle cx="246.8" cy="286.3" r="1.2"/><circle cx="180.1" cy="282.2" r="1.2"/><circle cx="177.2" cy="246.9" r="1.2"/><circle cx="162.8" cy="175.3" r="1.2"/><circle cx="249.8" cy="285.0" r="1.2"/><circle cx="172.8" cy="199.4" r="1.2"/><circle cx="205.9" cy="283.5" r="1.2"/><circle cx="212.1" cy="234.5" r="1.2"/><circle cx="219.9" cy="272.4" r="1.2"/><circle cx="158.7" cy="228.6" r="1.2"/><circle cx="203.4" cy="288.8" r="1.2"/><circle cx="175.0" cy="222.9" r="1.2"/><circle cx="186.2" cy="289.4" r="1.2"/><circle cx="225.0" cy="284.6" r="1.2"/><circle cx="196.8" cy="283.8" r="1.2"/><circle cx="178.3" cy="239.5" r="1.2"/><circle cx="202.3" cy="276.8" r="1.2"/><circle cx="198.3" cy="285.8" r="1.2"/><circle cx="116.2" cy="235.0" r="1.2"/><circle cx="67.6" cy="283.7" r="1.2"/><circle cx="202.0" cy="285.4" r="1.2"/><circle cx="195.2" cy="275.9" r="1.2"/><circle cx="175.0" cy="286.1" r="1.2"/><circle cx="193.5" cy="286.3" r="1.2"/><circle cx="171.8" cy="253.1" r="1.2"/><circle cx="181.4" cy="264.9" r="1.2"/><circle cx="208.2" cy="180.6" r="1.2"/><circle cx="174.4" cy="284.1" r="1.2"/><circle cx="173.7" cy="276.1" r="1.2"/><circle cx="307.3" cy="284.3" r="1.2"/><circle cx="166.8" cy="220.3" r="1.2"/><circle cx="203.4" cy="182.6" r="1.2"/><circle cx="195.7" cy="286.0" r="1.2"/><circle cx="207.3" cy="249.2" r="1.2"/><circle cx="164.6" cy="247.3" r="1.2"/><circle cx="176.6" cy="288.4" r="1.2"/><circle cx="229.5" cy="269.8" r="1.2"/><circle cx="171.1" cy="170.7" r="1.2"/><circle cx="165.1" cy="194.5" r="1.2"/><circle cx="203.7" cy="201.5" r="1.2"/><circle cx="161.7" cy="285.5" r="1.2"/><circle cx="199.9" cy="282.7" r="1.2"/><circle cx="152.5" cy="272.4" r="1.2"/><circle cx="177.9" cy="275.2" r="1.2"/><circle cx="207.8" cy="207.6" r="1.2"/><circle cx="183.4" cy="280.8" r="1.2"/><circle cx="171.2" cy="284.9" r="1.2"/><circle cx="164.6" cy="267.9" r="1.2"/><circle cx="214.3" cy="248.0" r="1.2"/><circle cx="186.1" cy="288.9" r="1.2"/><circle cx="183.5" cy="282.3" r="1.2"/><circle cx="182.3" cy="289.5" r="1.2"/><circle cx="169.6" cy="233.0" r="1.2"/><circle cx="200.0" cy="242.0" r="1.2"/><circle cx="203.5" cy="244.5" r="1.2"/><circle cx="179.7" cy="284.3" r="1.2"/><circle cx="201.0" cy="212.8" r="1.2"/><circle cx="203.3" cy="249.2" r="1.2"/><circle cx="167.2" cy="223.1" r="1.2"/><circle cx="175.3" cy="270.5" r="1.2"/><circle cx="170.5" cy="191.3" r="1.2"/><circle cx="214.4" cy="236.0" r="1.2"/><circle cx="203.2" cy="246.6" r="1.2"/><circle cx="183.2" cy="287.2" r="1.2"/><circle cx="141.4" cy="283.5" r="1.2"/><circle cx="171.6" cy="190.3" r="1.2"/><circle cx="138.3" cy="277.5" r="1.2"/><circle cx="211.2" cy="234.5" r="1.2"/><circle cx="200.4" cy="237.0" r="1.2"/><circle cx="108.5" cy="276.5" r="1.2"/><circle cx="211.9" cy="235.2" r="1.2"/><circle cx="179.9" cy="279.1" r="1.2"/><circle cx="240.2" cy="283.7" r="1.2"/><circle cx="175.7" cy="242.2" r="1.2"/><circle cx="158.5" cy="278.3" r="1.2"/><circle cx="194.6" cy="279.5" r="1.2"/><circle cx="103.5" cy="284.3" r="1.2"/><circle cx="164.7" cy="272.6" r="1.2"/><circle cx="193.7" cy="290.6" r="1.2"/><circle cx="175.3" cy="214.4" r="1.2"/><circle cx="176.8" cy="177.3" r="1.2"/><circle cx="201.8" cy="283.9" r="1.2"/><circle cx="154.9" cy="235.3" r="1.2"/><circle cx="198.6" cy="264.2" r="1.2"/><circle cx="178.0" cy="287.1" r="1.2"/><circle cx="172.1" cy="216.1" r="1.2"/><circle cx="150.7" cy="280.8" r="1.2"/><circle cx="251.9" cy="287.2" r="1.2"/><circle cx="194.5" cy="289.1" r="1.2"/><circle cx="197.1" cy="282.3" r="1.2"/><circle cx="249.6" cy="251.3" r="1.2"/><circle cx="206.2" cy="270.5" r="1.2"/><circle cx="186.4" cy="290.6" r="1.2"/><circle cx="194.9" cy="290.6" r="1.2"/><circle cx="137.1" cy="286.4" r="1.2"/><circle cx="222.6" cy="241.5" r="1.2"/><circle cx="168.9" cy="279.8" r="1.2"/><circle cx="198.5" cy="272.3" r="1.2"/><circle cx="205.8" cy="197.6" r="1.2"/><circle cx="162.2" cy="257.8" r="1.2"/><circle cx="129.1" cy="285.3" r="1.2"/><circle cx="206.6" cy="174.4" r="1.2"/><circle cx="174.0" cy="244.0" r="1.2"/><circle cx="170.6" cy="204.2" r="1.2"/><circle cx="199.7" cy="234.6" r="1.2"/><circle cx="179.1" cy="284.7" r="1.2"/><circle cx="214.0" cy="222.1" r="1.2"/><circle cx="171.0" cy="266.5" r="1.2"/><circle cx="164.5" cy="177.2" r="1.2"/><circle cx="180.6" cy="276.8" r="1.2"/><circle cx="251.4" cy="284.3" r="1.2"/><circle cx="202.6" cy="197.6" r="1.2"/><circle cx="278.9" cy="284.1" r="1.2"/><circle cx="209.2" cy="286.3" r="1.2"/><circle cx="200.7" cy="282.6" r="1.2"/><circle cx="164.0" cy="273.3" r="1.2"/><circle cx="241.6" cy="287.4" r="1.2"/><circle cx="203.8" cy="272.9" r="1.2"/><circle cx="122.3" cy="277.0" r="1.2"/><circle cx="195.2" cy="284.3" r="1.2"/><circle cx="169.4" cy="238.2" r="1.2"/><circle cx="181.9" cy="280.6" r="1.2"/><circle cx="166.8" cy="278.4" r="1.2"/><circle cx="162.7" cy="238.5" r="1.2"/><circle cx="176.0" cy="278.1" r="1.2"/><circle cx="183.0" cy="287.0" r="1.2"/><circle cx="205.5" cy="281.7" r="1.2"/><circle cx="218.5" cy="275.3" r="1.2"/><circle cx="166.7" cy="280.4" r="1.2"/><circle cx="220.3" cy="283.3" r="1.2"/><circle cx="159.0" cy="242.7" r="1.2"/><circle cx="162.0" cy="240.0" r="1.2"/><circle cx="159.4" cy="281.6" r="1.2"/><circle cx="195.8" cy="284.0" r="1.2"/><circle cx="198.0" cy="270.8" r="1.2"/><circle cx="193.0" cy="289.7" r="1.2"/><circle cx="215.0" cy="237.4" r="1.2"/><circle cx="176.5" cy="283.6" r="1.2"/><circle cx="179.1" cy="286.1" r="1.2"/><circle cx="195.2" cy="289.6" r="1.2"/><circle cx="206.0" cy="271.3" r="1.2"/><circle cx="181.8" cy="284.7" r="1.2"/><circle cx="170.7" cy="258.3" r="1.2"/><circle cx="192.0" cy="289.6" r="1.2"/><circle cx="195.0" cy="275.9" r="1.2"/><circle cx="183.0" cy="281.9" r="1.2"/><circle cx="145.0" cy="271.3" r="1.2"/><circle cx="213.2" cy="273.2" r="1.2"/><circle cx="213.9" cy="243.8" r="1.2"/><circle cx="172.1" cy="239.4" r="1.2"/><circle cx="177.0" cy="252.6" r="1.2"/><circle cx="167.3" cy="253.6" r="1.2"/><circle cx="203.2" cy="285.5" r="1.2"/><circle cx="194.7" cy="285.4" r="1.2"/><circle cx="174.5" cy="256.8" r="1.2"/><circle cx="219.8" cy="282.8" r="1.2"/><circle cx="221.0" cy="256.3" r="1.2"/><circle cx="197.3" cy="283.9" r="1.2"/><circle cx="174.0" cy="288.8" r="1.2"/><circle cx="165.9" cy="273.3" r="1.2"/><circle cx="174.2" cy="235.3" r="1.2"/><circle cx="172.0" cy="257.7" r="1.2"/><circle cx="177.1" cy="222.8" r="1.2"/><circle cx="117.4" cy="284.9" r="1.2"/><circle cx="197.6" cy="285.4" r="1.2"/><circle cx="210.1" cy="284.3" r="1.2"/><circle cx="170.6" cy="275.0" r="1.2"/><circle cx="171.8" cy="287.2" r="1.2"/><circle cx="199.9" cy="247.5" r="1.2"/><circle cx="185.0" cy="286.6" r="1.2"/><circle cx="220.4" cy="229.2" r="1.2"/><circle cx="177.1" cy="276.6" r="1.2"/><circle cx="128.0" cy="281.5" r="1.2"/><circle cx="177.7" cy="285.7" r="1.2"/><circle cx="259.2" cy="252.6" r="1.2"/><circle cx="158.4" cy="287.8" r="1.2"/><circle cx="203.5" cy="280.7" r="1.2"/><circle cx="213.6" cy="174.6" r="1.2"/><circle cx="178.1" cy="265.6" r="1.2"/><circle cx="204.2" cy="283.4" r="1.2"/><circle cx="183.7" cy="287.1" r="1.2"/><circle cx="169.5" cy="286.7" r="1.2"/><circle cx="208.1" cy="177.4" r="1.2"/><circle cx="198.0" cy="279.3" r="1.2"/><circle cx="210.7" cy="282.3" r="1.2"/><circle cx="134.5" cy="283.4" r="1.2"/><circle cx="115.2" cy="284.3" r="1.2"/><circle cx="172.9" cy="270.3" r="1.2"/><circle cx="156.0" cy="288.2" r="1.2"/><circle cx="219.1" cy="285.1" r="1.2"/><circle cx="152.2" cy="278.0" r="1.2"/><circle cx="196.6" cy="288.5" r="1.2"/><circle cx="197.0" cy="284.7" r="1.2"/><circle cx="176.6" cy="266.3" r="1.2"/><circle cx="175.9" cy="212.6" r="1.2"/><circle cx="200.0" cy="278.9" r="1.2"/><circle cx="200.3" cy="231.5" r="1.2"/><circle cx="201.3" cy="283.6" r="1.2"/><circle cx="183.5" cy="289.1" r="1.2"/><circle cx="132.9" cy="285.4" r="1.2"/><circle cx="157.7" cy="282.8" r="1.2"/><circle cx="223.8" cy="254.9" r="1.2"/><circle cx="212.8" cy="273.4" r="1.2"/><circle cx="183.5" cy="279.3" r="1.2"/><circle cx="173.2" cy="263.2" r="1.2"/><circle cx="223.5" cy="250.4" r="1.2"/><circle cx="173.7" cy="279.5" r="1.2"/><circle cx="155.7" cy="226.1" r="1.2"/><circle cx="211.8" cy="270.8" r="1.2"/><circle cx="203.1" cy="256.0" r="1.2"/><circle cx="134.2" cy="270.6" r="1.2"/><circle cx="198.1" cy="278.3" r="1.2"/><circle cx="194.3" cy="287.9" r="1.2"/><circle cx="166.2" cy="204.2" r="1.2"/><circle cx="225.7" cy="283.4" r="1.2"/><circle cx="170.8" cy="286.6" r="1.2"/><circle cx="206.6" cy="237.3" r="1.2"/><circle cx="217.6" cy="285.1" r="1.2"/><circle cx="146.0" cy="284.6" r="1.2"/><circle cx="217.1" cy="281.9" r="1.2"/><circle cx="204.8" cy="264.2" r="1.2"/><circle cx="181.0" cy="267.0" r="1.2"/><circle cx="197.3" cy="260.3" r="1.2"/><circle cx="115.0" cy="286.4" r="1.2"/><circle cx="155.0" cy="283.6" r="1.2"/><circle cx="181.8" cy="280.1" r="1.2"/><circle cx="193.6" cy="284.8" r="1.2"/><circle cx="198.3" cy="262.8" r="1.2"/><circle cx="213.6" cy="221.4" r="1.2"/><circle cx="195.7" cy="289.9" r="1.2"/><circle cx="205.3" cy="275.4" r="1.2"/><circle cx="210.8" cy="218.4" r="1.2"/><circle cx="207.7" cy="279.8" r="1.2"/><circle cx="170.8" cy="278.5" r="1.2"/><circle cx="175.9" cy="237.3" r="1.2"/><circle cx="213.4" cy="273.0" r="1.2"/><circle cx="213.8" cy="272.5" r="1.2"/><circle cx="224.4" cy="284.2" r="1.2"/><circle cx="201.2" cy="290.1" r="1.2"/><circle cx="174.5" cy="285.6" r="1.2"/><circle cx="244.7" cy="279.0" r="1.2"/><circle cx="209.4" cy="278.3" r="1.2"/><circle cx="174.8" cy="286.0" r="1.2"/><circle cx="213.0" cy="272.6" r="1.2"/><circle cx="177.1" cy="237.1" r="1.2"/><circle cx="164.3" cy="254.9" r="1.2"/><circle cx="168.9" cy="247.3" r="1.2"/><circle cx="174.8" cy="230.0" r="1.2"/><circle cx="259.6" cy="273.9" r="1.2"/><circle cx="160.2" cy="227.2" r="1.2"/><circle cx="225.6" cy="282.7" r="1.2"/><circle cx="138.2" cy="274.3" r="1.2"/><circle cx="163.7" cy="283.2" r="1.2"/><circle cx="200.9" cy="216.8" r="1.2"/><circle cx="203.2" cy="241.9" r="1.2"/><circle cx="198.5" cy="266.1" r="1.2"/><circle cx="204.0" cy="224.4" r="1.2"/><circle cx="168.2" cy="284.0" r="1.2"/><circle cx="197.4" cy="288.1" r="1.2"/><circle cx="137.6" cy="284.4" r="1.2"/><circle cx="219.7" cy="252.6" r="1.2"/><circle cx="137.7" cy="285.3" r="1.2"/><circle cx="203.6" cy="280.5" r="1.2"/><circle cx="174.1" cy="279.7" r="1.2"/><circle cx="133.1" cy="180.0" r="1.2"/><circle cx="143.4" cy="284.2" r="1.2"/><circle cx="176.6" cy="273.3" r="1.2"/><circle cx="143.6" cy="244.6" r="1.2"/><circle cx="205.2" cy="271.9" r="1.2"/><circle cx="222.6" cy="274.2" r="1.2"/><circle cx="256.2" cy="282.3" r="1.2"/><circle cx="176.4" cy="272.1" r="1.2"/><circle cx="178.3" cy="274.2" r="1.2"/><circle cx="202.3" cy="234.2" r="1.2"/><circle cx="243.7" cy="284.2" r="1.2"/><circle cx="177.9" cy="264.6" r="1.2"/><circle cx="178.0" cy="250.1" r="1.2"/><circle cx="145.9" cy="274.0" r="1.2"/><circle cx="229.9" cy="258.5" r="1.2"/><circle cx="257.3" cy="281.1" r="1.2"/><circle cx="277.6" cy="279.1" r="1.2"/><circle cx="158.2" cy="250.2" r="1.2"/><circle cx="180.7" cy="288.2" r="1.2"/><circle cx="176.7" cy="244.2" r="1.2"/><circle cx="164.1" cy="283.3" r="1.2"/><circle cx="146.7" cy="283.7" r="1.2"/><circle cx="167.2" cy="249.0" r="1.2"/><circle cx="177.7" cy="283.3" r="1.2"/><circle cx="196.5" cy="265.2" r="1.2"/><circle cx="195.4" cy="288.6" r="1.2"/><circle cx="227.6" cy="244.6" r="1.2"/><circle cx="160.1" cy="281.9" r="1.2"/><circle cx="197.9" cy="279.5" r="1.2"/><circle cx="150.4" cy="286.2" r="1.2"/><circle cx="207.6" cy="270.3" r="1.2"/><circle cx="197.7" cy="279.4" r="1.2"/><circle cx="212.0" cy="206.2" r="1.2"/><circle cx="153.4" cy="283.8" r="1.2"/><circle cx="173.4" cy="247.6" r="1.2"/><circle cx="129.8" cy="231.4" r="1.2"/><circle cx="146.1" cy="220.7" r="1.2"/><circle cx="158.0" cy="237.2" r="1.2"/><circle cx="180.6" cy="273.1" r="1.2"/><circle cx="160.7" cy="247.4" r="1.2"/><circle cx="177.4" cy="231.7" r="1.2"/><circle cx="129.6" cy="284.0" r="1.2"/><circle cx="212.0" cy="282.2" r="1.2"/><circle cx="212.0" cy="275.5" r="1.2"/><circle cx="169.0" cy="231.4" r="1.2"/><circle cx="145.0" cy="284.7" r="1.2"/><circle cx="175.1" cy="241.4" r="1.2"/><circle cx="186.5" cy="289.8" r="1.2"/><circle cx="208.2" cy="180.9" r="1.2"/><circle cx="182.7" cy="283.4" r="1.2"/><circle cx="134.3" cy="256.8" r="1.2"/><circle cx="159.2" cy="194.7" r="1.2"/><circle cx="279.4" cy="284.5" r="1.2"/><circle cx="154.0" cy="283.5" r="1.2"/><circle cx="228.7" cy="272.8" r="1.2"/><circle cx="153.9" cy="267.1" r="1.2"/><circle cx="168.3" cy="282.9" r="1.2"/><circle cx="174.4" cy="237.9" r="1.2"/><circle cx="195.7" cy="285.2" r="1.2"/><circle cx="204.4" cy="250.1" r="1.2"/><circle cx="213.4" cy="222.0" r="1.2"/><circle cx="143.3" cy="283.6" r="1.2"/><circle cx="160.6" cy="249.0" r="1.2"/><circle cx="192.9" cy="289.8" r="1.2"/><circle cx="173.2" cy="175.6" r="1.2"/><circle cx="166.4" cy="244.6" r="1.2"/><circle cx="169.5" cy="170.9" r="1.2"/><circle cx="210.1" cy="282.6" r="1.2"/><circle cx="168.6" cy="269.2" r="1.2"/><circle cx="165.9" cy="280.9" r="1.2"/><circle cx="192.5" cy="290.0" r="1.2"/><circle cx="208.3" cy="285.7" r="1.2"/><circle cx="186.2" cy="291.1" r="1.2"/><circle cx="163.8" cy="269.9" r="1.2"/><circle cx="211.9" cy="193.5" r="1.2"/><circle cx="127.3" cy="275.7" r="1.2"/><circle cx="172.5" cy="186.9" r="1.2"/><circle cx="180.9" cy="266.8" r="1.2"/><circle cx="199.6" cy="226.3" r="1.2"/><circle cx="212.2" cy="284.4" r="1.2"/><circle cx="208.2" cy="182.6" r="1.2"/><circle cx="250.2" cy="289.5" r="1.2"/><circle cx="218.3" cy="284.1" r="1.2"/><circle cx="201.9" cy="274.3" r="1.2"/><circle cx="179.3" cy="257.9" r="1.2"/><circle cx="212.3" cy="257.3" r="1.2"/><circle cx="184.1" cy="286.0" r="1.2"/><circle cx="181.9" cy="285.9" r="1.2"/><circle cx="196.2" cy="278.6" r="1.2"/><circle cx="199.3" cy="233.8" r="1.2"/><circle cx="178.7" cy="284.1" r="1.2"/><circle cx="206.3" cy="208.1" r="1.2"/><circle cx="226.6" cy="278.7" r="1.2"/><circle cx="143.1" cy="254.9" r="1.2"/><circle cx="166.1" cy="255.8" r="1.2"/><circle cx="219.2" cy="281.1" r="1.2"/><circle cx="148.7" cy="273.1" r="1.2"/><circle cx="197.2" cy="263.3" r="1.2"/><circle cx="202.7" cy="291.6" r="1.2"/><circle cx="181.3" cy="279.3" r="1.2"/><circle cx="183.9" cy="283.8" r="1.2"/><circle cx="177.0" cy="282.6" r="1.2"/><circle cx="201.7" cy="245.2" r="1.2"/><circle cx="204.9" cy="209.2" r="1.2"/><circle cx="169.4" cy="169.0" r="1.2"/><circle cx="154.4" cy="245.7" r="1.2"/><circle cx="131.0" cy="288.2" r="1.2"/><circle cx="174.4" cy="287.2" r="1.2"/><circle cx="168.6" cy="283.8" r="1.2"/><circle cx="216.7" cy="175.5" r="1.2"/><circle cx="182.5" cy="287.4" r="1.2"/><circle cx="166.2" cy="273.3" r="1.2"/><circle cx="201.1" cy="283.0" r="1.2"/><circle cx="176.4" cy="254.1" r="1.2"/><circle cx="170.7" cy="199.0" r="1.2"/><circle cx="197.4" cy="290.7" r="1.2"/><circle cx="196.6" cy="284.2" r="1.2"/><circle cx="175.4" cy="238.3" r="1.2"/><circle cx="175.6" cy="273.0" r="1.2"/><circle cx="209.2" cy="214.2" r="1.2"/><circle cx="206.5" cy="274.2" r="1.2"/><circle cx="179.2" cy="255.4" r="1.2"/><circle cx="176.9" cy="171.7" r="1.2"/><circle cx="198.9" cy="285.9" r="1.2"/><circle cx="176.7" cy="277.9" r="1.2"/><circle cx="231.2" cy="283.6" r="1.2"/><circle cx="205.1" cy="263.5" r="1.2"/><circle cx="201.8" cy="288.8" r="1.2"/><circle cx="192.7" cy="287.6" r="1.2"/><circle cx="172.6" cy="211.7" r="1.2"/><circle cx="199.4" cy="277.1" r="1.2"/><circle cx="155.1" cy="270.2" r="1.2"/><circle cx="177.4" cy="284.2" r="1.2"/><circle cx="204.8" cy="236.8" r="1.2"/><circle cx="134.6" cy="283.8" r="1.2"/><circle cx="198.3" cy="289.9" r="1.2"/><circle cx="244.7" cy="282.6" r="1.2"/><circle cx="160.6" cy="258.5" r="1.2"/><circle cx="208.8" cy="279.1" r="1.2"/><circle cx="206.0" cy="203.4" r="1.2"/><circle cx="169.7" cy="285.5" r="1.2"/><circle cx="164.4" cy="232.3" r="1.2"/><circle cx="174.9" cy="188.5" r="1.2"/><circle cx="200.1" cy="285.0" r="1.2"/><circle cx="195.2" cy="282.3" r="1.2"/><circle cx="208.8" cy="275.1" r="1.2"/><circle cx="178.4" cy="252.3" r="1.2"/><circle cx="209.4" cy="215.6" r="1.2"/><circle cx="168.0" cy="199.1" r="1.2"/><circle cx="196.2" cy="278.5" r="1.2"/><circle cx="162.1" cy="260.8" r="1.2"/><circle cx="202.1" cy="182.9" r="1.2"/><circle cx="201.2" cy="284.2" r="1.2"/><circle cx="172.4" cy="267.1" r="1.2"/><circle cx="168.4" cy="281.4" r="1.2"/><circle cx="211.6" cy="286.9" r="1.2"/><circle cx="171.1" cy="172.5" r="1.2"/><circle cx="212.2" cy="216.1" r="1.2"/><circle cx="217.6" cy="287.8" r="1.2"/><circle cx="225.6" cy="272.0" r="1.2"/><circle cx="195.0" cy="275.4" r="1.2"/><circle cx="193.3" cy="290.4" r="1.2"/><circle cx="213.5" cy="179.3" r="1.2"/><circle cx="180.4" cy="288.3" r="1.2"/><circle cx="204.6" cy="283.8" r="1.2"/><circle cx="164.0" cy="242.2" r="1.2"/><circle cx="181.4" cy="285.5" r="1.2"/><circle cx="167.1" cy="254.0" r="1.2"/><circle cx="195.2" cy="274.8" r="1.2"/><circle cx="207.6" cy="230.1" r="1.2"/><circle cx="175.4" cy="236.0" r="1.2"/><circle cx="178.9" cy="282.7" r="1.2"/><circle cx="196.3" cy="277.5" r="1.2"/><circle cx="163.1" cy="272.2" r="1.2"/><circle cx="206.0" cy="277.0" r="1.2"/><circle cx="154.0" cy="251.0" r="1.2"/><circle cx="244.1" cy="173.6" r="1.2"/><circle cx="161.6" cy="281.8" r="1.2"/><circle cx="151.8" cy="270.3" r="1.2"/><circle cx="182.8" cy="288.2" r="1.2"/><circle cx="171.4" cy="286.1" r="1.2"/><circle cx="119.5" cy="284.4" r="1.2"/><circle cx="218.3" cy="267.0" r="1.2"/><circle cx="208.8" cy="284.5" r="1.2"/><circle cx="177.7" cy="269.1" r="1.2"/><circle cx="198.9" cy="247.9" r="1.2"/><circle cx="217.0" cy="282.1" r="1.2"/><circle cx="165.6" cy="195.3" r="1.2"/><circle cx="224.6" cy="240.6" r="1.2"/><circle cx="201.8" cy="218.2" r="1.2"/><circle cx="173.1" cy="234.2" r="1.2"/><circle cx="155.1" cy="283.8" r="1.2"/><circle cx="142.2" cy="284.5" r="1.2"/><circle cx="215.3" cy="267.3" r="1.2"/><circle cx="198.9" cy="263.7" r="1.2"/><circle cx="168.3" cy="286.3" r="1.2"/><circle cx="153.4" cy="264.4" r="1.2"/><circle cx="274.6" cy="283.1" r="1.2"/><circle cx="171.1" cy="258.8" r="1.2"/><circle cx="224.6" cy="277.9" r="1.2"/><circle cx="198.1" cy="264.4" r="1.2"/><circle cx="201.2" cy="282.4" r="1.2"/><circle cx="207.6" cy="284.7" r="1.2"/><circle cx="148.4" cy="283.7" r="1.2"/><circle cx="207.7" cy="212.1" r="1.2"/><circle cx="178.4" cy="283.2" r="1.2"/><circle cx="281.0" cy="283.0" r="1.2"/><circle cx="181.0" cy="281.7" r="1.2"/><circle cx="212.9" cy="276.9" r="1.2"/><circle cx="179.2" cy="248.9" r="1.2"/><circle cx="180.7" cy="257.8" r="1.2"/><circle cx="155.1" cy="182.7" r="1.2"/><circle cx="201.6" cy="279.9" r="1.2"/><circle cx="172.6" cy="291.3" r="1.2"/><circle cx="197.7" cy="251.3" r="1.2"/><circle cx="169.8" cy="183.9" r="1.2"/><circle cx="206.0" cy="187.8" r="1.2"/><circle cx="182.6" cy="285.9" r="1.2"/><circle cx="196.0" cy="267.9" r="1.2"/><circle cx="176.9" cy="215.5" r="1.2"/><circle cx="180.3" cy="282.0" r="1.2"/><circle cx="179.8" cy="282.0" r="1.2"/><circle cx="167.4" cy="276.0" r="1.2"/><circle cx="202.8" cy="279.8" r="1.2"/><circle cx="177.6" cy="268.7" r="1.2"/><circle cx="204.3" cy="186.1" r="1.2"/><circle cx="199.6" cy="228.4" r="1.2"/><circle cx="175.8" cy="193.4" r="1.2"/><circle cx="164.5" cy="231.4" r="1.2"/><circle cx="167.7" cy="283.3" r="1.2"/><circle cx="218.4" cy="260.8" r="1.2"/><circle cx="202.5" cy="250.3" r="1.2"/><circle cx="200.4" cy="282.1" r="1.2"/><circle cx="198.7" cy="282.7" r="1.2"/><circle cx="185.8" cy="287.6" r="1.2"/><circle cx="178.8" cy="252.4" r="1.2"/><circle cx="170.6" cy="286.0" r="1.2"/><circle cx="118.4" cy="220.6" r="1.2"/><circle cx="207.3" cy="254.4" r="1.2"/><circle cx="213.0" cy="258.6" r="1.2"/><circle cx="110.1" cy="284.2" r="1.2"/><circle cx="110.6" cy="286.4" r="1.2"/><circle cx="177.7" cy="284.0" r="1.2"/><circle cx="219.3" cy="286.1" r="1.2"/><circle cx="174.3" cy="180.6" r="1.2"/><circle cx="245.6" cy="236.9" r="1.2"/><circle cx="197.5" cy="271.2" r="1.2"/><circle cx="219.6" cy="272.7" r="1.2"/><circle cx="195.0" cy="282.5" r="1.2"/><circle cx="172.1" cy="276.5" r="1.2"/><circle cx="180.1" cy="284.7" r="1.2"/><circle cx="195.4" cy="281.6" r="1.2"/><circle cx="163.3" cy="250.6" r="1.2"/><circle cx="154.1" cy="284.7" r="1.2"/><circle cx="221.0" cy="255.6" r="1.2"/><circle cx="140.3" cy="273.2" r="1.2"/><circle cx="157.9" cy="284.3" r="1.2"/><circle cx="175.6" cy="271.7" r="1.2"/><circle cx="180.4" cy="258.7" r="1.2"/><circle cx="228.4" cy="275.9" r="1.2"/><circle cx="195.6" cy="284.2" r="1.2"/><circle cx="196.5" cy="278.0" r="1.2"/><circle cx="199.1" cy="241.8" r="1.2"/><circle cx="160.1" cy="282.6" r="1.2"/><circle cx="193.5" cy="284.6" r="1.2"/><circle cx="194.8" cy="276.3" r="1.2"/><circle cx="219.5" cy="270.3" r="1.2"/><circle cx="201.0" cy="291.2" r="1.2"/><circle cx="174.8" cy="206.4" r="1.2"/><circle cx="159.3" cy="278.5" r="1.2"/><circle cx="182.3" cy="286.3" r="1.2"/><circle cx="208.4" cy="278.7" r="1.2"/><circle cx="220.3" cy="284.2" r="1.2"/><circle cx="197.3" cy="265.3" r="1.2"/><circle cx="162.5" cy="222.8" r="1.2"/><circle cx="195.7" cy="288.6" r="1.2"/><circle cx="181.0" cy="284.2" r="1.2"/><circle cx="199.3" cy="286.4" r="1.2"/><circle cx="202.6" cy="268.4" r="1.2"/><circle cx="180.1" cy="255.9" r="1.2"/><circle cx="200.5" cy="262.6" r="1.2"/><circle cx="170.8" cy="223.6" r="1.2"/><circle cx="200.4" cy="285.6" r="1.2"/><circle cx="205.1" cy="284.8" r="1.2"/><circle cx="203.2" cy="218.8" r="1.2"/><circle cx="129.1" cy="247.6" r="1.2"/><circle cx="172.7" cy="211.3" r="1.2"/><circle cx="208.4" cy="286.7" r="1.2"/><circle cx="178.5" cy="282.6" r="1.2"/><circle cx="197.4" cy="259.3" r="1.2"/><circle cx="181.7" cy="281.5" r="1.2"/><circle cx="152.1" cy="250.5" r="1.2"/><circle cx="153.2" cy="283.3" r="1.2"/><circle cx="100.1" cy="286.2" r="1.2"/><circle cx="204.5" cy="190.1" r="1.2"/><circle cx="206.8" cy="240.8" r="1.2"/><circle cx="209.7" cy="278.5" r="1.2"/><circle cx="205.7" cy="232.6" r="1.2"/><circle cx="205.0" cy="259.0" r="1.2"/><circle cx="204.1" cy="249.8" r="1.2"/><circle cx="194.0" cy="289.6" r="1.2"/><circle cx="196.5" cy="273.2" r="1.2"/><circle cx="238.9" cy="280.5" r="1.2"/><circle cx="195.5" cy="283.1" r="1.2"/><circle cx="128.3" cy="285.5" r="1.2"/><circle cx="197.2" cy="284.7" r="1.2"/><circle cx="199.7" cy="279.1" r="1.2"/><circle cx="234.5" cy="255.0" r="1.2"/><circle cx="214.2" cy="285.8" r="1.2"/><circle cx="174.4" cy="171.4" r="1.2"/><circle cx="202.0" cy="290.7" r="1.2"/><circle cx="194.8" cy="284.9" r="1.2"/><circle cx="167.1" cy="288.3" r="1.2"/><circle cx="173.5" cy="214.7" r="1.2"/><circle cx="221.5" cy="200.9" r="1.2"/><circle cx="180.7" cy="272.5" r="1.2"/><circle cx="135.4" cy="282.1" r="1.2"/><circle cx="171.1" cy="217.6" r="1.2"/><circle cx="216.0" cy="260.2" r="1.2"/><circle cx="215.1" cy="283.8" r="1.2"/><circle cx="198.7" cy="249.5" r="1.2"/><circle cx="169.3" cy="199.9" r="1.2"/><circle cx="169.8" cy="235.7" r="1.2"/><circle cx="136.0" cy="278.9" r="1.2"/><circle cx="183.2" cy="286.1" r="1.2"/><circle cx="215.3" cy="285.5" r="1.2"/><circle cx="166.1" cy="286.1" r="1.2"/><circle cx="183.3" cy="283.5" r="1.2"/><circle cx="205.2" cy="288.9" r="1.2"/><circle cx="170.0" cy="285.2" r="1.2"/><circle cx="181.8" cy="268.8" r="1.2"/><circle cx="199.0" cy="235.6" r="1.2"/><circle cx="172.3" cy="268.8" r="1.2"/><circle cx="181.3" cy="284.6" r="1.2"/><circle cx="207.1" cy="283.2" r="1.2"/><circle cx="134.9" cy="283.9" r="1.2"/><circle cx="172.5" cy="223.1" r="1.2"/><circle cx="171.9" cy="277.1" r="1.2"/><circle cx="163.7" cy="286.2" r="1.2"/><circle cx="166.3" cy="235.4" r="1.2"/><circle cx="160.1" cy="250.4" r="1.2"/><circle cx="156.6" cy="281.0" r="1.2"/><circle cx="195.4" cy="284.4" r="1.2"/><circle cx="181.7" cy="287.4" r="1.2"/><circle cx="169.0" cy="280.0" r="1.2"/><circle cx="222.5" cy="180.3" r="1.2"/><circle cx="176.9" cy="284.2" r="1.2"/><circle cx="216.8" cy="242.3" r="1.2"/><circle cx="171.6" cy="270.4" r="1.2"/><circle cx="181.3" cy="277.7" r="1.2"/><circle cx="219.5" cy="278.3" r="1.2"/><circle cx="285.7" cy="265.7" r="1.2"/><circle cx="202.9" cy="215.7" r="1.2"/><circle cx="205.5" cy="212.0" r="1.2"/><circle cx="201.7" cy="286.5" r="1.2"/><circle cx="182.2" cy="284.5" r="1.2"/><circle cx="209.7" cy="225.4" r="1.2"/><circle cx="228.6" cy="271.8" r="1.2"/><circle cx="177.5" cy="278.7" r="1.2"/><circle cx="182.5" cy="274.5" r="1.2"/><circle cx="149.4" cy="277.7" r="1.2"/><circle cx="161.9" cy="273.5" r="1.2"/><circle cx="214.2" cy="283.4" r="1.2"/><circle cx="176.5" cy="200.5" r="1.2"/><circle cx="161.5" cy="285.5" r="1.2"/><circle cx="161.6" cy="285.9" r="1.2"/><circle cx="248.1" cy="252.2" r="1.2"/><circle cx="159.0" cy="255.7" r="1.2"/><circle cx="179.4" cy="283.0" r="1.2"/><circle cx="209.0" cy="283.3" r="1.2"/><circle cx="143.2" cy="282.2" r="1.2"/><circle cx="178.2" cy="284.1" r="1.2"/><circle cx="169.8" cy="286.7" r="1.2"/><circle cx="208.9" cy="282.9" r="1.2"/><circle cx="227.8" cy="286.4" r="1.2"/><circle cx="169.5" cy="276.5" r="1.2"/><circle cx="209.5" cy="188.0" r="1.2"/><circle cx="178.5" cy="256.1" r="1.2"/><circle cx="141.2" cy="284.5" r="1.2"/><circle cx="201.3" cy="282.9" r="1.2"/><circle cx="199.4" cy="273.3" r="1.2"/><circle cx="201.2" cy="263.3" r="1.2"/><circle cx="142.2" cy="284.5" r="1.2"/><circle cx="207.0" cy="270.6" r="1.2"/><circle cx="208.3" cy="280.9" r="1.2"/><circle cx="198.0" cy="261.0" r="1.2"/><circle cx="200.6" cy="283.9" r="1.2"/><circle cx="206.2" cy="242.2" r="1.2"/><circle cx="241.5" cy="282.5" r="1.2"/><circle cx="205.2" cy="185.5" r="1.2"/><circle cx="207.1" cy="186.7" r="1.2"/><circle cx="199.6" cy="249.7" r="1.2"/><circle cx="125.7" cy="247.5" r="1.2"/><circle cx="179.1" cy="286.1" r="1.2"/><circle cx="181.0" cy="271.8" r="1.2"/><circle cx="204.4" cy="183.9" r="1.2"/><circle cx="242.2" cy="283.1" r="1.2"/><circle cx="156.8" cy="284.2" r="1.2"/><circle cx="230.7" cy="284.2" r="1.2"/><circle cx="170.0" cy="190.1" r="1.2"/><circle cx="249.7" cy="283.0" r="1.2"/><circle cx="200.0" cy="258.7" r="1.2"/><circle cx="207.9" cy="288.8" r="1.2"/><circle cx="209.6" cy="194.3" r="1.2"/><circle cx="175.8" cy="210.2" r="1.2"/><circle cx="199.4" cy="244.4" r="1.2"/><circle cx="197.6" cy="278.1" r="1.2"/><circle cx="213.1" cy="284.9" r="1.2"/><circle cx="215.6" cy="257.0" r="1.2"/><circle cx="199.2" cy="262.5" r="1.2"/><circle cx="180.7" cy="262.8" r="1.2"/><circle cx="223.9" cy="269.5" r="1.2"/><circle cx="176.4" cy="270.2" r="1.2"/><circle cx="198.6" cy="283.7" r="1.2"/><circle cx="158.7" cy="282.3" r="1.2"/><circle cx="200.6" cy="290.0" r="1.2"/><circle cx="169.7" cy="257.7" r="1.2"/><circle cx="170.9" cy="218.8" r="1.2"/><circle cx="176.6" cy="247.1" r="1.2"/><circle cx="177.8" cy="283.8" r="1.2"/><circle cx="238.9" cy="258.2" r="1.2"/><circle cx="230.0" cy="270.6" r="1.2"/><circle cx="215.7" cy="268.2" r="1.2"/><circle cx="178.7" cy="270.2" r="1.2"/><circle cx="173.3" cy="256.6" r="1.2"/><circle cx="198.5" cy="262.7" r="1.2"/><circle cx="201.7" cy="258.5" r="1.2"/><circle cx="168.8" cy="213.0" r="1.2"/><circle cx="251.0" cy="286.6" r="1.2"/><circle cx="181.4" cy="263.5" r="1.2"/><circle cx="194.1" cy="282.3" r="1.2"/><circle cx="144.4" cy="280.5" r="1.2"/><circle cx="170.8" cy="283.7" r="1.2"/><circle cx="225.0" cy="282.9" r="1.2"/><circle cx="242.1" cy="282.7" r="1.2"/><circle cx="211.3" cy="278.5" r="1.2"/><circle cx="150.4" cy="265.4" r="1.2"/><circle cx="205.8" cy="276.4" r="1.2"/><circle cx="233.2" cy="264.4" r="1.2"/><circle cx="228.3" cy="283.7" r="1.2"/><circle cx="211.3" cy="208.0" r="1.2"/><circle cx="165.5" cy="221.0" r="1.2"/><circle cx="175.5" cy="274.9" r="1.2"/><circle cx="182.6" cy="275.3" r="1.2"/><circle cx="183.2" cy="277.9" r="1.2"/><circle cx="211.8" cy="286.4" r="1.2"/><circle cx="184.0" cy="285.7" r="1.2"/><circle cx="219.4" cy="285.9" r="1.2"/><circle cx="178.7" cy="248.3" r="1.2"/><circle cx="163.7" cy="262.6" r="1.2"/><circle cx="302.3" cy="287.7" r="1.2"/><circle cx="209.3" cy="286.0" r="1.2"/><circle cx="171.2" cy="284.8" r="1.2"/><circle cx="173.2" cy="273.2" r="1.2"/><circle cx="200.2" cy="281.3" r="1.2"/><circle cx="155.4" cy="228.7" r="1.2"/><circle cx="193.4" cy="286.9" r="1.2"/><circle cx="103.5" cy="287.5" r="1.2"/><circle cx="260.0" cy="255.4" r="1.2"/><circle cx="180.3" cy="282.7" r="1.2"/><circle cx="196.7" cy="282.6" r="1.2"/><circle cx="197.1" cy="286.7" r="1.2"/><circle cx="193.4" cy="284.3" r="1.2"/><circle cx="197.7" cy="266.0" r="1.2"/><circle cx="164.8" cy="277.5" r="1.2"/><circle cx="199.2" cy="287.9" r="1.2"/><circle cx="125.4" cy="229.0" r="1.2"/><circle cx="220.4" cy="267.1" r="1.2"/><circle cx="175.3" cy="256.9" r="1.2"/><circle cx="122.1" cy="284.3" r="1.2"/><circle cx="133.2" cy="284.8" r="1.2"/><circle cx="201.4" cy="264.4" r="1.2"/><circle cx="143.4" cy="256.2" r="1.2"/><circle cx="209.8" cy="247.8" r="1.2"/><circle cx="201.7" cy="268.8" r="1.2"/><circle cx="198.1" cy="288.4" r="1.2"/><circle cx="176.5" cy="254.8" r="1.2"/><circle cx="208.0" cy="237.6" r="1.2"/><circle cx="197.7" cy="288.4" r="1.2"/><circle cx="157.9" cy="284.7" r="1.2"/><circle cx="199.2" cy="282.6" r="1.2"/><circle cx="166.0" cy="170.7" r="1.2"/><circle cx="179.6" cy="268.8" r="1.2"/><circle cx="203.8" cy="199.0" r="1.2"/><circle cx="220.4" cy="210.9" r="1.2"/><circle cx="210.9" cy="227.8" r="1.2"/><circle cx="203.0" cy="255.6" r="1.2"/><circle cx="174.0" cy="231.6" r="1.2"/><circle cx="170.4" cy="253.8" r="1.2"/><circle cx="208.2" cy="273.8" r="1.2"/><circle cx="219.4" cy="267.5" r="1.2"/><circle cx="213.7" cy="261.5" r="1.2"/><circle cx="148.8" cy="257.1" r="1.2"/><circle cx="209.6" cy="269.4" r="1.2"/><circle cx="174.5" cy="285.3" r="1.2"/><circle cx="196.5" cy="268.8" r="1.2"/><circle cx="167.6" cy="284.7" r="1.2"/><circle cx="203.6" cy="189.0" r="1.2"/><circle cx="164.2" cy="286.9" r="1.2"/><circle cx="199.2" cy="251.9" r="1.2"/><circle cx="154.2" cy="245.1" r="1.2"/><circle cx="179.4" cy="281.0" r="1.2"/><circle cx="201.7" cy="284.9" r="1.2"/><circle cx="90.8" cy="287.4" r="1.2"/><circle cx="202.1" cy="268.2" r="1.2"/><circle cx="146.2" cy="285.8" r="1.2"/><circle cx="222.3" cy="285.1" r="1.2"/><circle cx="221.0" cy="285.5" r="1.2"/><circle cx="267.7" cy="284.9" r="1.2"/><circle cx="186.2" cy="290.5" r="1.2"/><circle cx="195.1" cy="275.6" r="1.2"/><circle cx="209.1" cy="232.9" r="1.2"/><circle cx="155.1" cy="290.8" r="1.2"/><circle cx="201.4" cy="285.6" r="1.2"/><circle cx="181.9" cy="273.9" r="1.2"/><circle cx="215.5" cy="241.6" r="1.2"/><circle cx="156.1" cy="287.9" r="1.2"/><circle cx="163.6" cy="282.5" r="1.2"/><circle cx="216.5" cy="203.2" r="1.2"/><circle cx="172.5" cy="245.8" r="1.2"/><circle cx="241.0" cy="282.2" r="1.2"/><circle cx="236.4" cy="264.5" r="1.2"/><circle cx="232.5" cy="282.3" r="1.2"/><circle cx="167.4" cy="276.3" r="1.2"/><circle cx="237.1" cy="282.1" r="1.2"/><circle cx="182.3" cy="278.1" r="1.2"/><circle cx="217.4" cy="197.0" r="1.2"/><circle cx="225.8" cy="226.7" r="1.2"/><circle cx="156.7" cy="226.2" r="1.2"/><circle cx="175.1" cy="248.2" r="1.2"/><circle cx="201.3" cy="274.9" r="1.2"/><circle cx="206.6" cy="202.4" r="1.2"/><circle cx="209.5" cy="282.0" r="1.2"/><circle cx="234.9" cy="280.8" r="1.2"/><circle cx="219.6" cy="274.9" r="1.2"/><circle cx="211.0" cy="273.9" r="1.2"/><circle cx="186.1" cy="290.2" r="1.2"/><circle cx="206.1" cy="194.2" r="1.2"/><circle cx="153.4" cy="284.1" r="1.2"/><circle cx="200.4" cy="250.3" r="1.2"/><circle cx="225.4" cy="283.7" r="1.2"/><circle cx="180.0" cy="284.2" r="1.2"/><circle cx="171.9" cy="261.1" r="1.2"/><circle cx="177.3" cy="269.8" r="1.2"/><circle cx="184.3" cy="283.2" r="1.2"/><circle cx="171.5" cy="244.5" r="1.2"/><circle cx="182.5" cy="284.8" r="1.2"/><circle cx="180.9" cy="263.9" r="1.2"/><circle cx="172.7" cy="231.9" r="1.2"/><circle cx="134.8" cy="250.9" r="1.2"/><circle cx="165.4" cy="240.2" r="1.2"/><circle cx="171.1" cy="240.3" r="1.2"/><circle cx="241.6" cy="255.3" r="1.2"/><circle cx="160.4" cy="284.2" r="1.2"/><circle cx="181.0" cy="277.4" r="1.2"/><circle cx="200.1" cy="277.6" r="1.2"/><circle cx="231.5" cy="259.1" r="1.2"/><circle cx="240.0" cy="260.3" r="1.2"/><circle cx="127.1" cy="241.2" r="1.2"/><circle cx="169.2" cy="185.4" r="1.2"/><circle cx="235.7" cy="285.1" r="1.2"/><circle cx="199.7" cy="274.2" r="1.2"/><circle cx="179.2" cy="266.4" r="1.2"/><circle cx="217.3" cy="188.5" r="1.2"/><circle cx="195.4" cy="284.7" r="1.2"/><circle cx="206.3" cy="242.0" r="1.2"/><circle cx="147.4" cy="199.5" r="1.2"/><circle cx="173.3" cy="240.5" r="1.2"/><circle cx="208.4" cy="284.6" r="1.2"/><circle cx="182.8" cy="281.6" r="1.2"/><circle cx="212.5" cy="250.8" r="1.2"/><circle cx="199.2" cy="238.7" r="1.2"/><circle cx="173.4" cy="285.1" r="1.2"/><circle cx="193.7" cy="283.1" r="1.2"/><circle cx="165.1" cy="289.2" r="1.2"/><circle cx="155.9" cy="283.1" r="1.2"/><circle cx="135.8" cy="264.1" r="1.2"/><circle cx="204.8" cy="252.6" r="1.2"/><circle cx="201.1" cy="252.6" r="1.2"/><circle cx="168.7" cy="248.9" r="1.2"/><circle cx="171.4" cy="276.2" r="1.2"/><circle cx="200.3" cy="273.0" r="1.2"/><circle cx="155.6" cy="278.2" r="1.2"/><circle cx="206.1" cy="203.5" r="1.2"/><circle cx="176.0" cy="213.0" r="1.2"/><circle cx="204.9" cy="219.7" r="1.2"/><circle cx="178.3" cy="284.1" r="1.2"/><circle cx="200.9" cy="237.1" r="1.2"/><circle cx="204.0" cy="235.9" r="1.2"/><circle cx="179.2" cy="284.2" r="1.2"/><circle cx="163.8" cy="205.2" r="1.2"/><circle cx="164.6" cy="283.9" r="1.2"/><circle cx="205.5" cy="209.8" r="1.2"/><circle cx="177.2" cy="285.7" r="1.2"/><circle cx="154.6" cy="206.6" r="1.2"/><circle cx="185.8" cy="291.4" r="1.2"/><circle cx="169.0" cy="171.6" r="1.2"/><circle cx="207.9" cy="266.8" r="1.2"/><circle cx="173.6" cy="274.8" r="1.2"/><circle cx="166.7" cy="217.2" r="1.2"/><circle cx="199.3" cy="272.8" r="1.2"/><circle cx="172.6" cy="233.6" r="1.2"/><circle cx="196.6" cy="281.8" r="1.2"/><circle cx="201.5" cy="210.4" r="1.2"/><circle cx="197.0" cy="288.3" r="1.2"/><circle cx="183.5" cy="278.8" r="1.2"/><circle cx="180.6" cy="287.2" r="1.2"/><circle cx="206.9" cy="267.0" r="1.2"/><circle cx="154.7" cy="233.1" r="1.2"/><circle cx="159.1" cy="223.6" r="1.2"/><circle cx="209.5" cy="252.1" r="1.2"/><circle cx="169.3" cy="206.6" r="1.2"/><circle cx="206.2" cy="271.7" r="1.2"/><circle cx="202.1" cy="254.6" r="1.2"/><circle cx="180.2" cy="283.2" r="1.2"/><circle cx="195.3" cy="283.9" r="1.2"/><circle cx="200.6" cy="270.5" r="1.2"/><circle cx="195.7" cy="290.6" r="1.2"/><circle cx="183.7" cy="281.7" r="1.2"/><circle cx="182.7" cy="279.4" r="1.2"/><circle cx="173.7" cy="206.8" r="1.2"/><circle cx="203.8" cy="229.8" r="1.2"/><circle cx="198.9" cy="281.7" r="1.2"/><circle cx="212.5" cy="169.3" r="1.2"/><circle cx="203.5" cy="264.8" r="1.2"/><circle cx="172.3" cy="265.9" r="1.2"/><circle cx="170.0" cy="276.8" r="1.2"/><circle cx="216.0" cy="284.9" r="1.2"/><circle cx="183.5" cy="280.2" r="1.2"/><circle cx="171.3" cy="286.7" r="1.2"/><circle cx="157.6" cy="282.6" r="1.2"/><circle cx="158.8" cy="283.7" r="1.2"/><circle cx="176.1" cy="218.6" r="1.2"/><circle cx="145.3" cy="283.7" r="1.2"/><circle cx="180.1" cy="285.1" r="1.2"/><circle cx="195.5" cy="288.5" r="1.2"/><circle cx="211.5" cy="268.0" r="1.2"/><circle cx="138.2" cy="287.8" r="1.2"/><circle cx="173.5" cy="291.1" r="1.2"/><circle cx="176.2" cy="243.2" r="1.2"/><circle cx="219.4" cy="281.7" r="1.2"/><circle cx="196.9" cy="286.7" r="1.2"/><circle cx="207.6" cy="289.7" r="1.2"/><circle cx="183.8" cy="281.4" r="1.2"/><circle cx="155.1" cy="248.5" r="1.2"/><circle cx="171.3" cy="284.8" r="1.2"/><circle cx="270.2" cy="283.5" r="1.2"/><circle cx="170.2" cy="280.9" r="1.2"/><circle cx="176.7" cy="240.9" r="1.2"/><circle cx="198.7" cy="274.4" r="1.2"/><circle cx="195.8" cy="271.2" r="1.2"/><circle cx="216.0" cy="246.9" r="1.2"/><circle cx="202.4" cy="250.9" r="1.2"/><circle cx="205.5" cy="287.1" r="1.2"/><circle cx="261.5" cy="285.6" r="1.2"/><circle cx="164.0" cy="277.0" r="1.2"/><circle cx="204.9" cy="234.7" r="1.2"/><circle cx="156.1" cy="273.0" r="1.2"/><circle cx="157.4" cy="258.2" r="1.2"/><circle cx="184.2" cy="287.8" r="1.2"/><circle cx="136.8" cy="280.8" r="1.2"/><circle cx="199.5" cy="283.3" r="1.2"/><circle cx="203.2" cy="283.5" r="1.2"/><circle cx="226.0" cy="283.5" r="1.2"/><circle cx="182.0" cy="285.6" r="1.2"/><circle cx="203.5" cy="215.4" r="1.2"/><circle cx="220.2" cy="273.2" r="1.2"/><circle cx="221.1" cy="285.8" r="1.2"/><circle cx="151.0" cy="265.9" r="1.2"/><circle cx="161.4" cy="282.6" r="1.2"/><circle cx="204.3" cy="253.6" r="1.2"/><circle cx="173.1" cy="291.6" r="1.2"/><circle cx="135.2" cy="273.9" r="1.2"/><circle cx="214.2" cy="260.1" r="1.2"/><circle cx="214.5" cy="208.7" r="1.2"/><circle cx="170.3" cy="201.4" r="1.2"/><circle cx="176.4" cy="230.7" r="1.2"/><circle cx="170.7" cy="266.0" r="1.2"/><circle cx="121.8" cy="245.3" r="1.2"/><circle cx="150.4" cy="262.6" r="1.2"/><circle cx="228.3" cy="246.2" r="1.2"/><circle cx="212.5" cy="272.6" r="1.2"/><circle cx="165.3" cy="236.3" r="1.2"/><circle cx="176.8" cy="223.6" r="1.2"/><circle cx="161.2" cy="266.3" r="1.2"/><circle cx="215.5" cy="279.4" r="1.2"/><circle cx="197.4" cy="284.6" r="1.2"/><circle cx="174.2" cy="184.3" r="1.2"/><circle cx="182.4" cy="285.4" r="1.2"/><circle cx="197.0" cy="261.0" r="1.2"/><circle cx="147.4" cy="280.7" r="1.2"/><circle cx="139.7" cy="262.6" r="1.2"/><circle cx="147.4" cy="247.7" r="1.2"/><circle cx="177.1" cy="255.0" r="1.2"/><circle cx="174.3" cy="286.9" r="1.2"/><circle cx="177.5" cy="272.3" r="1.2"/><circle cx="202.9" cy="201.3" r="1.2"/><circle cx="238.7" cy="270.7" r="1.2"/><circle cx="204.0" cy="285.3" r="1.2"/><circle cx="167.2" cy="283.3" r="1.2"/><circle cx="192.0" cy="289.5" r="1.2"/><circle cx="201.8" cy="207.3" r="1.2"/><circle cx="209.1" cy="283.6" r="1.2"/><circle cx="178.4" cy="245.9" r="1.2"/><circle cx="175.1" cy="256.8" r="1.2"/><circle cx="200.3" cy="242.5" r="1.2"/><circle cx="84.4" cy="260.8" r="1.2"/><circle cx="223.8" cy="263.6" r="1.2"/><circle cx="173.2" cy="197.1" r="1.2"/><circle cx="178.5" cy="264.9" r="1.2"/><circle cx="176.3" cy="284.0" r="1.2"/><circle cx="157.7" cy="281.4" r="1.2"/><circle cx="253.3" cy="282.3" r="1.2"/><circle cx="247.3" cy="283.0" r="1.2"/><circle cx="197.7" cy="270.3" r="1.2"/><circle cx="214.4" cy="283.2" r="1.2"/><circle cx="195.7" cy="271.3" r="1.2"/><circle cx="219.6" cy="243.9" r="1.2"/><circle cx="203.6" cy="286.7" r="1.2"/><circle cx="218.8" cy="268.1" r="1.2"/><circle cx="193.7" cy="287.4" r="1.2"/><circle cx="176.6" cy="211.1" r="1.2"/><circle cx="197.7" cy="281.0" r="1.2"/><circle cx="212.6" cy="228.8" r="1.2"/><circle cx="184.5" cy="283.1" r="1.2"/><circle cx="154.6" cy="244.1" r="1.2"/><circle cx="201.6" cy="236.8" r="1.2"/><circle cx="303.0" cy="284.3" r="1.2"/><circle cx="179.9" cy="279.2" r="1.2"/><circle cx="207.6" cy="179.6" r="1.2"/><circle cx="205.0" cy="205.9" r="1.2"/><circle cx="200.9" cy="277.3" r="1.2"/><circle cx="179.0" cy="266.7" r="1.2"/><circle cx="162.0" cy="193.1" r="1.2"/><circle cx="230.6" cy="253.4" r="1.2"/><circle cx="178.8" cy="264.1" r="1.2"/><circle cx="203.4" cy="265.1" r="1.2"/><circle cx="172.3" cy="175.3" r="1.2"/><circle cx="198.0" cy="276.6" r="1.2"/><circle cx="174.2" cy="280.9" r="1.2"/><circle cx="202.7" cy="246.1" r="1.2"/><circle cx="255.2" cy="282.7" r="1.2"/><circle cx="171.8" cy="277.7" r="1.2"/><circle cx="177.1" cy="253.9" r="1.2"/><circle cx="180.1" cy="275.3" r="1.2"/><circle cx="181.0" cy="262.8" r="1.2"/><circle cx="202.1" cy="256.3" r="1.2"/><circle cx="225.8" cy="233.3" r="1.2"/><circle cx="170.1" cy="203.0" r="1.2"/><circle cx="154.0" cy="269.0" r="1.2"/><circle cx="216.9" cy="199.6" r="1.2"/><circle cx="179.7" cy="254.6" r="1.2"/><circle cx="184.5" cy="287.7" r="1.2"/><circle cx="166.6" cy="264.2" r="1.2"/><circle cx="201.8" cy="285.3" r="1.2"/><circle cx="157.6" cy="260.6" r="1.2"/><circle cx="158.2" cy="236.1" r="1.2"/><circle cx="181.5" cy="264.3" r="1.2"/><circle cx="168.8" cy="256.2" r="1.2"/><circle cx="179.5" cy="252.6" r="1.2"/><circle cx="163.2" cy="278.4" r="1.2"/><circle cx="208.8" cy="275.8" r="1.2"/><circle cx="159.6" cy="269.6" r="1.2"/><circle cx="264.0" cy="286.9" r="1.2"/><circle cx="183.9" cy="282.4" r="1.2"/><circle cx="179.5" cy="269.8" r="1.2"/><circle cx="178.0" cy="284.8" r="1.2"/><circle cx="163.7" cy="180.0" r="1.2"/><circle cx="171.2" cy="227.6" r="1.2"/><circle cx="159.1" cy="227.7" r="1.2"/><circle cx="136.8" cy="254.7" r="1.2"/><circle cx="234.3" cy="260.4" r="1.2"/></g>
<path d="M51.8 61.8h0M64.7 61.8h0M85.5 61.8h0M106.8 61.8h0M112.0 61.8h0M116.6 61.8h0M118.5 61.8h0M120.8 61.8h0M122.6 61.8h0M124.3 61.8h0M126.3 61.8h0M128.3 61.8h0M133.3 61.8h0M135.4 61.8h0M137.5 61.8h0M141.0 61.8h0M142.0 61.8h0M143.0 61.8h0M144.0 61.8h0M145.0 61.8h0M146.0 61.8h0M147.0 61.8h0M148.0 61.8h0M149.0 61.8h0M150.0 61.8h0M151.0 61.8h0M152.0 61.8h0M153.0 61.8h0M154.0 61.8h0M155.0 61.8h0M156.0 61.8h0M157.0 61.8h0M158.0 61.8h0M159.0 61.8h0M160.0 61.8h0M161.0 61.8h0M162.0 61.8h0M163.0 61.8h0M164.0 61.8h0M165.0 61.8h0M166.0 61.8h0M167.0 61.8h0M168.0 61.8h0M169.0 61.8h0M170.0 61.8h0M171.0 61.8h0M172.0 61.8h0M173.0 61.8h0M174.0 61.8h0M175.0 61.8h0M91.3 87.7h0M95.2 87.7h0M145.5 87.7h0M162.6 87.7h0M165.8 87.7h0M167.6 87.7h0M169.4 87.7h0M172.0 87.7h0M141.1 102.4h0M144.0 102.4h0M154.5 102.4h0M160.8 102.4h0M162.5 102.4h0M164.3 102.4h0M166.3 102.4h0M170.0 102.4h0M172.0 102.4h0M164.7 112.2h0M166.6 112.2h0M168.6 112.2h0M171.0 112.2h0M173.0 112.2h0M175.2 112.2h0M147.7 120.4h0M161.9 120.4h0M168.8 120.4h0M170.5 120.4h0M172.2 120.4h0M128.5 126.1h0M157.3 126.1h0M166.2 126.1h0M168.0 126.1h0M169.5 126.1h0M173.4 126.1h0M167.6 131.7h0M173.4 131.7h0M167.0 136.3h0M169.8 136.3h0M174.3 136.3h0M175.5 136.3h0M132.7 140.2h0M158.2 140.2h0M163.3 140.2h0M166.5 140.2h0M169.9 140.2h0M173.4 140.2h0M157.3 143.5h0M167.0 143.5h0M170.5 143.5h0M173.9 143.5h0M172.2 146.6h0M174.5 146.6h0M157.7 149.2h0M160.5 149.2h0M163.5 149.2h0M166.8 149.2h0M170.9 149.2h0M172.6 149.2h0M174.5 149.2h0M175.3 152.0h0M156.8 154.3h0M159.4 154.3h0M168.3 154.3h0M170.2 154.3h0M172.0 154.3h0M169.5 156.5h0M170.1 156.5h0M174.0 156.5h0M168.8 158.9h0M170.5 158.9h0M172.0 158.9h0M167.7 160.9h0M174.3 160.9h0M163.0 162.8h0M172.0 162.8h0M150.2 164.7h0M158.1 164.7h0M161.5 164.7h0M168.8 164.7h0M165.7 166.6h0M168.9 166.6h0M174.0 166.6h0M175.4 166.6h0M146.6 168.0h0M152.2 168.0h0M165.3 168.0h0M173.1 168.0h0M163.2 169.4h0M171.9 169.4h0M175.6 169.4h0" stroke="#46ad3d" stroke-width="2.45" stroke-linecap="round" fill="none"/>
<path d="M204.1 61.8h0M205.1 61.8h0M206.1 61.8h0M207.1 61.8h0M208.1 61.8h0M209.1 61.8h0M210.1 61.8h0M211.1 61.8h0M212.1 61.8h0M213.1 61.8h0M214.1 61.8h0M215.1 61.8h0M216.1 61.8h0M217.1 61.8h0M218.1 61.8h0M219.1 61.8h0M220.1 61.8h0M221.1 61.8h0M222.1 61.8h0M223.1 61.8h0M224.1 61.8h0M225.1 61.8h0M226.1 61.8h0M227.1 61.8h0M228.1 61.8h0M229.1 61.8h0M230.1 61.8h0M231.1 61.8h0M232.1 61.8h0M234.5 61.8h0M236.5 61.8h0M238.5 61.8h0M240.5 61.8h0M242.5 61.8h0M244.5 61.8h0M246.5 61.8h0M249.0 61.8h0M251.5 61.8h0M259.3 61.8h0M272.0 61.8h0M274.0 61.8h0M282.2 61.8h0M315.1 61.8h0M327.8 61.8h0M206.1 87.5h0M207.5 87.5h0M215.3 87.5h0M218.2 87.5h0M226.6 87.5h0M228.8 87.5h0M205.4 102.3h0M209.2 102.3h0M210.5 102.3h0M230.6 102.3h0M236.2 102.3h0M206.3 112.5h0M208.5 112.5h0M218.0 112.5h0M220.4 112.5h0M224.3 112.5h0M229.0 112.5h0M220.6 120.5h0M205.0 125.9h0M209.2 125.9h0M211.0 125.9h0M213.0 125.9h0M215.5 125.9h0M220.2 125.9h0M226.0 125.9h0M204.4 131.8h0M206.0 131.8h0M208.0 131.8h0M209.8 131.8h0M211.8 131.8h0M214.6 131.8h0M216.2 131.8h0M208.8 136.2h0M213.6 136.2h0M222.1 136.2h0M203.8 140.0h0M208.3 140.0h0M210.6 140.0h0M213.6 140.0h0M204.4 143.3h0M205.8 143.3h0M210.3 143.3h0M215.0 143.3h0M205.0 146.6h0M217.9 146.6h0M230.6 146.6h0M204.2 148.8h0M209.3 148.8h0M221.1 148.8h0M294.0 148.8h0M207.0 151.9h0M212.6 151.9h0M226.2 151.9h0M203.8 154.3h0M208.0 154.3h0M211.3 154.3h0M204.2 156.7h0M205.7 156.7h0M233.0 156.7h0M205.0 159.0h0M217.9 159.0h0M208.3 160.8h0M211.2 160.8h0M216.4 160.8h0M249.0 160.8h0M226.7 162.8h0M208.3 164.7h0M208.8 167.6h0M214.3 167.6h0M236.3 167.6h0M311.8 167.6h0M204.4 169.1h0M205.7 169.1h0M209.8 169.1h0M217.5 169.1h0" stroke="#ef7d22" stroke-width="2.45" stroke-linecap="round" fill="none"/>
<g stroke="#ff1a1a" stroke-width="1.1" fill="none">
<path d="M177.2 59.5V292.6 M201.4 59.5V292.6 M46.4 171.3H332"/></g>
<g stroke="#111" stroke-width="1.4" fill="none">
<path d="M45.6 57.25V293.3 M45.6 292.6H332.2V295.9"/>
<path d="M42.2 57.25H45.6"/>
<path d="M42.2 104.74H45.6"/>
<path d="M42.2 151.30H45.6"/>
<path d="M42.2 198.50H45.6"/>
<path d="M42.2 245.60H45.6"/>
<path d="M42.2 292.60H45.6"/>
<path d="M45.40 292.6V295.9"/>
<path d="M93.20 292.6V295.9"/>
<path d="M141.00 292.6V295.9"/>
<path d="M188.80 292.6V295.9"/>
<path d="M236.60 292.6V295.9"/>
<path d="M284.40 292.6V295.9"/>
</g>
<g font-size="10.5" fill="#111" stroke="#111" stroke-width="0.25" text-anchor="end">
<text x="36.4" y="60.85">2.5</text>
<text x="36.4" y="108.34">2</text>
<text x="36.4" y="154.90">1.5</text>
<text x="36.4" y="202.10">1</text>
<text x="36.4" y="249.20">0.5</text>
<text x="36.4" y="296.20">0</text>
</g>
<g font-size="10.5" fill="#111" stroke="#111" stroke-width="0.25" text-anchor="middle">
<text x="46.50" y="310.5">-6</text>
<text x="94.30" y="310.5">-4</text>
<text x="142.10" y="310.5">-2</text>
<text x="188.80" y="310.5">0</text>
<text x="236.60" y="310.5">2</text>
<text x="284.40" y="310.5">4</text>
<text x="332.20" y="310.5">6</text>
</g>

<text x="-1.2" y="20.6" font-size="27" fill="#000">(a)</text>
<text x="358" y="20.6" font-size="27" fill="#000">(b)</text>
<text x="129.7" y="56.8" font-size="12" fill="#222">FC ≤ 0.67</text>
<text x="196.8" y="56.8" font-size="12" fill="#222">FC ≥ 1.50</text>
<text x="47.9" y="184.7" font-size="12" fill="#222">q &lt; 0.05</text>
<rect x="53.3" y="93.5" width="76.2" height="28.9" fill="#fff" stroke="#333" stroke-width="1.1"/>
<rect x="252.2" y="93.5" width="76.9" height="28.9" fill="#fff" stroke="#333" stroke-width="1.1"/>
<text x="59.4" y="113.4" font-size="17.5" font-weight="bold" fill="#111" letter-spacing="0.6">S (286)</text>
<text x="259.3" y="114" font-size="17.5" font-weight="bold" fill="#111" letter-spacing="0.55">L (232)</text>
<text x="169.3" y="328.3" font-size="10" font-weight="bold" fill="#111">log<tspan font-size="7" dy="2">2</tspan><tspan dy="-2" dx="-0.9"> (FC)</tspan></text>
<text transform="translate(14.4,203.4) rotate(-90)" font-size="9.5" font-weight="bold" fill="#111" letter-spacing="0.4">-log<tspan font-size="6.5" dy="1.8">10</tspan><tspan dy="-1.8" dx="-1.2"> (FDR)</tspan></text>
<text x="389.8" y="320.8" font-size="17" font-weight="bold" fill="#111">L &gt; S</text>
<text x="545.2" y="407.9" font-size="17" font-weight="bold" fill="#111">L &lt; S</text>
<text x="396" y="368.2" font-size="11.2" fill="#222">log<tspan font-size="8" dy="1.6">2</tspan><tspan dy="-1.6"> (FPKM+1)</tspan></text>

</svg>
</body></html>
